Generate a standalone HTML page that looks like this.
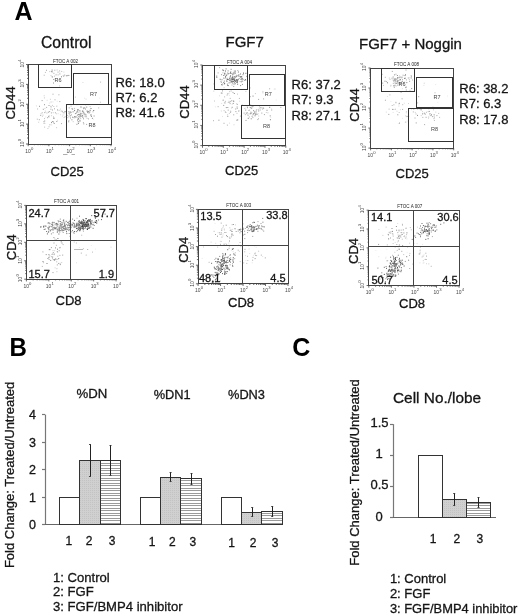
<!DOCTYPE html>
<html><head><meta charset="utf-8"><title>Figure</title>
<style>html,body{margin:0;padding:0;background:#fff;width:520px;height:616px;overflow:hidden;}svg{display:block;will-change:transform;}</style>
</head><body><svg width="520" height="616" viewBox="0 0 520 616" font-family='"Liberation Sans", sans-serif'><defs>
<pattern id="stripes" patternUnits="userSpaceOnUse" width="4" height="5" y="0"><rect width="4" height="5" fill="#fff"/><rect width="4" height="1" fill="#9a9a9a"/><rect y="3" width="4" height="1" fill="#9a9a9a"/></pattern>
<pattern id="grain" patternUnits="userSpaceOnUse" width="2" height="2"><rect width="2" height="2" fill="#d0d0d0"/><rect width="1" height="1" fill="#c3c3c3"/></pattern>
</defs><text x="14.50" y="19.60" font-size="25" text-anchor="start" font-weight="bold" fill="#000">A</text>
<text x="41.00" y="48.30" font-size="15.7" text-anchor="start" font-weight="normal" fill="#151515" stroke="#151515" stroke-width="0.3">Control</text>
<text x="225.50" y="47.00" font-size="15" text-anchor="start" font-weight="normal" fill="#151515" stroke="#151515" stroke-width="0.3">FGF7</text>
<text x="359.00" y="49.00" font-size="15" text-anchor="start" font-weight="normal" fill="#151515" stroke="#151515" stroke-width="0.3">FGF7 + Noggin</text>
<rect x="55.5" y="74.8" width="1" height="1" fill="rgb(213,213,213)"/><rect x="67.6" y="74.9" width="1" height="1" fill="rgb(142,142,142)"/><rect x="55.6" y="73.9" width="1" height="1" fill="rgb(194,194,194)"/><rect x="57.6" y="74.4" width="1" height="1" fill="rgb(183,183,183)"/><rect x="59.4" y="73.6" width="1" height="1" fill="rgb(184,184,184)"/><rect x="64.2" y="74.6" width="1" height="1" fill="rgb(158,158,158)"/><rect x="51.6" y="69.6" width="1" height="1" fill="rgb(137,137,137)"/><rect x="51.7" y="71.4" width="1" height="1" fill="rgb(158,158,158)"/><rect x="68.4" y="75.0" width="1" height="1" fill="rgb(167,167,167)"/><rect x="50.5" y="75.1" width="1" height="1" fill="rgb(203,203,203)"/><rect x="53.0" y="79.0" width="1" height="1" fill="rgb(153,153,153)"/><rect x="63.2" y="75.7" width="1" height="1" fill="rgb(154,154,154)"/><rect x="51.7" y="76.2" width="1" height="1" fill="rgb(138,138,138)"/><rect x="49.3" y="71.1" width="1" height="1" fill="rgb(193,193,193)"/><rect x="54.3" y="69.7" width="1" height="1" fill="rgb(170,170,170)"/><rect x="43.7" y="74.7" width="1" height="1" fill="rgb(176,176,176)"/><rect x="53.7" y="78.9" width="1" height="1" fill="rgb(219,219,219)"/><rect x="57.5" y="71.6" width="1" height="1" fill="rgb(168,168,168)"/><rect x="44.9" y="71.9" width="1" height="1" fill="rgb(187,187,187)"/><rect x="53.0" y="82.5" width="1" height="1" fill="rgb(145,145,145)"/><rect x="53.4" y="72.8" width="1" height="1" fill="rgb(173,173,173)"/><rect x="61.0" y="76.3" width="1" height="1" fill="rgb(135,135,135)"/><rect x="59.3" y="72.7" width="1" height="1" fill="rgb(201,201,201)"/><rect x="46.0" y="69.8" width="1" height="1" fill="rgb(170,170,170)"/><rect x="54.0" y="75.7" width="1" height="1" fill="rgb(193,193,193)"/><rect x="51.2" y="71.1" width="1" height="1" fill="rgb(141,141,141)"/><rect x="63.4" y="71.6" width="1" height="1" fill="rgb(215,215,215)"/><rect x="65.9" y="75.3" width="1" height="1" fill="rgb(169,169,169)"/><rect x="59.1" y="70.4" width="1" height="1" fill="rgb(179,179,179)"/><rect x="61.2" y="70.9" width="1" height="1" fill="rgb(189,189,189)"/><rect x="51.9" y="76.8" width="1" height="1" fill="rgb(193,193,193)"/><rect x="66.6" y="75.2" width="1" height="1" fill="rgb(146,146,146)"/><rect x="56.6" y="69.5" width="1" height="1" fill="rgb(193,193,193)"/><rect x="62.7" y="74.9" width="1" height="1" fill="rgb(200,200,200)"/><rect x="48.5" y="116.3" width="1" height="1" fill="rgb(195,195,195)"/><rect x="51.9" y="104.9" width="1" height="1" fill="rgb(193,193,193)"/><rect x="57.3" y="109.7" width="1" height="1" fill="rgb(188,188,188)"/><rect x="52.0" y="109.5" width="1" height="1" fill="rgb(162,162,162)"/><rect x="53.7" y="122.9" width="1" height="1" fill="rgb(141,141,141)"/><rect x="41.7" y="112.3" width="1" height="1" fill="rgb(173,173,173)"/><rect x="48.4" y="116.5" width="1" height="1" fill="rgb(208,208,208)"/><rect x="44.2" y="120.5" width="1" height="1" fill="rgb(156,156,156)"/><rect x="46.6" y="99.8" width="1" height="1" fill="rgb(219,219,219)"/><rect x="43.9" y="97.4" width="1" height="1" fill="rgb(198,198,198)"/><rect x="56.7" y="100.7" width="1" height="1" fill="rgb(227,227,227)"/><rect x="50.6" y="101.5" width="1" height="1" fill="rgb(191,191,191)"/><rect x="44.0" y="118.1" width="1" height="1" fill="rgb(191,191,191)"/><rect x="50.9" y="112.4" width="1" height="1" fill="rgb(166,166,166)"/><rect x="46.5" y="112.8" width="1" height="1" fill="rgb(216,216,216)"/><rect x="49.1" y="111.1" width="1" height="1" fill="rgb(159,159,159)"/><rect x="35.9" y="105.4" width="1" height="1" fill="rgb(218,218,218)"/><rect x="60.1" y="114.2" width="1" height="1" fill="rgb(218,218,218)"/><rect x="43.4" y="121.0" width="1" height="1" fill="rgb(184,184,184)"/><rect x="44.0" y="104.2" width="1" height="1" fill="rgb(154,154,154)"/><rect x="59.1" y="85.4" width="1" height="1" fill="rgb(199,199,199)"/><rect x="44.3" y="112.1" width="1" height="1" fill="rgb(158,158,158)"/><rect x="53.0" y="116.5" width="1" height="1" fill="rgb(173,173,173)"/><rect x="40.6" y="113.1" width="1" height="1" fill="rgb(206,206,206)"/><rect x="62.4" y="114.6" width="1" height="1" fill="rgb(207,207,207)"/><rect x="43.6" y="122.7" width="1" height="1" fill="rgb(143,143,143)"/><rect x="49.2" y="102.6" width="1" height="1" fill="rgb(222,222,222)"/><rect x="54.5" y="99.3" width="1" height="1" fill="rgb(173,173,173)"/><rect x="37.1" y="108.5" width="1" height="1" fill="rgb(185,185,185)"/><rect x="49.9" y="98.8" width="1" height="1" fill="rgb(204,204,204)"/><rect x="47.1" y="117.2" width="1" height="1" fill="rgb(164,164,164)"/><rect x="52.5" y="93.7" width="1" height="1" fill="rgb(169,169,169)"/><rect x="51.0" y="122.1" width="1" height="1" fill="rgb(143,143,143)"/><rect x="58.7" y="109.8" width="1" height="1" fill="rgb(200,200,200)"/><rect x="48.5" y="126.3" width="1" height="1" fill="rgb(184,184,184)"/><rect x="36.8" y="118.7" width="1" height="1" fill="rgb(184,184,184)"/><rect x="54.0" y="108.3" width="1" height="1" fill="rgb(168,168,168)"/><rect x="54.0" y="117.7" width="1" height="1" fill="rgb(183,183,183)"/><rect x="51.2" y="124.4" width="1" height="1" fill="rgb(218,218,218)"/><rect x="52.4" y="101.4" width="1" height="1" fill="rgb(223,223,223)"/><rect x="44.6" y="122.9" width="1" height="1" fill="rgb(224,224,224)"/><rect x="53.0" y="117.8" width="1" height="1" fill="rgb(165,165,165)"/><rect x="45.6" y="111.9" width="1" height="1" fill="rgb(221,221,221)"/><rect x="44.1" y="126.6" width="1" height="1" fill="rgb(190,190,190)"/><rect x="40.2" y="114.8" width="1" height="1" fill="rgb(150,150,150)"/><rect x="48.5" y="105.0" width="1" height="1" fill="rgb(156,156,156)"/><rect x="56.2" y="113.3" width="1" height="1" fill="rgb(199,199,199)"/><rect x="50.1" y="105.7" width="1" height="1" fill="rgb(216,216,216)"/><rect x="57.0" y="109.2" width="1" height="1" fill="rgb(184,184,184)"/><rect x="52.9" y="121.5" width="1" height="1" fill="rgb(142,142,142)"/><rect x="63.6" y="113.4" width="1" height="1" fill="rgb(223,223,223)"/><rect x="56.3" y="121.0" width="1" height="1" fill="rgb(157,157,157)"/><rect x="38.8" y="119.2" width="1" height="1" fill="rgb(167,167,167)"/><rect x="52.7" y="112.2" width="1" height="1" fill="rgb(204,204,204)"/><rect x="49.4" y="124.3" width="1" height="1" fill="rgb(173,173,173)"/><rect x="39.0" y="105.8" width="1" height="1" fill="rgb(147,147,147)"/><rect x="53.3" y="106.0" width="1" height="1" fill="rgb(198,198,198)"/><rect x="43.7" y="95.3" width="1" height="1" fill="rgb(206,206,206)"/><rect x="38.2" y="121.7" width="1" height="1" fill="rgb(204,204,204)"/><rect x="51.1" y="115.2" width="1" height="1" fill="rgb(205,205,205)"/><rect x="54.9" y="112.3" width="1" height="1" fill="rgb(163,163,163)"/><rect x="41.6" y="100.1" width="1" height="1" fill="rgb(159,159,159)"/><rect x="51.9" y="121.0" width="1" height="1" fill="rgb(155,155,155)"/><rect x="44.4" y="107.9" width="1" height="1" fill="rgb(206,206,206)"/><rect x="42.8" y="108.8" width="1" height="1" fill="rgb(153,153,153)"/><rect x="50.4" y="108.7" width="1" height="1" fill="rgb(164,164,164)"/><rect x="47.4" y="128.0" width="1" height="1" fill="rgb(204,204,204)"/><rect x="47.8" y="111.7" width="1" height="1" fill="rgb(148,148,148)"/><rect x="41.9" y="115.8" width="1" height="1" fill="rgb(204,204,204)"/><rect x="46.1" y="106.9" width="1" height="1" fill="rgb(175,175,175)"/><rect x="42.5" y="114.6" width="1" height="1" fill="rgb(201,201,201)"/><rect x="44.9" y="110.6" width="1" height="1" fill="rgb(206,206,206)"/><rect x="58.4" y="94.3" width="1" height="1" fill="rgb(173,173,173)"/><rect x="59.3" y="101.1" width="1" height="1" fill="rgb(165,165,165)"/><rect x="50.6" y="106.4" width="1" height="1" fill="rgb(155,155,155)"/><rect x="45.3" y="116.5" width="1" height="1" fill="rgb(225,225,225)"/><rect x="49.1" y="114.9" width="1" height="1" fill="rgb(225,225,225)"/><rect x="48.1" y="115.8" width="1" height="1" fill="rgb(159,159,159)"/><rect x="56.3" y="105.7" width="1" height="1" fill="rgb(186,186,186)"/><rect x="56.1" y="127.2" width="1" height="1" fill="rgb(199,199,199)"/><rect x="83.3" y="123.4" width="1" height="1" fill="rgb(160,160,160)"/><rect x="83.1" y="110.8" width="1" height="1" fill="rgb(195,195,195)"/><rect x="82.1" y="110.4" width="1" height="1" fill="rgb(165,165,165)"/><rect x="87.1" y="111.8" width="1" height="1" fill="rgb(163,163,163)"/><rect x="82.0" y="116.4" width="1" height="1" fill="rgb(156,156,156)"/><rect x="88.8" y="112.4" width="1" height="1" fill="rgb(166,166,166)"/><rect x="78.0" y="109.1" width="1" height="1" fill="rgb(176,176,176)"/><rect x="74.0" y="110.1" width="1" height="1" fill="rgb(118,118,118)"/><rect x="91.9" y="117.8" width="1" height="1" fill="rgb(139,139,139)"/><rect x="83.2" y="112.1" width="1" height="1" fill="rgb(143,143,143)"/><rect x="77.9" y="123.0" width="1" height="1" fill="rgb(133,133,133)"/><rect x="79.5" y="115.4" width="1" height="1" fill="rgb(164,164,164)"/><rect x="86.2" y="106.6" width="1" height="1" fill="rgb(143,143,143)"/><rect x="72.8" y="117.2" width="1" height="1" fill="rgb(175,175,175)"/><rect x="70.2" y="111.5" width="1" height="1" fill="rgb(121,121,121)"/><rect x="77.7" y="121.3" width="1" height="1" fill="rgb(133,133,133)"/><rect x="77.6" y="114.2" width="1" height="1" fill="rgb(112,112,112)"/><rect x="71.6" y="108.2" width="1" height="1" fill="rgb(120,120,120)"/><rect x="76.1" y="111.6" width="1" height="1" fill="rgb(143,143,143)"/><rect x="85.0" y="108.5" width="1" height="1" fill="rgb(153,153,153)"/><rect x="87.3" y="111.7" width="1" height="1" fill="rgb(144,144,144)"/><rect x="78.5" y="112.3" width="1" height="1" fill="rgb(200,200,200)"/><rect x="80.2" y="115.1" width="1" height="1" fill="rgb(130,130,130)"/><rect x="79.7" y="115.9" width="1" height="1" fill="rgb(149,149,149)"/><rect x="74.1" y="109.9" width="1" height="1" fill="rgb(136,136,136)"/><rect x="78.0" y="118.4" width="1" height="1" fill="rgb(132,132,132)"/><rect x="78.4" y="121.3" width="1" height="1" fill="rgb(142,142,142)"/><rect x="81.3" y="113.0" width="1" height="1" fill="rgb(174,174,174)"/><rect x="75.7" y="112.7" width="1" height="1" fill="rgb(170,170,170)"/><rect x="80.2" y="117.9" width="1" height="1" fill="rgb(194,194,194)"/><rect x="83.1" y="108.2" width="1" height="1" fill="rgb(173,173,173)"/><rect x="65.9" y="112.4" width="1" height="1" fill="rgb(174,174,174)"/><rect x="78.3" y="116.2" width="1" height="1" fill="rgb(139,139,139)"/><rect x="72.7" y="121.2" width="1" height="1" fill="rgb(200,200,200)"/><rect x="79.5" y="110.6" width="1" height="1" fill="rgb(154,154,154)"/><rect x="93.2" y="110.0" width="1" height="1" fill="rgb(111,111,111)"/><rect x="90.4" y="114.6" width="1" height="1" fill="rgb(142,142,142)"/><rect x="77.9" y="114.0" width="1" height="1" fill="rgb(195,195,195)"/><rect x="87.7" y="104.2" width="1" height="1" fill="rgb(195,195,195)"/><rect x="89.3" y="110.5" width="1" height="1" fill="rgb(198,198,198)"/><rect x="77.9" y="118.1" width="1" height="1" fill="rgb(130,130,130)"/><rect x="79.9" y="113.4" width="1" height="1" fill="rgb(156,156,156)"/><rect x="98.2" y="107.4" width="1" height="1" fill="rgb(180,180,180)"/><rect x="79.2" y="114.2" width="1" height="1" fill="rgb(149,149,149)"/><rect x="80.9" y="115.7" width="1" height="1" fill="rgb(152,152,152)"/><rect x="74.2" y="117.3" width="1" height="1" fill="rgb(174,174,174)"/><rect x="77.1" y="110.6" width="1" height="1" fill="rgb(110,110,110)"/><rect x="90.9" y="115.9" width="1" height="1" fill="rgb(128,128,128)"/><rect x="78.4" y="114.0" width="1" height="1" fill="rgb(112,112,112)"/><rect x="77.0" y="119.5" width="1" height="1" fill="rgb(120,120,120)"/><rect x="72.6" y="111.3" width="1" height="1" fill="rgb(129,129,129)"/><rect x="73.9" y="107.9" width="1" height="1" fill="rgb(186,186,186)"/><rect x="75.2" y="116.3" width="1" height="1" fill="rgb(173,173,173)"/><rect x="86.6" y="117.8" width="1" height="1" fill="rgb(192,192,192)"/><rect x="88.0" y="118.4" width="1" height="1" fill="rgb(175,175,175)"/><rect x="72.1" y="108.9" width="1" height="1" fill="rgb(174,174,174)"/><rect x="85.5" y="116.4" width="1" height="1" fill="rgb(174,174,174)"/><rect x="68.4" y="111.3" width="1" height="1" fill="rgb(112,112,112)"/><rect x="84.3" y="107.1" width="1" height="1" fill="rgb(197,197,197)"/><rect x="89.7" y="109.8" width="1" height="1" fill="rgb(120,120,120)"/><rect x="83.7" y="112.9" width="1" height="1" fill="rgb(156,156,156)"/><rect x="86.6" y="110.9" width="1" height="1" fill="rgb(167,167,167)"/><rect x="70.8" y="112.1" width="1" height="1" fill="rgb(190,190,190)"/><rect x="74.9" y="113.1" width="1" height="1" fill="rgb(143,143,143)"/><rect x="92.5" y="111.3" width="1" height="1" fill="rgb(174,174,174)"/><rect x="82.5" y="111.4" width="1" height="1" fill="rgb(177,177,177)"/><rect x="90.5" y="114.4" width="1" height="1" fill="rgb(142,142,142)"/><rect x="84.9" y="104.2" width="1" height="1" fill="rgb(140,140,140)"/><rect x="79.4" y="110.1" width="1" height="1" fill="rgb(193,193,193)"/><rect x="88.1" y="111.0" width="1" height="1" fill="rgb(158,158,158)"/><rect x="93.6" y="115.5" width="1" height="1" fill="rgb(146,146,146)"/><rect x="81.0" y="106.6" width="1" height="1" fill="rgb(192,192,192)"/><rect x="83.0" y="118.3" width="1" height="1" fill="rgb(152,152,152)"/><rect x="79.7" y="120.5" width="1" height="1" fill="rgb(148,148,148)"/><rect x="77.3" y="111.7" width="1" height="1" fill="rgb(171,171,171)"/><rect x="85.1" y="113.6" width="1" height="1" fill="rgb(196,196,196)"/><rect x="84.0" y="114.2" width="1" height="1" fill="rgb(172,172,172)"/><rect x="77.9" y="118.6" width="1" height="1" fill="rgb(169,169,169)"/><rect x="68.3" y="116.4" width="1" height="1" fill="rgb(180,180,180)"/><rect x="86.1" y="123.9" width="1" height="1" fill="rgb(170,170,170)"/><rect x="87.7" y="112.4" width="1" height="1" fill="rgb(174,174,174)"/><rect x="87.5" y="110.9" width="1" height="1" fill="rgb(144,144,144)"/><rect x="68.2" y="121.3" width="1" height="1" fill="rgb(136,136,136)"/><rect x="82.7" y="113.5" width="1" height="1" fill="rgb(177,177,177)"/><rect x="79.5" y="117.3" width="1" height="1" fill="rgb(187,187,187)"/><rect x="83.6" y="107.6" width="1" height="1" fill="rgb(124,124,124)"/><rect x="78.5" y="110.1" width="1" height="1" fill="rgb(172,172,172)"/><rect x="76.8" y="115.1" width="1" height="1" fill="rgb(172,172,172)"/><rect x="77.0" y="109.3" width="1" height="1" fill="rgb(128,128,128)"/><rect x="74.1" y="116.1" width="1" height="1" fill="rgb(125,125,125)"/><rect x="80.2" y="112.7" width="1" height="1" fill="rgb(153,153,153)"/><rect x="81.9" y="110.8" width="1" height="1" fill="rgb(135,135,135)"/><rect x="76.5" y="104.1" width="1" height="1" fill="rgb(147,147,147)"/><rect x="79.9" y="114.7" width="1" height="1" fill="rgb(159,159,159)"/><rect x="89.3" y="111.6" width="1" height="1" fill="rgb(156,156,156)"/><rect x="90.5" y="108.0" width="1" height="1" fill="rgb(116,116,116)"/><rect x="79.6" y="114.5" width="1" height="1" fill="rgb(194,194,194)"/><rect x="76.4" y="123.8" width="1" height="1" fill="rgb(141,141,141)"/><rect x="87.4" y="111.0" width="1" height="1" fill="rgb(150,150,150)"/><rect x="82.5" y="116.7" width="1" height="1" fill="rgb(164,164,164)"/><rect x="89.6" y="106.1" width="1" height="1" fill="rgb(190,190,190)"/><rect x="68.4" y="120.1" width="1" height="1" fill="rgb(180,180,180)"/><rect x="69.4" y="112.4" width="1" height="1" fill="rgb(116,116,116)"/><rect x="86.6" y="110.1" width="1" height="1" fill="rgb(188,188,188)"/><rect x="80.2" y="106.5" width="1" height="1" fill="rgb(146,146,146)"/><rect x="64.6" y="116.2" width="1" height="1" fill="rgb(180,180,180)"/><rect x="85.5" y="115.8" width="1" height="1" fill="rgb(153,153,153)"/><rect x="78.9" y="116.6" width="1" height="1" fill="rgb(193,193,193)"/><rect x="79.3" y="119.7" width="1" height="1" fill="rgb(148,148,148)"/><rect x="69.7" y="115.3" width="1" height="1" fill="rgb(125,125,125)"/><rect x="82.1" y="115.0" width="1" height="1" fill="rgb(136,136,136)"/><rect x="67.2" y="114.9" width="1" height="1" fill="rgb(180,180,180)"/><rect x="82.9" y="122.2" width="1" height="1" fill="rgb(167,167,167)"/><rect x="72.1" y="116.7" width="1" height="1" fill="rgb(141,141,141)"/><rect x="85.4" y="114.4" width="1" height="1" fill="rgb(121,121,121)"/><rect x="77.2" y="117.3" width="1" height="1" fill="rgb(182,182,182)"/><rect x="80.4" y="113.8" width="1" height="1" fill="rgb(162,162,162)"/><rect x="71.4" y="119.3" width="1" height="1" fill="rgb(136,136,136)"/><rect x="75.5" y="116.5" width="1" height="1" fill="rgb(117,117,117)"/><rect x="70.9" y="114.4" width="1" height="1" fill="rgb(156,156,156)"/><rect x="67.3" y="117.4" width="1" height="1" fill="rgb(230,230,230)"/><rect x="65.9" y="106.5" width="1" height="1" fill="rgb(161,161,161)"/><rect x="63.6" y="117.0" width="1" height="1" fill="rgb(201,201,201)"/><rect x="61.4" y="110.6" width="1" height="1" fill="rgb(189,189,189)"/><rect x="68.7" y="107.4" width="1" height="1" fill="rgb(152,152,152)"/><rect x="66.9" y="117.0" width="1" height="1" fill="rgb(210,210,210)"/><rect x="68.5" y="113.1" width="1" height="1" fill="rgb(159,159,159)"/><rect x="56.9" y="119.8" width="1" height="1" fill="rgb(217,217,217)"/><rect x="70.6" y="105.6" width="1" height="1" fill="rgb(181,181,181)"/><rect x="64.6" y="111.2" width="1" height="1" fill="rgb(169,169,169)"/><rect x="58.0" y="113.2" width="1" height="1" fill="rgb(235,235,235)"/><rect x="59.9" y="108.6" width="1" height="1" fill="rgb(208,208,208)"/><rect x="70.0" y="117.5" width="1" height="1" fill="rgb(150,150,150)"/><rect x="64.6" y="111.1" width="1" height="1" fill="rgb(154,154,154)"/><rect x="61.9" y="111.3" width="1" height="1" fill="rgb(166,166,166)"/><rect x="60.6" y="110.5" width="1" height="1" fill="rgb(205,205,205)"/><rect x="63.4" y="112.2" width="1" height="1" fill="rgb(159,159,159)"/><rect x="61.0" y="123.1" width="1" height="1" fill="rgb(174,174,174)"/><rect x="61.8" y="115.8" width="1" height="1" fill="rgb(226,226,226)"/><rect x="69.0" y="114.0" width="1" height="1" fill="rgb(208,208,208)"/><rect x="82.8" y="107.0" width="1" height="1" fill="rgb(201,201,201)"/><rect x="74.9" y="96.6" width="1" height="1" fill="rgb(201,201,201)"/><rect x="99.2" y="97.6" width="1" height="1" fill="rgb(235,235,235)"/><rect x="84.0" y="97.7" width="1" height="1" fill="rgb(233,233,233)"/><rect x="100.1" y="81.6" width="1" height="1" fill="rgb(180,180,180)"/><rect x="84.1" y="115.8" width="1" height="1" fill="rgb(217,217,217)"/><rect x="85.5" y="98.6" width="1" height="1" fill="rgb(213,213,213)"/><rect x="82.4" y="82.0" width="1" height="1" fill="rgb(220,220,220)"/><rect x="93.0" y="118.7" width="1" height="1" fill="rgb(234,234,234)"/><rect x="99.9" y="101.7" width="1" height="1" fill="rgb(195,195,195)"/>
<rect x="28.50" y="64.50" width="83.00" height="80.00" stroke="#444" stroke-width="1" fill="none"/>
<path d="M28.20,144.00v2.2M28.20,144.00h-2.2M34.43,144.00v1.2M28.20,138.02h-1.2M38.08,144.00v1.2M28.20,134.52h-1.2M40.66,144.00v1.2M28.20,132.03h-1.2M42.67,144.00v1.2M28.20,130.11h-1.2M44.31,144.00v1.2M28.20,128.53h-1.2M45.69,144.00v1.2M28.20,127.20h-1.2M46.89,144.00v1.2M28.20,126.05h-1.2M47.95,144.00v1.2M28.20,125.03h-1.2M48.90,144.00v2.2M28.20,124.12h-2.2M55.13,144.00v1.2M28.20,118.14h-1.2M58.78,144.00v1.2M28.20,114.64h-1.2M61.36,144.00v1.2M28.20,112.16h-1.2M63.37,144.00v1.2M28.20,110.23h-1.2M65.01,144.00v1.2M28.20,108.66h-1.2M66.39,144.00v1.2M28.20,107.33h-1.2M67.59,144.00v1.2M28.20,106.18h-1.2M68.65,144.00v1.2M28.20,105.16h-1.2M69.60,144.00v2.2M28.20,104.25h-2.2M75.83,144.00v1.2M28.20,98.27h-1.2M79.48,144.00v1.2M28.20,94.77h-1.2M82.06,144.00v1.2M28.20,92.28h-1.2M84.07,144.00v1.2M28.20,90.36h-1.2M85.71,144.00v1.2M28.20,88.78h-1.2M87.09,144.00v1.2M28.20,87.45h-1.2M88.29,144.00v1.2M28.20,86.30h-1.2M89.35,144.00v1.2M28.20,85.28h-1.2M90.30,144.00v2.2M28.20,84.38h-2.2M96.53,144.00v1.2M28.20,78.39h-1.2M100.18,144.00v1.2M28.20,74.89h-1.2M102.76,144.00v1.2M28.20,72.41h-1.2M104.77,144.00v1.2M28.20,70.48h-1.2M106.41,144.00v1.2M28.20,68.91h-1.2M107.79,144.00v1.2M28.20,67.58h-1.2M108.99,144.00v1.2M28.20,66.43h-1.2M110.05,144.00v1.2M28.20,65.41h-1.2M111.00,144.00v2.2M28.20,64.50h-2.2" stroke="#444" stroke-width="0.8" fill="none"/>
<text x="25.20" y="152.50" font-size="5.2" fill="#444" textLength="5.5" lengthAdjust="spacingAndGlyphs">10</text><text x="30.90" y="149.50" font-size="4.2" fill="#444">0</text>
<g transform="translate(23.70 147.00) rotate(-90)"><text x="0" y="0" font-size="5.2" fill="#444" textLength="5.5" lengthAdjust="spacingAndGlyphs">10</text><text x="5.7" y="-3" font-size="4.2" fill="#444">0</text></g>
<text x="45.90" y="152.50" font-size="5.2" fill="#444" textLength="5.5" lengthAdjust="spacingAndGlyphs">10</text><text x="51.60" y="149.50" font-size="4.2" fill="#444">1</text>
<g transform="translate(23.70 127.12) rotate(-90)"><text x="0" y="0" font-size="5.2" fill="#444" textLength="5.5" lengthAdjust="spacingAndGlyphs">10</text><text x="5.7" y="-3" font-size="4.2" fill="#444">1</text></g>
<text x="66.60" y="152.50" font-size="5.2" fill="#444" textLength="5.5" lengthAdjust="spacingAndGlyphs">10</text><text x="72.30" y="149.50" font-size="4.2" fill="#444">2</text>
<g transform="translate(23.70 107.25) rotate(-90)"><text x="0" y="0" font-size="5.2" fill="#444" textLength="5.5" lengthAdjust="spacingAndGlyphs">10</text><text x="5.7" y="-3" font-size="4.2" fill="#444">2</text></g>
<text x="87.30" y="152.50" font-size="5.2" fill="#444" textLength="5.5" lengthAdjust="spacingAndGlyphs">10</text><text x="93.00" y="149.50" font-size="4.2" fill="#444">3</text>
<g transform="translate(23.70 87.38) rotate(-90)"><text x="0" y="0" font-size="5.2" fill="#444" textLength="5.5" lengthAdjust="spacingAndGlyphs">10</text><text x="5.7" y="-3" font-size="4.2" fill="#444">3</text></g>
<text x="108.00" y="152.50" font-size="5.2" fill="#444" textLength="5.5" lengthAdjust="spacingAndGlyphs">10</text><text x="113.70" y="149.50" font-size="4.2" fill="#444">4</text>
<g transform="translate(23.70 67.50) rotate(-90)"><text x="0" y="0" font-size="5.2" fill="#444" textLength="5.5" lengthAdjust="spacingAndGlyphs">10</text><text x="5.7" y="-3" font-size="4.2" fill="#444">4</text></g>
<rect x="38.50" y="64.50" width="33.00" height="23.00" stroke="#333" stroke-width="1" fill="none"/>
<rect x="73.50" y="73.50" width="35.00" height="31.00" stroke="#333" stroke-width="1" fill="none"/>
<rect x="66.50" y="104.50" width="45.00" height="33.00" stroke="#333" stroke-width="1" fill="none"/>
<text x="58.00" y="82.00" font-size="5.5" text-anchor="middle" font-weight="normal" fill="#444">R6</text>
<text x="93.50" y="95.50" font-size="5.5" text-anchor="middle" font-weight="normal" fill="#444">R7</text>
<text x="92.00" y="127.00" font-size="5.5" text-anchor="middle" font-weight="normal" fill="#444">R8</text>
<text x="53.00" y="62.70" font-size="6" text-anchor="start" font-weight="normal" fill="#222" textLength="25" lengthAdjust="spacingAndGlyphs">FTOC A 002</text>
<text x="115.50" y="86.50" font-size="13" text-anchor="start" font-weight="normal" fill="#151515" stroke="#151515" stroke-width="0.3">R6: 18.0</text>
<text x="115.50" y="101.50" font-size="13" text-anchor="start" font-weight="normal" fill="#151515" stroke="#151515" stroke-width="0.3">R7: 6.2</text>
<text x="115.50" y="116.50" font-size="13" text-anchor="start" font-weight="normal" fill="#151515" stroke="#151515" stroke-width="0.3">R8: 41.6</text>
<text x="15.40" y="103.00" font-size="13" text-anchor="middle" font-weight="normal" fill="#151515" stroke="#151515" stroke-width="0.3" transform="rotate(-90 15.4 103)">CD44</text>
<text x="50.50" y="176.00" font-size="13" text-anchor="start" font-weight="normal" fill="#151515" stroke="#151515" stroke-width="0.3">CD25</text>
<rect x="227.1" y="84.7" width="1" height="1" fill="rgb(129,129,129)"/><rect x="226.6" y="77.8" width="1" height="1" fill="rgb(137,137,137)"/><rect x="239.6" y="81.0" width="1" height="1" fill="rgb(178,178,178)"/><rect x="233.9" y="80.0" width="1" height="1" fill="rgb(153,153,153)"/><rect x="234.0" y="76.2" width="1" height="1" fill="rgb(176,176,176)"/><rect x="236.2" y="80.6" width="1" height="1" fill="rgb(127,127,127)"/><rect x="241.3" y="77.9" width="1" height="1" fill="rgb(153,153,153)"/><rect x="234.3" y="77.5" width="1" height="1" fill="rgb(150,150,150)"/><rect x="221.5" y="79.2" width="1" height="1" fill="rgb(140,140,140)"/><rect x="237.7" y="75.3" width="1" height="1" fill="rgb(123,123,123)"/><rect x="227.1" y="72.5" width="1" height="1" fill="rgb(159,159,159)"/><rect x="242.1" y="78.3" width="1" height="1" fill="rgb(148,148,148)"/><rect x="228.9" y="77.8" width="1" height="1" fill="rgb(110,110,110)"/><rect x="230.8" y="81.1" width="1" height="1" fill="rgb(115,115,115)"/><rect x="221.1" y="74.2" width="1" height="1" fill="rgb(148,148,148)"/><rect x="223.9" y="83.5" width="1" height="1" fill="rgb(155,155,155)"/><rect x="241.3" y="80.7" width="1" height="1" fill="rgb(125,125,125)"/><rect x="221.0" y="84.2" width="1" height="1" fill="rgb(124,124,124)"/><rect x="226.9" y="83.6" width="1" height="1" fill="rgb(160,160,160)"/><rect x="239.1" y="77.9" width="1" height="1" fill="rgb(180,180,180)"/><rect x="232.2" y="75.7" width="1" height="1" fill="rgb(104,104,104)"/><rect x="219.7" y="78.8" width="1" height="1" fill="rgb(107,107,107)"/><rect x="231.5" y="84.5" width="1" height="1" fill="rgb(177,177,177)"/><rect x="229.0" y="80.0" width="1" height="1" fill="rgb(178,178,178)"/><rect x="243.2" y="79.0" width="1" height="1" fill="rgb(188,188,188)"/><rect x="229.7" y="80.3" width="1" height="1" fill="rgb(100,100,100)"/><rect x="230.3" y="71.0" width="1" height="1" fill="rgb(181,181,181)"/><rect x="234.4" y="76.5" width="1" height="1" fill="rgb(129,129,129)"/><rect x="240.7" y="81.5" width="1" height="1" fill="rgb(159,159,159)"/><rect x="238.6" y="75.7" width="1" height="1" fill="rgb(132,132,132)"/><rect x="243.0" y="72.7" width="1" height="1" fill="rgb(116,116,116)"/><rect x="236.0" y="75.8" width="1" height="1" fill="rgb(138,138,138)"/><rect x="237.3" y="70.0" width="1" height="1" fill="rgb(177,177,177)"/><rect x="233.2" y="85.9" width="1" height="1" fill="rgb(158,158,158)"/><rect x="224.1" y="83.0" width="1" height="1" fill="rgb(110,110,110)"/><rect x="225.0" y="76.7" width="1" height="1" fill="rgb(120,120,120)"/><rect x="232.0" y="78.6" width="1" height="1" fill="rgb(104,104,104)"/><rect x="223.3" y="77.6" width="1" height="1" fill="rgb(120,120,120)"/><rect x="246.4" y="75.8" width="1" height="1" fill="rgb(109,109,109)"/><rect x="231.7" y="78.9" width="1" height="1" fill="rgb(112,112,112)"/><rect x="213.6" y="83.4" width="1" height="1" fill="rgb(157,157,157)"/><rect x="233.7" y="79.1" width="1" height="1" fill="rgb(158,158,158)"/><rect x="224.4" y="72.4" width="1" height="1" fill="rgb(168,168,168)"/><rect x="237.9" y="71.5" width="1" height="1" fill="rgb(115,115,115)"/><rect x="233.1" y="73.3" width="1" height="1" fill="rgb(135,135,135)"/><rect x="225.8" y="75.2" width="1" height="1" fill="rgb(133,133,133)"/><rect x="233.7" y="80.2" width="1" height="1" fill="rgb(131,131,131)"/><rect x="232.5" y="80.6" width="1" height="1" fill="rgb(174,174,174)"/><rect x="233.0" y="78.5" width="1" height="1" fill="rgb(132,132,132)"/><rect x="240.3" y="76.7" width="1" height="1" fill="rgb(129,129,129)"/><rect x="230.1" y="75.3" width="1" height="1" fill="rgb(159,159,159)"/><rect x="235.2" y="76.9" width="1" height="1" fill="rgb(160,160,160)"/><rect x="235.8" y="74.8" width="1" height="1" fill="rgb(157,157,157)"/><rect x="233.7" y="76.3" width="1" height="1" fill="rgb(137,137,137)"/><rect x="232.2" y="78.4" width="1" height="1" fill="rgb(176,176,176)"/><rect x="241.1" y="76.0" width="1" height="1" fill="rgb(109,109,109)"/><rect x="222.2" y="83.5" width="1" height="1" fill="rgb(157,157,157)"/><rect x="222.4" y="72.3" width="1" height="1" fill="rgb(185,185,185)"/><rect x="235.1" y="76.3" width="1" height="1" fill="rgb(176,176,176)"/><rect x="230.4" y="73.0" width="1" height="1" fill="rgb(104,104,104)"/><rect x="229.4" y="78.8" width="1" height="1" fill="rgb(126,126,126)"/><rect x="234.0" y="77.0" width="1" height="1" fill="rgb(183,183,183)"/><rect x="243.0" y="72.7" width="1" height="1" fill="rgb(141,141,141)"/><rect x="226.3" y="79.3" width="1" height="1" fill="rgb(179,179,179)"/><rect x="230.2" y="79.8" width="1" height="1" fill="rgb(163,163,163)"/><rect x="229.6" y="76.5" width="1" height="1" fill="rgb(112,112,112)"/><rect x="234.9" y="70.6" width="1" height="1" fill="rgb(119,119,119)"/><rect x="230.0" y="75.5" width="1" height="1" fill="rgb(120,120,120)"/><rect x="227.5" y="79.1" width="1" height="1" fill="rgb(136,136,136)"/><rect x="228.4" y="72.9" width="1" height="1" fill="rgb(106,106,106)"/><rect x="228.5" y="82.4" width="1" height="1" fill="rgb(145,145,145)"/><rect x="230.8" y="77.4" width="1" height="1" fill="rgb(146,146,146)"/><rect x="227.7" y="73.5" width="1" height="1" fill="rgb(151,151,151)"/><rect x="232.2" y="77.5" width="1" height="1" fill="rgb(120,120,120)"/><rect x="220.5" y="80.8" width="1" height="1" fill="rgb(151,151,151)"/><rect x="226.1" y="75.0" width="1" height="1" fill="rgb(120,120,120)"/><rect x="233.6" y="78.1" width="1" height="1" fill="rgb(118,118,118)"/><rect x="222.3" y="69.4" width="1" height="1" fill="rgb(111,111,111)"/><rect x="217.6" y="72.4" width="1" height="1" fill="rgb(164,164,164)"/><rect x="235.1" y="80.7" width="1" height="1" fill="rgb(120,120,120)"/><rect x="216.2" y="75.6" width="1" height="1" fill="rgb(113,113,113)"/><rect x="223.3" y="82.0" width="1" height="1" fill="rgb(125,125,125)"/><rect x="227.7" y="85.1" width="1" height="1" fill="rgb(105,105,105)"/><rect x="239.9" y="76.2" width="1" height="1" fill="rgb(106,106,106)"/><rect x="224.2" y="73.0" width="1" height="1" fill="rgb(111,111,111)"/><rect x="240.0" y="73.5" width="1" height="1" fill="rgb(120,120,120)"/><rect x="223.2" y="70.2" width="1" height="1" fill="rgb(179,179,179)"/><rect x="220.8" y="81.9" width="1" height="1" fill="rgb(160,160,160)"/><rect x="234.0" y="79.9" width="1" height="1" fill="rgb(151,151,151)"/><rect x="235.8" y="76.0" width="1" height="1" fill="rgb(145,145,145)"/><rect x="235.8" y="79.4" width="1" height="1" fill="rgb(124,124,124)"/><rect x="240.7" y="78.5" width="1" height="1" fill="rgb(186,186,186)"/><rect x="245.0" y="79.0" width="1" height="1" fill="rgb(115,115,115)"/><rect x="226.1" y="80.2" width="1" height="1" fill="rgb(180,180,180)"/><rect x="233.8" y="70.6" width="1" height="1" fill="rgb(139,139,139)"/><rect x="225.6" y="74.6" width="1" height="1" fill="rgb(184,184,184)"/><rect x="226.4" y="80.9" width="1" height="1" fill="rgb(122,122,122)"/><rect x="241.6" y="77.9" width="1" height="1" fill="rgb(162,162,162)"/><rect x="224.6" y="78.1" width="1" height="1" fill="rgb(179,179,179)"/><rect x="233.5" y="72.1" width="1" height="1" fill="rgb(122,122,122)"/><rect x="234.6" y="72.8" width="1" height="1" fill="rgb(108,108,108)"/><rect x="237.1" y="80.4" width="1" height="1" fill="rgb(111,111,111)"/><rect x="234.7" y="72.0" width="1" height="1" fill="rgb(184,184,184)"/><rect x="241.6" y="78.6" width="1" height="1" fill="rgb(110,110,110)"/><rect x="237.4" y="75.2" width="1" height="1" fill="rgb(165,165,165)"/><rect x="242.2" y="80.6" width="1" height="1" fill="rgb(148,148,148)"/><rect x="225.0" y="70.5" width="1" height="1" fill="rgb(103,103,103)"/><rect x="230.6" y="68.8" width="1" height="1" fill="rgb(124,124,124)"/><rect x="241.9" y="83.9" width="1" height="1" fill="rgb(136,136,136)"/><rect x="247.0" y="74.3" width="1" height="1" fill="rgb(121,121,121)"/><rect x="227.6" y="70.4" width="1" height="1" fill="rgb(128,128,128)"/><rect x="238.0" y="78.7" width="1" height="1" fill="rgb(132,132,132)"/><rect x="240.1" y="85.1" width="1" height="1" fill="rgb(135,135,135)"/><rect x="238.4" y="74.2" width="1" height="1" fill="rgb(132,132,132)"/><rect x="216.3" y="76.9" width="1" height="1" fill="rgb(126,126,126)"/><rect x="223.9" y="73.6" width="1" height="1" fill="rgb(130,130,130)"/><rect x="231.2" y="78.1" width="1" height="1" fill="rgb(123,123,123)"/><rect x="223.8" y="80.6" width="1" height="1" fill="rgb(135,135,135)"/><rect x="225.6" y="68.4" width="1" height="1" fill="rgb(121,121,121)"/><rect x="233.4" y="73.6" width="1" height="1" fill="rgb(167,167,167)"/><rect x="245.2" y="79.7" width="1" height="1" fill="rgb(157,157,157)"/><rect x="223.3" y="75.0" width="1" height="1" fill="rgb(113,113,113)"/><rect x="231.9" y="82.6" width="1" height="1" fill="rgb(150,150,150)"/><rect x="231.5" y="72.7" width="1" height="1" fill="rgb(148,148,148)"/><rect x="241.2" y="76.6" width="1" height="1" fill="rgb(146,146,146)"/><rect x="230.6" y="78.6" width="1" height="1" fill="rgb(129,129,129)"/><rect x="237.1" y="83.7" width="1" height="1" fill="rgb(106,106,106)"/><rect x="229.6" y="82.2" width="1" height="1" fill="rgb(139,139,139)"/><rect x="219.1" y="67.1" width="1" height="1" fill="rgb(174,174,174)"/><rect x="245.4" y="72.8" width="1" height="1" fill="rgb(100,100,100)"/><rect x="231.9" y="73.8" width="1" height="1" fill="rgb(137,137,137)"/><rect x="226.4" y="73.8" width="1" height="1" fill="rgb(165,165,165)"/><rect x="230.6" y="78.1" width="1" height="1" fill="rgb(162,162,162)"/><rect x="233.5" y="83.5" width="1" height="1" fill="rgb(102,102,102)"/><rect x="240.5" y="79.0" width="1" height="1" fill="rgb(138,138,138)"/><rect x="237.2" y="79.6" width="1" height="1" fill="rgb(128,128,128)"/><rect x="226.9" y="79.0" width="1" height="1" fill="rgb(117,117,117)"/><rect x="234.8" y="83.0" width="1" height="1" fill="rgb(160,160,160)"/><rect x="232.6" y="77.6" width="1" height="1" fill="rgb(131,131,131)"/><rect x="230.0" y="72.2" width="1" height="1" fill="rgb(108,108,108)"/><rect x="222.8" y="70.0" width="1" height="1" fill="rgb(134,134,134)"/><rect x="227.5" y="79.0" width="1" height="1" fill="rgb(101,101,101)"/><rect x="244.2" y="79.9" width="1" height="1" fill="rgb(144,144,144)"/><rect x="224.4" y="73.7" width="1" height="1" fill="rgb(177,177,177)"/><rect x="242.5" y="74.2" width="1" height="1" fill="rgb(131,131,131)"/><rect x="232.1" y="77.1" width="1" height="1" fill="rgb(107,107,107)"/><rect x="225.0" y="76.1" width="1" height="1" fill="rgb(130,130,130)"/><rect x="236.3" y="119.7" width="1" height="1" fill="rgb(153,153,153)"/><rect x="236.8" y="103.9" width="1" height="1" fill="rgb(165,165,165)"/><rect x="230.9" y="107.7" width="1" height="1" fill="rgb(217,217,217)"/><rect x="221.7" y="92.8" width="1" height="1" fill="rgb(193,193,193)"/><rect x="229.7" y="97.9" width="1" height="1" fill="rgb(179,179,179)"/><rect x="237.0" y="107.9" width="1" height="1" fill="rgb(201,201,201)"/><rect x="227.8" y="102.0" width="1" height="1" fill="rgb(195,195,195)"/><rect x="227.8" y="92.9" width="1" height="1" fill="rgb(223,223,223)"/><rect x="223.2" y="104.9" width="1" height="1" fill="rgb(153,153,153)"/><rect x="227.3" y="115.9" width="1" height="1" fill="rgb(155,155,155)"/><rect x="222.0" y="115.9" width="1" height="1" fill="rgb(228,228,228)"/><rect x="233.1" y="100.5" width="1" height="1" fill="rgb(146,146,146)"/><rect x="227.1" y="114.4" width="1" height="1" fill="rgb(195,195,195)"/><rect x="221.9" y="84.5" width="1" height="1" fill="rgb(173,173,173)"/><rect x="223.5" y="122.8" width="1" height="1" fill="rgb(167,167,167)"/><rect x="235.2" y="108.5" width="1" height="1" fill="rgb(161,161,161)"/><rect x="227.7" y="109.6" width="1" height="1" fill="rgb(165,165,165)"/><rect x="238.9" y="97.9" width="1" height="1" fill="rgb(181,181,181)"/><rect x="230.5" y="111.3" width="1" height="1" fill="rgb(216,216,216)"/><rect x="229.0" y="122.6" width="1" height="1" fill="rgb(220,220,220)"/><rect x="245.4" y="91.0" width="1" height="1" fill="rgb(208,208,208)"/><rect x="214.9" y="106.3" width="1" height="1" fill="rgb(229,229,229)"/><rect x="229.6" y="103.1" width="1" height="1" fill="rgb(169,169,169)"/><rect x="222.6" y="99.7" width="1" height="1" fill="rgb(167,167,167)"/><rect x="220.8" y="110.5" width="1" height="1" fill="rgb(212,212,212)"/><rect x="231.3" y="100.3" width="1" height="1" fill="rgb(143,143,143)"/><rect x="235.4" y="111.1" width="1" height="1" fill="rgb(160,160,160)"/><rect x="225.8" y="107.1" width="1" height="1" fill="rgb(143,143,143)"/><rect x="231.7" y="103.9" width="1" height="1" fill="rgb(222,222,222)"/><rect x="220.8" y="92.6" width="1" height="1" fill="rgb(145,145,145)"/><rect x="236.6" y="107.8" width="1" height="1" fill="rgb(186,186,186)"/><rect x="233.5" y="124.3" width="1" height="1" fill="rgb(208,208,208)"/><rect x="230.0" y="100.9" width="1" height="1" fill="rgb(189,189,189)"/><rect x="231.7" y="106.8" width="1" height="1" fill="rgb(154,154,154)"/><rect x="244.7" y="107.6" width="1" height="1" fill="rgb(221,221,221)"/><rect x="238.0" y="110.8" width="1" height="1" fill="rgb(220,220,220)"/><rect x="227.3" y="107.0" width="1" height="1" fill="rgb(152,152,152)"/><rect x="230.6" y="90.5" width="1" height="1" fill="rgb(177,177,177)"/><rect x="224.9" y="111.6" width="1" height="1" fill="rgb(142,142,142)"/><rect x="218.4" y="119.7" width="1" height="1" fill="rgb(146,146,146)"/><rect x="226.6" y="94.6" width="1" height="1" fill="rgb(181,181,181)"/><rect x="229.1" y="90.9" width="1" height="1" fill="rgb(200,200,200)"/><rect x="233.8" y="93.0" width="1" height="1" fill="rgb(143,143,143)"/><rect x="228.4" y="100.8" width="1" height="1" fill="rgb(206,206,206)"/><rect x="228.9" y="94.8" width="1" height="1" fill="rgb(230,230,230)"/><rect x="236.6" y="106.5" width="1" height="1" fill="rgb(151,151,151)"/><rect x="222.9" y="99.7" width="1" height="1" fill="rgb(195,195,195)"/><rect x="232.7" y="103.0" width="1" height="1" fill="rgb(146,146,146)"/><rect x="236.1" y="103.3" width="1" height="1" fill="rgb(202,202,202)"/><rect x="223.6" y="87.2" width="1" height="1" fill="rgb(203,203,203)"/><rect x="213.3" y="90.6" width="1" height="1" fill="rgb(205,205,205)"/><rect x="226.9" y="124.6" width="1" height="1" fill="rgb(176,176,176)"/><rect x="234.6" y="83.5" width="1" height="1" fill="rgb(169,169,169)"/><rect x="224.6" y="103.0" width="1" height="1" fill="rgb(221,221,221)"/><rect x="228.9" y="92.6" width="1" height="1" fill="rgb(229,229,229)"/><rect x="225.0" y="101.4" width="1" height="1" fill="rgb(181,181,181)"/><rect x="223.6" y="110.2" width="1" height="1" fill="rgb(190,190,190)"/><rect x="237.0" y="93.6" width="1" height="1" fill="rgb(194,194,194)"/><rect x="229.2" y="101.7" width="1" height="1" fill="rgb(166,166,166)"/><rect x="225.6" y="112.0" width="1" height="1" fill="rgb(209,209,209)"/><rect x="221.2" y="102.9" width="1" height="1" fill="rgb(220,220,220)"/><rect x="228.8" y="113.0" width="1" height="1" fill="rgb(208,208,208)"/><rect x="219.1" y="95.3" width="1" height="1" fill="rgb(217,217,217)"/><rect x="224.1" y="96.4" width="1" height="1" fill="rgb(181,181,181)"/><rect x="214.0" y="100.5" width="1" height="1" fill="rgb(197,197,197)"/><rect x="222.0" y="90.4" width="1" height="1" fill="rgb(161,161,161)"/><rect x="217.6" y="106.2" width="1" height="1" fill="rgb(172,172,172)"/><rect x="224.8" y="100.8" width="1" height="1" fill="rgb(199,199,199)"/><rect x="221.3" y="92.1" width="1" height="1" fill="rgb(204,204,204)"/><rect x="230.1" y="110.1" width="1" height="1" fill="rgb(230,230,230)"/><rect x="232.5" y="91.9" width="1" height="1" fill="rgb(159,159,159)"/><rect x="239.1" y="100.7" width="1" height="1" fill="rgb(217,217,217)"/><rect x="223.9" y="102.3" width="1" height="1" fill="rgb(181,181,181)"/><rect x="233.2" y="101.1" width="1" height="1" fill="rgb(153,153,153)"/><rect x="233.2" y="114.3" width="1" height="1" fill="rgb(165,165,165)"/><rect x="213.0" y="120.2" width="1" height="1" fill="rgb(178,178,178)"/><rect x="227.2" y="93.4" width="1" height="1" fill="rgb(165,165,165)"/><rect x="239.9" y="115.6" width="1" height="1" fill="rgb(175,175,175)"/><rect x="229.9" y="111.6" width="1" height="1" fill="rgb(144,144,144)"/><rect x="241.7" y="104.4" width="1" height="1" fill="rgb(195,195,195)"/><rect x="251.7" y="107.4" width="1" height="1" fill="rgb(200,200,200)"/><rect x="254.5" y="113.0" width="1" height="1" fill="rgb(152,152,152)"/><rect x="248.5" y="109.9" width="1" height="1" fill="rgb(151,151,151)"/><rect x="262.1" y="108.7" width="1" height="1" fill="rgb(193,193,193)"/><rect x="245.2" y="109.6" width="1" height="1" fill="rgb(149,149,149)"/><rect x="249.3" y="106.9" width="1" height="1" fill="rgb(202,202,202)"/><rect x="250.2" y="104.1" width="1" height="1" fill="rgb(206,206,206)"/><rect x="256.7" y="113.9" width="1" height="1" fill="rgb(175,175,175)"/><rect x="250.7" y="118.3" width="1" height="1" fill="rgb(132,132,132)"/><rect x="259.7" y="109.5" width="1" height="1" fill="rgb(171,171,171)"/><rect x="252.4" y="106.1" width="1" height="1" fill="rgb(152,152,152)"/><rect x="260.4" y="107.3" width="1" height="1" fill="rgb(122,122,122)"/><rect x="249.1" y="109.4" width="1" height="1" fill="rgb(206,206,206)"/><rect x="246.4" y="105.1" width="1" height="1" fill="rgb(203,203,203)"/><rect x="254.4" y="112.6" width="1" height="1" fill="rgb(182,182,182)"/><rect x="258.2" y="110.5" width="1" height="1" fill="rgb(152,152,152)"/><rect x="250.4" y="111.7" width="1" height="1" fill="rgb(145,145,145)"/><rect x="251.3" y="112.1" width="1" height="1" fill="rgb(193,193,193)"/><rect x="249.8" y="113.3" width="1" height="1" fill="rgb(180,180,180)"/><rect x="243.6" y="112.6" width="1" height="1" fill="rgb(167,167,167)"/><rect x="246.9" y="112.2" width="1" height="1" fill="rgb(178,178,178)"/><rect x="258.0" y="118.3" width="1" height="1" fill="rgb(170,170,170)"/><rect x="236.5" y="112.9" width="1" height="1" fill="rgb(198,198,198)"/><rect x="253.3" y="113.4" width="1" height="1" fill="rgb(155,155,155)"/><rect x="252.9" y="113.3" width="1" height="1" fill="rgb(129,129,129)"/><rect x="247.7" y="115.0" width="1" height="1" fill="rgb(209,209,209)"/><rect x="250.2" y="107.2" width="1" height="1" fill="rgb(133,133,133)"/><rect x="257.1" y="119.1" width="1" height="1" fill="rgb(187,187,187)"/><rect x="280.3" y="106.9" width="1" height="1" fill="rgb(170,170,170)"/><rect x="250.3" y="113.1" width="1" height="1" fill="rgb(128,128,128)"/><rect x="259.1" y="105.6" width="1" height="1" fill="rgb(180,180,180)"/><rect x="247.0" y="107.2" width="1" height="1" fill="rgb(138,138,138)"/><rect x="248.1" y="117.8" width="1" height="1" fill="rgb(172,172,172)"/><rect x="248.5" y="113.4" width="1" height="1" fill="rgb(190,190,190)"/><rect x="246.8" y="106.5" width="1" height="1" fill="rgb(180,180,180)"/><rect x="245.5" y="119.9" width="1" height="1" fill="rgb(154,154,154)"/><rect x="251.5" y="105.8" width="1" height="1" fill="rgb(174,174,174)"/><rect x="251.0" y="107.7" width="1" height="1" fill="rgb(155,155,155)"/><rect x="247.7" y="117.8" width="1" height="1" fill="rgb(161,161,161)"/><rect x="246.6" y="113.4" width="1" height="1" fill="rgb(201,201,201)"/><rect x="269.7" y="115.4" width="1" height="1" fill="rgb(139,139,139)"/><rect x="269.2" y="106.8" width="1" height="1" fill="rgb(127,127,127)"/><rect x="263.9" y="114.1" width="1" height="1" fill="rgb(161,161,161)"/><rect x="255.9" y="109.5" width="1" height="1" fill="rgb(164,164,164)"/><rect x="254.1" y="111.5" width="1" height="1" fill="rgb(121,121,121)"/><rect x="255.8" y="113.6" width="1" height="1" fill="rgb(157,157,157)"/><rect x="255.0" y="114.1" width="1" height="1" fill="rgb(138,138,138)"/><rect x="258.1" y="109.4" width="1" height="1" fill="rgb(177,177,177)"/><rect x="252.4" y="114.4" width="1" height="1" fill="rgb(171,171,171)"/><rect x="256.3" y="109.2" width="1" height="1" fill="rgb(208,208,208)"/><rect x="244.2" y="108.1" width="1" height="1" fill="rgb(205,205,205)"/><rect x="263.2" y="107.9" width="1" height="1" fill="rgb(201,201,201)"/><rect x="257.8" y="109.2" width="1" height="1" fill="rgb(208,208,208)"/><rect x="255.7" y="113.7" width="1" height="1" fill="rgb(176,176,176)"/><rect x="253.1" y="110.2" width="1" height="1" fill="rgb(135,135,135)"/><rect x="254.5" y="115.3" width="1" height="1" fill="rgb(137,137,137)"/><rect x="244.9" y="114.0" width="1" height="1" fill="rgb(181,181,181)"/><rect x="250.6" y="113.0" width="1" height="1" fill="rgb(182,182,182)"/><rect x="255.1" y="114.7" width="1" height="1" fill="rgb(196,196,196)"/><rect x="255.6" y="111.5" width="1" height="1" fill="rgb(161,161,161)"/><rect x="244.9" y="114.2" width="1" height="1" fill="rgb(205,205,205)"/><rect x="252.4" y="117.1" width="1" height="1" fill="rgb(174,174,174)"/><rect x="237.2" y="119.4" width="1" height="1" fill="rgb(129,129,129)"/><rect x="258.2" y="115.5" width="1" height="1" fill="rgb(202,202,202)"/><rect x="265.8" y="112.0" width="1" height="1" fill="rgb(207,207,207)"/><rect x="252.5" y="95.6" width="1" height="1" fill="rgb(132,132,132)"/><rect x="245.8" y="112.6" width="1" height="1" fill="rgb(138,138,138)"/><rect x="267.4" y="112.3" width="1" height="1" fill="rgb(200,200,200)"/><rect x="257.5" y="113.2" width="1" height="1" fill="rgb(204,204,204)"/><rect x="248.9" y="116.4" width="1" height="1" fill="rgb(187,187,187)"/><rect x="238.4" y="110.4" width="1" height="1" fill="rgb(156,156,156)"/><rect x="247.3" y="114.6" width="1" height="1" fill="rgb(190,190,190)"/><rect x="261.3" y="112.6" width="1" height="1" fill="rgb(165,165,165)"/><rect x="258.8" y="107.6" width="1" height="1" fill="rgb(184,184,184)"/><rect x="271.2" y="109.5" width="1" height="1" fill="rgb(164,164,164)"/><rect x="266.5" y="109.8" width="1" height="1" fill="rgb(135,135,135)"/><rect x="251.6" y="115.8" width="1" height="1" fill="rgb(158,158,158)"/><rect x="269.9" y="119.2" width="1" height="1" fill="rgb(131,131,131)"/><rect x="255.5" y="110.7" width="1" height="1" fill="rgb(190,190,190)"/><rect x="262.6" y="107.5" width="1" height="1" fill="rgb(126,126,126)"/><rect x="258.1" y="98.9" width="1" height="1" fill="rgb(165,165,165)"/><rect x="270.3" y="117.0" width="1" height="1" fill="rgb(235,235,235)"/><rect x="262.4" y="92.5" width="1" height="1" fill="rgb(224,224,224)"/><rect x="273.6" y="88.6" width="1" height="1" fill="rgb(235,235,235)"/><rect x="271.0" y="107.9" width="1" height="1" fill="rgb(235,235,235)"/><rect x="249.6" y="87.4" width="1" height="1" fill="rgb(187,187,187)"/><rect x="275.7" y="99.5" width="1" height="1" fill="rgb(235,235,235)"/><rect x="262.4" y="91.4" width="1" height="1" fill="rgb(183,183,183)"/><rect x="269.1" y="88.3" width="1" height="1" fill="rgb(172,172,172)"/><rect x="274.5" y="88.5" width="1" height="1" fill="rgb(207,207,207)"/><rect x="265.8" y="92.1" width="1" height="1" fill="rgb(199,199,199)"/><rect x="254.9" y="93.1" width="1" height="1" fill="rgb(198,198,198)"/><rect x="263.1" y="98.4" width="1" height="1" fill="rgb(162,162,162)"/><rect x="249.0" y="102.0" width="1" height="1" fill="rgb(166,166,166)"/><rect x="249.8" y="96.2" width="1" height="1" fill="rgb(175,175,175)"/>
<rect x="202.50" y="65.50" width="83.00" height="80.00" stroke="#444" stroke-width="1" fill="none"/>
<path d="M202.50,145.60v2.2M202.50,145.60h-2.2M208.77,145.60v1.2M202.50,139.53h-1.2M212.44,145.60v1.2M202.50,135.99h-1.2M215.04,145.60v1.2M202.50,133.47h-1.2M217.06,145.60v1.2M202.50,131.52h-1.2M218.70,145.60v1.2M202.50,129.92h-1.2M220.10,145.60v1.2M202.50,128.57h-1.2M221.31,145.60v1.2M202.50,127.40h-1.2M222.37,145.60v1.2M202.50,126.37h-1.2M223.32,145.60v2.2M202.50,125.45h-2.2M229.59,145.60v1.2M202.50,119.38h-1.2M233.26,145.60v1.2M202.50,115.84h-1.2M235.86,145.60v1.2M202.50,113.32h-1.2M237.88,145.60v1.2M202.50,111.37h-1.2M239.53,145.60v1.2M202.50,109.77h-1.2M240.92,145.60v1.2M202.50,108.42h-1.2M242.13,145.60v1.2M202.50,107.25h-1.2M243.20,145.60v1.2M202.50,106.22h-1.2M244.15,145.60v2.2M202.50,105.30h-2.2M250.42,145.60v1.2M202.50,99.23h-1.2M254.09,145.60v1.2M202.50,95.69h-1.2M256.69,145.60v1.2M202.50,93.17h-1.2M258.71,145.60v1.2M202.50,91.22h-1.2M260.35,145.60v1.2M202.50,89.62h-1.2M261.75,145.60v1.2M202.50,88.27h-1.2M262.96,145.60v1.2M202.50,87.10h-1.2M264.02,145.60v1.2M202.50,86.07h-1.2M264.98,145.60v2.2M202.50,85.15h-2.2M271.24,145.60v1.2M202.50,79.08h-1.2M274.91,145.60v1.2M202.50,75.54h-1.2M277.51,145.60v1.2M202.50,73.02h-1.2M279.53,145.60v1.2M202.50,71.07h-1.2M281.18,145.60v1.2M202.50,69.47h-1.2M282.57,145.60v1.2M202.50,68.12h-1.2M283.78,145.60v1.2M202.50,66.95h-1.2M284.85,145.60v1.2M202.50,65.92h-1.2M285.80,145.60v2.2M202.50,65.00h-2.2" stroke="#444" stroke-width="0.8" fill="none"/>
<text x="199.50" y="154.10" font-size="5.2" fill="#444" textLength="5.5" lengthAdjust="spacingAndGlyphs">10</text><text x="205.20" y="151.10" font-size="4.2" fill="#444">0</text>
<g transform="translate(198.00 148.60) rotate(-90)"><text x="0" y="0" font-size="5.2" fill="#444" textLength="5.5" lengthAdjust="spacingAndGlyphs">10</text><text x="5.7" y="-3" font-size="4.2" fill="#444">0</text></g>
<text x="220.32" y="154.10" font-size="5.2" fill="#444" textLength="5.5" lengthAdjust="spacingAndGlyphs">10</text><text x="226.02" y="151.10" font-size="4.2" fill="#444">1</text>
<g transform="translate(198.00 128.45) rotate(-90)"><text x="0" y="0" font-size="5.2" fill="#444" textLength="5.5" lengthAdjust="spacingAndGlyphs">10</text><text x="5.7" y="-3" font-size="4.2" fill="#444">1</text></g>
<text x="241.15" y="154.10" font-size="5.2" fill="#444" textLength="5.5" lengthAdjust="spacingAndGlyphs">10</text><text x="246.85" y="151.10" font-size="4.2" fill="#444">2</text>
<g transform="translate(198.00 108.30) rotate(-90)"><text x="0" y="0" font-size="5.2" fill="#444" textLength="5.5" lengthAdjust="spacingAndGlyphs">10</text><text x="5.7" y="-3" font-size="4.2" fill="#444">2</text></g>
<text x="261.98" y="154.10" font-size="5.2" fill="#444" textLength="5.5" lengthAdjust="spacingAndGlyphs">10</text><text x="267.68" y="151.10" font-size="4.2" fill="#444">3</text>
<g transform="translate(198.00 88.15) rotate(-90)"><text x="0" y="0" font-size="5.2" fill="#444" textLength="5.5" lengthAdjust="spacingAndGlyphs">10</text><text x="5.7" y="-3" font-size="4.2" fill="#444">3</text></g>
<text x="282.80" y="154.10" font-size="5.2" fill="#444" textLength="5.5" lengthAdjust="spacingAndGlyphs">10</text><text x="288.50" y="151.10" font-size="4.2" fill="#444">4</text>
<g transform="translate(198.00 68.00) rotate(-90)"><text x="0" y="0" font-size="5.2" fill="#444" textLength="5.5" lengthAdjust="spacingAndGlyphs">10</text><text x="5.7" y="-3" font-size="4.2" fill="#444">4</text></g>
<rect x="214.50" y="65.50" width="33.00" height="24.00" stroke="#333" stroke-width="1" fill="none"/>
<rect x="249.50" y="74.50" width="35.00" height="31.00" stroke="#333" stroke-width="1" fill="none"/>
<rect x="241.50" y="105.50" width="44.00" height="33.00" stroke="#333" stroke-width="1" fill="none"/>
<text x="234.70" y="83.00" font-size="5.5" text-anchor="middle" font-weight="normal" fill="#444">R6</text>
<text x="268.20" y="96.00" font-size="5.5" text-anchor="middle" font-weight="normal" fill="#444">R7</text>
<text x="266.50" y="128.00" font-size="5.5" text-anchor="middle" font-weight="normal" fill="#444">R8</text>
<text x="227.00" y="63.50" font-size="6" text-anchor="start" font-weight="normal" fill="#222" textLength="25" lengthAdjust="spacingAndGlyphs">FTOC A 004</text>
<text x="291.60" y="88.80" font-size="13" text-anchor="start" font-weight="normal" fill="#151515" stroke="#151515" stroke-width="0.3">R6: 37.2</text>
<text x="291.60" y="104.40" font-size="13" text-anchor="start" font-weight="normal" fill="#151515" stroke="#151515" stroke-width="0.3">R7: 9.3</text>
<text x="291.60" y="119.80" font-size="13" text-anchor="start" font-weight="normal" fill="#151515" stroke="#151515" stroke-width="0.3">R8: 27.1</text>
<text x="188.50" y="102.00" font-size="13" text-anchor="middle" font-weight="normal" fill="#151515" stroke="#151515" stroke-width="0.3" transform="rotate(-90 188.5 102)">CD44</text>
<text x="225.00" y="174.60" font-size="13" text-anchor="start" font-weight="normal" fill="#151515" stroke="#151515" stroke-width="0.3">CD25</text>
<rect x="399.1" y="75.3" width="1" height="1" fill="rgb(209,209,209)"/><rect x="404.6" y="77.6" width="1" height="1" fill="rgb(121,121,121)"/><rect x="394.0" y="74.5" width="1" height="1" fill="rgb(204,204,204)"/><rect x="405.9" y="79.4" width="1" height="1" fill="rgb(172,172,172)"/><rect x="395.2" y="79.4" width="1" height="1" fill="rgb(180,180,180)"/><rect x="398.9" y="82.5" width="1" height="1" fill="rgb(121,121,121)"/><rect x="397.1" y="80.3" width="1" height="1" fill="rgb(205,205,205)"/><rect x="411.2" y="88.1" width="1" height="1" fill="rgb(131,131,131)"/><rect x="398.7" y="82.2" width="1" height="1" fill="rgb(180,180,180)"/><rect x="409.1" y="80.8" width="1" height="1" fill="rgb(151,151,151)"/><rect x="387.0" y="82.3" width="1" height="1" fill="rgb(126,126,126)"/><rect x="390.3" y="85.6" width="1" height="1" fill="rgb(208,208,208)"/><rect x="405.0" y="74.3" width="1" height="1" fill="rgb(130,130,130)"/><rect x="395.6" y="85.5" width="1" height="1" fill="rgb(183,183,183)"/><rect x="382.2" y="82.6" width="1" height="1" fill="rgb(152,152,152)"/><rect x="400.0" y="79.2" width="1" height="1" fill="rgb(124,124,124)"/><rect x="399.2" y="80.1" width="1" height="1" fill="rgb(203,203,203)"/><rect x="394.2" y="74.2" width="1" height="1" fill="rgb(169,169,169)"/><rect x="393.8" y="86.7" width="1" height="1" fill="rgb(141,141,141)"/><rect x="410.8" y="77.8" width="1" height="1" fill="rgb(197,197,197)"/><rect x="404.2" y="81.6" width="1" height="1" fill="rgb(193,193,193)"/><rect x="396.9" y="75.0" width="1" height="1" fill="rgb(141,141,141)"/><rect x="405.7" y="86.4" width="1" height="1" fill="rgb(166,166,166)"/><rect x="402.0" y="79.2" width="1" height="1" fill="rgb(173,173,173)"/><rect x="386.0" y="81.1" width="1" height="1" fill="rgb(177,177,177)"/><rect x="409.5" y="77.3" width="1" height="1" fill="rgb(192,192,192)"/><rect x="395.1" y="83.2" width="1" height="1" fill="rgb(199,199,199)"/><rect x="408.8" y="78.9" width="1" height="1" fill="rgb(196,196,196)"/><rect x="393.3" y="85.3" width="1" height="1" fill="rgb(121,121,121)"/><rect x="402.6" y="74.7" width="1" height="1" fill="rgb(159,159,159)"/><rect x="381.5" y="73.8" width="1" height="1" fill="rgb(151,151,151)"/><rect x="390.4" y="84.8" width="1" height="1" fill="rgb(197,197,197)"/><rect x="398.7" y="76.7" width="1" height="1" fill="rgb(177,177,177)"/><rect x="397.9" y="80.3" width="1" height="1" fill="rgb(153,153,153)"/><rect x="397.5" y="82.6" width="1" height="1" fill="rgb(125,125,125)"/><rect x="397.1" y="82.4" width="1" height="1" fill="rgb(193,193,193)"/><rect x="409.5" y="89.8" width="1" height="1" fill="rgb(190,190,190)"/><rect x="391.8" y="70.9" width="1" height="1" fill="rgb(164,164,164)"/><rect x="389.5" y="78.8" width="1" height="1" fill="rgb(182,182,182)"/><rect x="399.4" y="77.1" width="1" height="1" fill="rgb(149,149,149)"/><rect x="397.1" y="81.4" width="1" height="1" fill="rgb(170,170,170)"/><rect x="393.4" y="80.7" width="1" height="1" fill="rgb(152,152,152)"/><rect x="397.2" y="79.7" width="1" height="1" fill="rgb(169,169,169)"/><rect x="395.1" y="80.5" width="1" height="1" fill="rgb(165,165,165)"/><rect x="398.7" y="76.8" width="1" height="1" fill="rgb(194,194,194)"/><rect x="392.6" y="79.5" width="1" height="1" fill="rgb(186,186,186)"/><rect x="394.4" y="84.8" width="1" height="1" fill="rgb(145,145,145)"/><rect x="399.7" y="82.7" width="1" height="1" fill="rgb(143,143,143)"/><rect x="400.0" y="76.5" width="1" height="1" fill="rgb(193,193,193)"/><rect x="391.5" y="78.2" width="1" height="1" fill="rgb(186,186,186)"/><rect x="401.3" y="77.4" width="1" height="1" fill="rgb(183,183,183)"/><rect x="395.7" y="81.5" width="1" height="1" fill="rgb(200,200,200)"/><rect x="395.2" y="80.4" width="1" height="1" fill="rgb(160,160,160)"/><rect x="392.7" y="77.6" width="1" height="1" fill="rgb(186,186,186)"/><rect x="395.6" y="78.8" width="1" height="1" fill="rgb(146,146,146)"/><rect x="412.0" y="79.5" width="1" height="1" fill="rgb(182,182,182)"/><rect x="393.9" y="78.4" width="1" height="1" fill="rgb(155,155,155)"/><rect x="382.9" y="84.9" width="1" height="1" fill="rgb(195,195,195)"/><rect x="405.5" y="69.5" width="1" height="1" fill="rgb(152,152,152)"/><rect x="401.5" y="76.6" width="1" height="1" fill="rgb(143,143,143)"/><rect x="396.8" y="80.7" width="1" height="1" fill="rgb(124,124,124)"/><rect x="384.8" y="76.8" width="1" height="1" fill="rgb(178,178,178)"/><rect x="384.5" y="80.7" width="1" height="1" fill="rgb(128,128,128)"/><rect x="404.5" y="75.1" width="1" height="1" fill="rgb(135,135,135)"/><rect x="397.2" y="78.1" width="1" height="1" fill="rgb(160,160,160)"/><rect x="388.8" y="77.5" width="1" height="1" fill="rgb(205,205,205)"/><rect x="393.6" y="79.9" width="1" height="1" fill="rgb(140,140,140)"/><rect x="394.5" y="82.4" width="1" height="1" fill="rgb(148,148,148)"/><rect x="405.8" y="89.5" width="1" height="1" fill="rgb(165,165,165)"/><rect x="406.3" y="82.1" width="1" height="1" fill="rgb(123,123,123)"/><rect x="399.1" y="78.8" width="1" height="1" fill="rgb(185,185,185)"/><rect x="395.5" y="73.7" width="1" height="1" fill="rgb(181,181,181)"/><rect x="401.7" y="80.9" width="1" height="1" fill="rgb(120,120,120)"/><rect x="407.8" y="77.5" width="1" height="1" fill="rgb(158,158,158)"/><rect x="391.6" y="77.4" width="1" height="1" fill="rgb(203,203,203)"/><rect x="402.9" y="82.4" width="1" height="1" fill="rgb(152,152,152)"/><rect x="392.8" y="82.8" width="1" height="1" fill="rgb(168,168,168)"/><rect x="400.5" y="82.9" width="1" height="1" fill="rgb(138,138,138)"/><rect x="410.7" y="75.1" width="1" height="1" fill="rgb(179,179,179)"/><rect x="397.1" y="77.1" width="1" height="1" fill="rgb(124,124,124)"/><rect x="405.3" y="87.1" width="1" height="1" fill="rgb(129,129,129)"/><rect x="410.9" y="76.4" width="1" height="1" fill="rgb(137,137,137)"/><rect x="404.2" y="78.0" width="1" height="1" fill="rgb(122,122,122)"/><rect x="392.7" y="76.4" width="1" height="1" fill="rgb(163,163,163)"/><rect x="395.8" y="82.9" width="1" height="1" fill="rgb(134,134,134)"/><rect x="395.3" y="78.2" width="1" height="1" fill="rgb(148,148,148)"/><rect x="397.6" y="77.2" width="1" height="1" fill="rgb(177,177,177)"/><rect x="394.3" y="79.2" width="1" height="1" fill="rgb(139,139,139)"/><rect x="397.3" y="84.6" width="1" height="1" fill="rgb(139,139,139)"/><rect x="409.3" y="107.9" width="1" height="1" fill="rgb(187,187,187)"/><rect x="396.5" y="110.7" width="1" height="1" fill="rgb(212,212,212)"/><rect x="405.8" y="112.3" width="1" height="1" fill="rgb(211,211,211)"/><rect x="415.7" y="122.4" width="1" height="1" fill="rgb(157,157,157)"/><rect x="389.4" y="94.4" width="1" height="1" fill="rgb(177,177,177)"/><rect x="384.9" y="99.7" width="1" height="1" fill="rgb(165,165,165)"/><rect x="398.7" y="112.0" width="1" height="1" fill="rgb(196,196,196)"/><rect x="393.3" y="108.9" width="1" height="1" fill="rgb(180,180,180)"/><rect x="402.2" y="104.2" width="1" height="1" fill="rgb(187,187,187)"/><rect x="394.9" y="108.7" width="1" height="1" fill="rgb(187,187,187)"/><rect x="406.0" y="116.1" width="1" height="1" fill="rgb(206,206,206)"/><rect x="401.6" y="98.3" width="1" height="1" fill="rgb(167,167,167)"/><rect x="385.8" y="111.6" width="1" height="1" fill="rgb(217,217,217)"/><rect x="397.3" y="114.3" width="1" height="1" fill="rgb(155,155,155)"/><rect x="403.8" y="102.7" width="1" height="1" fill="rgb(223,223,223)"/><rect x="405.5" y="121.7" width="1" height="1" fill="rgb(216,216,216)"/><rect x="400.6" y="91.9" width="1" height="1" fill="rgb(175,175,175)"/><rect x="386.9" y="96.0" width="1" height="1" fill="rgb(227,227,227)"/><rect x="397.4" y="90.9" width="1" height="1" fill="rgb(172,172,172)"/><rect x="402.0" y="117.9" width="1" height="1" fill="rgb(235,235,235)"/><rect x="395.4" y="101.8" width="1" height="1" fill="rgb(189,189,189)"/><rect x="399.9" y="109.2" width="1" height="1" fill="rgb(216,216,216)"/><rect x="388.3" y="113.9" width="1" height="1" fill="rgb(157,157,157)"/><rect x="391.7" y="105.0" width="1" height="1" fill="rgb(186,186,186)"/><rect x="407.7" y="90.9" width="1" height="1" fill="rgb(213,213,213)"/><rect x="405.9" y="111.0" width="1" height="1" fill="rgb(211,211,211)"/><rect x="406.9" y="115.9" width="1" height="1" fill="rgb(181,181,181)"/><rect x="404.9" y="121.6" width="1" height="1" fill="rgb(196,196,196)"/><rect x="411.1" y="109.2" width="1" height="1" fill="rgb(223,223,223)"/><rect x="398.4" y="105.5" width="1" height="1" fill="rgb(216,216,216)"/><rect x="418.2" y="96.2" width="1" height="1" fill="rgb(159,159,159)"/><rect x="408.2" y="115.8" width="1" height="1" fill="rgb(191,191,191)"/><rect x="401.9" y="88.2" width="1" height="1" fill="rgb(223,223,223)"/><rect x="399.0" y="102.8" width="1" height="1" fill="rgb(163,163,163)"/><rect x="408.0" y="103.0" width="1" height="1" fill="rgb(215,215,215)"/><rect x="413.3" y="108.6" width="1" height="1" fill="rgb(167,167,167)"/><rect x="419.8" y="109.1" width="1" height="1" fill="rgb(178,178,178)"/><rect x="395.4" y="102.3" width="1" height="1" fill="rgb(189,189,189)"/><rect x="399.0" y="122.6" width="1" height="1" fill="rgb(153,153,153)"/><rect x="417.1" y="108.5" width="1" height="1" fill="rgb(174,174,174)"/><rect x="397.9" y="123.1" width="1" height="1" fill="rgb(231,231,231)"/><rect x="390.4" y="100.9" width="1" height="1" fill="rgb(235,235,235)"/><rect x="392.0" y="108.9" width="1" height="1" fill="rgb(162,162,162)"/><rect x="398.5" y="103.3" width="1" height="1" fill="rgb(165,165,165)"/><rect x="388.6" y="108.6" width="1" height="1" fill="rgb(185,185,185)"/><rect x="402.1" y="108.9" width="1" height="1" fill="rgb(167,167,167)"/><rect x="393.4" y="104.3" width="1" height="1" fill="rgb(179,179,179)"/><rect x="405.3" y="115.4" width="1" height="1" fill="rgb(200,200,200)"/><rect x="406.7" y="120.5" width="1" height="1" fill="rgb(231,231,231)"/><rect x="392.6" y="112.0" width="1" height="1" fill="rgb(227,227,227)"/><rect x="422.1" y="113.4" width="1" height="1" fill="rgb(136,136,136)"/><rect x="428.9" y="110.9" width="1" height="1" fill="rgb(160,160,160)"/><rect x="433.0" y="109.3" width="1" height="1" fill="rgb(202,202,202)"/><rect x="432.4" y="106.7" width="1" height="1" fill="rgb(181,181,181)"/><rect x="429.1" y="113.1" width="1" height="1" fill="rgb(196,196,196)"/><rect x="433.5" y="118.2" width="1" height="1" fill="rgb(175,175,175)"/><rect x="428.0" y="117.7" width="1" height="1" fill="rgb(210,210,210)"/><rect x="430.9" y="114.1" width="1" height="1" fill="rgb(153,153,153)"/><rect x="433.8" y="115.6" width="1" height="1" fill="rgb(194,194,194)"/><rect x="425.9" y="111.8" width="1" height="1" fill="rgb(183,183,183)"/><rect x="438.2" y="112.9" width="1" height="1" fill="rgb(188,188,188)"/><rect x="420.7" y="109.3" width="1" height="1" fill="rgb(135,135,135)"/><rect x="436.4" y="115.1" width="1" height="1" fill="rgb(164,164,164)"/><rect x="435.3" y="111.6" width="1" height="1" fill="rgb(210,210,210)"/><rect x="414.8" y="111.9" width="1" height="1" fill="rgb(209,209,209)"/><rect x="430.5" y="115.1" width="1" height="1" fill="rgb(131,131,131)"/><rect x="414.5" y="117.5" width="1" height="1" fill="rgb(166,166,166)"/><rect x="432.2" y="116.1" width="1" height="1" fill="rgb(151,151,151)"/><rect x="433.9" y="117.2" width="1" height="1" fill="rgb(195,195,195)"/><rect x="430.1" y="113.1" width="1" height="1" fill="rgb(205,205,205)"/><rect x="424.7" y="113.6" width="1" height="1" fill="rgb(145,145,145)"/><rect x="415.5" y="113.5" width="1" height="1" fill="rgb(182,182,182)"/><rect x="423.8" y="112.7" width="1" height="1" fill="rgb(141,141,141)"/><rect x="427.7" y="111.1" width="1" height="1" fill="rgb(188,188,188)"/><rect x="422.0" y="111.1" width="1" height="1" fill="rgb(213,213,213)"/><rect x="422.3" y="116.9" width="1" height="1" fill="rgb(176,176,176)"/><rect x="420.7" y="115.1" width="1" height="1" fill="rgb(208,208,208)"/><rect x="417.0" y="114.9" width="1" height="1" fill="rgb(133,133,133)"/><rect x="428.2" y="116.5" width="1" height="1" fill="rgb(195,195,195)"/><rect x="412.8" y="111.4" width="1" height="1" fill="rgb(180,180,180)"/><rect x="433.6" y="114.2" width="1" height="1" fill="rgb(160,160,160)"/><rect x="425.6" y="116.8" width="1" height="1" fill="rgb(164,164,164)"/><rect x="424.1" y="124.1" width="1" height="1" fill="rgb(167,167,167)"/><rect x="429.2" y="114.3" width="1" height="1" fill="rgb(200,200,200)"/><rect x="439.1" y="116.9" width="1" height="1" fill="rgb(186,186,186)"/><rect x="423.4" y="84.9" width="1" height="1" fill="rgb(226,226,226)"/><rect x="419.7" y="108.5" width="1" height="1" fill="rgb(235,235,235)"/><rect x="433.9" y="120.0" width="1" height="1" fill="rgb(189,189,189)"/><rect x="417.1" y="102.4" width="1" height="1" fill="rgb(187,187,187)"/><rect x="423.7" y="82.7" width="1" height="1" fill="rgb(205,205,205)"/><rect x="435.2" y="84.1" width="1" height="1" fill="rgb(230,230,230)"/><rect x="428.3" y="109.0" width="1" height="1" fill="rgb(235,235,235)"/><rect x="434.5" y="92.3" width="1" height="1" fill="rgb(183,183,183)"/><rect x="447.0" y="95.5" width="1" height="1" fill="rgb(235,235,235)"/><rect x="437.4" y="101.8" width="1" height="1" fill="rgb(235,235,235)"/>
<rect x="370.50" y="68.50" width="83.00" height="80.00" stroke="#444" stroke-width="1" fill="none"/>
<path d="M370.60,148.10v2.2M370.60,148.10h-2.2M376.85,148.10v1.2M370.60,142.07h-1.2M380.51,148.10v1.2M370.60,138.55h-1.2M383.11,148.10v1.2M370.60,136.04h-1.2M385.12,148.10v1.2M370.60,134.10h-1.2M386.77,148.10v1.2M370.60,132.52h-1.2M388.16,148.10v1.2M370.60,131.18h-1.2M389.36,148.10v1.2M370.60,130.02h-1.2M390.42,148.10v1.2M370.60,128.99h-1.2M391.38,148.10v2.2M370.60,128.07h-2.2M397.63,148.10v1.2M370.60,122.05h-1.2M401.29,148.10v1.2M370.60,118.52h-1.2M403.88,148.10v1.2M370.60,116.02h-1.2M405.90,148.10v1.2M370.60,114.08h-1.2M407.54,148.10v1.2M370.60,112.49h-1.2M408.93,148.10v1.2M370.60,111.15h-1.2M410.14,148.10v1.2M370.60,109.99h-1.2M411.20,148.10v1.2M370.60,108.97h-1.2M412.15,148.10v2.2M370.60,108.05h-2.2M418.40,148.10v1.2M370.60,102.02h-1.2M422.06,148.10v1.2M370.60,98.50h-1.2M424.66,148.10v1.2M370.60,95.99h-1.2M426.67,148.10v1.2M370.60,94.05h-1.2M428.32,148.10v1.2M370.60,92.47h-1.2M429.71,148.10v1.2M370.60,91.13h-1.2M430.91,148.10v1.2M370.60,89.97h-1.2M431.97,148.10v1.2M370.60,88.94h-1.2M432.93,148.10v2.2M370.60,88.03h-2.2M439.18,148.10v1.2M370.60,82.00h-1.2M442.84,148.10v1.2M370.60,78.47h-1.2M445.43,148.10v1.2M370.60,75.97h-1.2M447.45,148.10v1.2M370.60,74.03h-1.2M449.09,148.10v1.2M370.60,72.44h-1.2M450.48,148.10v1.2M370.60,71.10h-1.2M451.69,148.10v1.2M370.60,69.94h-1.2M452.75,148.10v1.2M370.60,68.92h-1.2M453.70,148.10v2.2M370.60,68.00h-2.2" stroke="#444" stroke-width="0.8" fill="none"/>
<text x="367.60" y="156.60" font-size="5.2" fill="#444" textLength="5.5" lengthAdjust="spacingAndGlyphs">10</text><text x="373.30" y="153.60" font-size="4.2" fill="#444">0</text>
<g transform="translate(366.10 151.10) rotate(-90)"><text x="0" y="0" font-size="5.2" fill="#444" textLength="5.5" lengthAdjust="spacingAndGlyphs">10</text><text x="5.7" y="-3" font-size="4.2" fill="#444">0</text></g>
<text x="388.38" y="156.60" font-size="5.2" fill="#444" textLength="5.5" lengthAdjust="spacingAndGlyphs">10</text><text x="394.07" y="153.60" font-size="4.2" fill="#444">1</text>
<g transform="translate(366.10 131.07) rotate(-90)"><text x="0" y="0" font-size="5.2" fill="#444" textLength="5.5" lengthAdjust="spacingAndGlyphs">10</text><text x="5.7" y="-3" font-size="4.2" fill="#444">1</text></g>
<text x="409.15" y="156.60" font-size="5.2" fill="#444" textLength="5.5" lengthAdjust="spacingAndGlyphs">10</text><text x="414.85" y="153.60" font-size="4.2" fill="#444">2</text>
<g transform="translate(366.10 111.05) rotate(-90)"><text x="0" y="0" font-size="5.2" fill="#444" textLength="5.5" lengthAdjust="spacingAndGlyphs">10</text><text x="5.7" y="-3" font-size="4.2" fill="#444">2</text></g>
<text x="429.93" y="156.60" font-size="5.2" fill="#444" textLength="5.5" lengthAdjust="spacingAndGlyphs">10</text><text x="435.62" y="153.60" font-size="4.2" fill="#444">3</text>
<g transform="translate(366.10 91.03) rotate(-90)"><text x="0" y="0" font-size="5.2" fill="#444" textLength="5.5" lengthAdjust="spacingAndGlyphs">10</text><text x="5.7" y="-3" font-size="4.2" fill="#444">3</text></g>
<text x="450.70" y="156.60" font-size="5.2" fill="#444" textLength="5.5" lengthAdjust="spacingAndGlyphs">10</text><text x="456.40" y="153.60" font-size="4.2" fill="#444">4</text>
<g transform="translate(366.10 71.00) rotate(-90)"><text x="0" y="0" font-size="5.2" fill="#444" textLength="5.5" lengthAdjust="spacingAndGlyphs">10</text><text x="5.7" y="-3" font-size="4.2" fill="#444">4</text></g>
<rect x="381.50" y="68.50" width="33.00" height="23.00" stroke="#333" stroke-width="1" fill="none"/>
<rect x="416.50" y="77.50" width="36.00" height="30.00" stroke="#333" stroke-width="1" fill="none"/>
<rect x="408.50" y="108.50" width="45.00" height="33.00" stroke="#333" stroke-width="1" fill="none"/>
<text x="402.00" y="86.00" font-size="5.5" text-anchor="middle" font-weight="normal" fill="#444">R6</text>
<text x="437.00" y="98.50" font-size="5.5" text-anchor="middle" font-weight="normal" fill="#444">R7</text>
<text x="434.50" y="130.50" font-size="5.5" text-anchor="middle" font-weight="normal" fill="#444">R8</text>
<text x="394.00" y="65.50" font-size="6" text-anchor="start" font-weight="normal" fill="#222" textLength="25" lengthAdjust="spacingAndGlyphs">FTOC A 008</text>
<text x="459.30" y="92.70" font-size="13" text-anchor="start" font-weight="normal" fill="#151515" stroke="#151515" stroke-width="0.3">R6: 38.2</text>
<text x="459.30" y="108.20" font-size="13" text-anchor="start" font-weight="normal" fill="#151515" stroke="#151515" stroke-width="0.3">R7: 6.3</text>
<text x="459.30" y="123.80" font-size="13" text-anchor="start" font-weight="normal" fill="#151515" stroke="#151515" stroke-width="0.3">R8: 17.8</text>
<text x="358.50" y="105.00" font-size="13" text-anchor="middle" font-weight="normal" fill="#151515" stroke="#151515" stroke-width="0.3" transform="rotate(-90 358.5 105)">CD44</text>
<text x="395.50" y="177.50" font-size="13" text-anchor="start" font-weight="normal" fill="#151515" stroke="#151515" stroke-width="0.3">CD25</text>
<line x1="63.00" y1="154.50" x2="67.50" y2="154.50" stroke="#999" stroke-width="0.8"/>
<line x1="71.50" y1="154.50" x2="75.00" y2="154.50" stroke="#999" stroke-width="0.8"/>
<line x1="74.00" y1="249.50" x2="83.00" y2="249.50" stroke="#bbb" stroke-width="1"/>
<rect x="90.3" y="226.5" width="1" height="1" fill="rgb(75,75,75)"/><rect x="89.2" y="220.1" width="1" height="1" fill="rgb(88,88,88)"/><rect x="89.0" y="219.5" width="1" height="1" fill="rgb(76,76,76)"/><rect x="83.2" y="222.1" width="1" height="1" fill="rgb(90,90,90)"/><rect x="76.7" y="225.3" width="1" height="1" fill="rgb(122,122,122)"/><rect x="79.8" y="229.2" width="1" height="1" fill="rgb(103,103,103)"/><rect x="80.6" y="226.3" width="1" height="1" fill="rgb(108,108,108)"/><rect x="83.0" y="225.6" width="1" height="1" fill="rgb(113,113,113)"/><rect x="81.1" y="226.0" width="1" height="1" fill="rgb(82,82,82)"/><rect x="79.3" y="229.7" width="1" height="1" fill="rgb(71,71,71)"/><rect x="87.6" y="222.7" width="1" height="1" fill="rgb(94,94,94)"/><rect x="94.7" y="217.2" width="1" height="1" fill="rgb(43,43,43)"/><rect x="90.8" y="223.3" width="1" height="1" fill="rgb(103,103,103)"/><rect x="81.9" y="227.6" width="1" height="1" fill="rgb(79,79,79)"/><rect x="64.9" y="226.5" width="1" height="1" fill="rgb(106,106,106)"/><rect x="88.1" y="219.3" width="1" height="1" fill="rgb(95,95,95)"/><rect x="80.0" y="226.6" width="1" height="1" fill="rgb(116,116,116)"/><rect x="81.3" y="222.1" width="1" height="1" fill="rgb(41,41,41)"/><rect x="81.0" y="221.9" width="1" height="1" fill="rgb(52,52,52)"/><rect x="78.5" y="227.0" width="1" height="1" fill="rgb(123,123,123)"/><rect x="77.3" y="224.4" width="1" height="1" fill="rgb(64,64,64)"/><rect x="90.2" y="221.8" width="1" height="1" fill="rgb(96,96,96)"/><rect x="85.3" y="218.1" width="1" height="1" fill="rgb(115,115,115)"/><rect x="80.3" y="227.6" width="1" height="1" fill="rgb(51,51,51)"/><rect x="86.3" y="225.4" width="1" height="1" fill="rgb(49,49,49)"/><rect x="87.0" y="220.5" width="1" height="1" fill="rgb(54,54,54)"/><rect x="81.4" y="222.8" width="1" height="1" fill="rgb(83,83,83)"/><rect x="91.2" y="215.1" width="1" height="1" fill="rgb(93,93,93)"/><rect x="79.4" y="222.8" width="1" height="1" fill="rgb(105,105,105)"/><rect x="87.0" y="228.5" width="1" height="1" fill="rgb(92,92,92)"/><rect x="87.2" y="226.5" width="1" height="1" fill="rgb(117,117,117)"/><rect x="89.6" y="224.7" width="1" height="1" fill="rgb(120,120,120)"/><rect x="82.9" y="223.7" width="1" height="1" fill="rgb(92,92,92)"/><rect x="84.4" y="223.9" width="1" height="1" fill="rgb(130,130,130)"/><rect x="83.8" y="223.8" width="1" height="1" fill="rgb(78,78,78)"/><rect x="82.0" y="225.2" width="1" height="1" fill="rgb(41,41,41)"/><rect x="82.2" y="223.0" width="1" height="1" fill="rgb(103,103,103)"/><rect x="84.8" y="220.4" width="1" height="1" fill="rgb(122,122,122)"/><rect x="89.2" y="220.8" width="1" height="1" fill="rgb(58,58,58)"/><rect x="78.9" y="224.1" width="1" height="1" fill="rgb(55,55,55)"/><rect x="88.1" y="225.5" width="1" height="1" fill="rgb(105,105,105)"/><rect x="86.0" y="224.2" width="1" height="1" fill="rgb(61,61,61)"/><rect x="90.0" y="221.5" width="1" height="1" fill="rgb(99,99,99)"/><rect x="76.4" y="222.8" width="1" height="1" fill="rgb(47,47,47)"/><rect x="79.1" y="222.0" width="1" height="1" fill="rgb(114,114,114)"/><rect x="80.1" y="228.7" width="1" height="1" fill="rgb(85,85,85)"/><rect x="83.8" y="224.7" width="1" height="1" fill="rgb(120,120,120)"/><rect x="93.7" y="224.9" width="1" height="1" fill="rgb(114,114,114)"/><rect x="87.3" y="223.8" width="1" height="1" fill="rgb(119,119,119)"/><rect x="82.6" y="224.9" width="1" height="1" fill="rgb(90,90,90)"/><rect x="71.9" y="223.8" width="1" height="1" fill="rgb(96,96,96)"/><rect x="87.8" y="223.7" width="1" height="1" fill="rgb(68,68,68)"/><rect x="96.2" y="222.6" width="1" height="1" fill="rgb(62,62,62)"/><rect x="79.3" y="230.3" width="1" height="1" fill="rgb(98,98,98)"/><rect x="81.5" y="228.0" width="1" height="1" fill="rgb(103,103,103)"/><rect x="86.0" y="223.4" width="1" height="1" fill="rgb(126,126,126)"/><rect x="77.3" y="228.3" width="1" height="1" fill="rgb(68,68,68)"/><rect x="79.3" y="226.5" width="1" height="1" fill="rgb(102,102,102)"/><rect x="95.0" y="222.0" width="1" height="1" fill="rgb(51,51,51)"/><rect x="86.4" y="225.6" width="1" height="1" fill="rgb(63,63,63)"/><rect x="95.4" y="221.4" width="1" height="1" fill="rgb(90,90,90)"/><rect x="81.5" y="224.1" width="1" height="1" fill="rgb(108,108,108)"/><rect x="87.4" y="221.4" width="1" height="1" fill="rgb(123,123,123)"/><rect x="86.6" y="223.9" width="1" height="1" fill="rgb(84,84,84)"/><rect x="78.9" y="224.4" width="1" height="1" fill="rgb(99,99,99)"/><rect x="83.2" y="226.1" width="1" height="1" fill="rgb(44,44,44)"/><rect x="83.8" y="224.6" width="1" height="1" fill="rgb(59,59,59)"/><rect x="84.1" y="225.3" width="1" height="1" fill="rgb(65,65,65)"/><rect x="82.7" y="229.2" width="1" height="1" fill="rgb(56,56,56)"/><rect x="78.2" y="224.5" width="1" height="1" fill="rgb(70,70,70)"/><rect x="86.8" y="225.3" width="1" height="1" fill="rgb(91,91,91)"/><rect x="74.1" y="231.1" width="1" height="1" fill="rgb(66,66,66)"/><rect x="82.2" y="227.3" width="1" height="1" fill="rgb(66,66,66)"/><rect x="84.9" y="226.6" width="1" height="1" fill="rgb(56,56,56)"/><rect x="102.1" y="216.2" width="1" height="1" fill="rgb(116,116,116)"/><rect x="89.9" y="220.5" width="1" height="1" fill="rgb(87,87,87)"/><rect x="78.5" y="224.8" width="1" height="1" fill="rgb(105,105,105)"/><rect x="86.6" y="228.5" width="1" height="1" fill="rgb(55,55,55)"/><rect x="82.9" y="223.2" width="1" height="1" fill="rgb(74,74,74)"/><rect x="83.2" y="219.8" width="1" height="1" fill="rgb(43,43,43)"/><rect x="80.1" y="222.2" width="1" height="1" fill="rgb(79,79,79)"/><rect x="92.6" y="222.2" width="1" height="1" fill="rgb(128,128,128)"/><rect x="88.7" y="227.4" width="1" height="1" fill="rgb(81,81,81)"/><rect x="88.4" y="228.0" width="1" height="1" fill="rgb(48,48,48)"/><rect x="79.2" y="224.3" width="1" height="1" fill="rgb(104,104,104)"/><rect x="84.2" y="222.3" width="1" height="1" fill="rgb(79,79,79)"/><rect x="87.9" y="224.2" width="1" height="1" fill="rgb(91,91,91)"/><rect x="82.9" y="226.9" width="1" height="1" fill="rgb(99,99,99)"/><rect x="85.8" y="218.2" width="1" height="1" fill="rgb(56,56,56)"/><rect x="87.2" y="222.6" width="1" height="1" fill="rgb(86,86,86)"/><rect x="80.5" y="221.4" width="1" height="1" fill="rgb(84,84,84)"/><rect x="85.0" y="223.4" width="1" height="1" fill="rgb(130,130,130)"/><rect x="82.7" y="222.5" width="1" height="1" fill="rgb(91,91,91)"/><rect x="79.4" y="228.1" width="1" height="1" fill="rgb(63,63,63)"/><rect x="82.9" y="226.3" width="1" height="1" fill="rgb(117,117,117)"/><rect x="83.1" y="220.1" width="1" height="1" fill="rgb(45,45,45)"/><rect x="77.8" y="227.6" width="1" height="1" fill="rgb(95,95,95)"/><rect x="85.5" y="225.7" width="1" height="1" fill="rgb(88,88,88)"/><rect x="83.5" y="220.8" width="1" height="1" fill="rgb(120,120,120)"/><rect x="81.8" y="223.3" width="1" height="1" fill="rgb(69,69,69)"/><rect x="76.1" y="224.2" width="1" height="1" fill="rgb(72,72,72)"/><rect x="91.3" y="220.4" width="1" height="1" fill="rgb(113,113,113)"/><rect x="83.9" y="224.1" width="1" height="1" fill="rgb(123,123,123)"/><rect x="83.6" y="224.8" width="1" height="1" fill="rgb(114,114,114)"/><rect x="82.7" y="223.8" width="1" height="1" fill="rgb(71,71,71)"/><rect x="83.4" y="223.5" width="1" height="1" fill="rgb(80,80,80)"/><rect x="87.0" y="228.8" width="1" height="1" fill="rgb(51,51,51)"/><rect x="76.1" y="228.1" width="1" height="1" fill="rgb(118,118,118)"/><rect x="86.1" y="221.6" width="1" height="1" fill="rgb(51,51,51)"/><rect x="76.2" y="231.1" width="1" height="1" fill="rgb(96,96,96)"/><rect x="91.6" y="220.4" width="1" height="1" fill="rgb(128,128,128)"/><rect x="87.7" y="219.9" width="1" height="1" fill="rgb(97,97,97)"/><rect x="75.7" y="225.9" width="1" height="1" fill="rgb(66,66,66)"/><rect x="78.1" y="226.8" width="1" height="1" fill="rgb(56,56,56)"/><rect x="80.4" y="225.0" width="1" height="1" fill="rgb(129,129,129)"/><rect x="87.2" y="220.2" width="1" height="1" fill="rgb(62,62,62)"/><rect x="70.1" y="225.5" width="1" height="1" fill="rgb(121,121,121)"/><rect x="84.4" y="225.9" width="1" height="1" fill="rgb(47,47,47)"/><rect x="86.5" y="225.5" width="1" height="1" fill="rgb(51,51,51)"/><rect x="85.4" y="225.8" width="1" height="1" fill="rgb(57,57,57)"/><rect x="81.5" y="221.9" width="1" height="1" fill="rgb(101,101,101)"/><rect x="84.3" y="225.9" width="1" height="1" fill="rgb(105,105,105)"/><rect x="82.9" y="223.0" width="1" height="1" fill="rgb(122,122,122)"/><rect x="81.2" y="226.5" width="1" height="1" fill="rgb(130,130,130)"/><rect x="88.4" y="225.5" width="1" height="1" fill="rgb(82,82,82)"/><rect x="82.1" y="223.5" width="1" height="1" fill="rgb(94,94,94)"/><rect x="84.2" y="222.4" width="1" height="1" fill="rgb(125,125,125)"/><rect x="92.6" y="227.8" width="1" height="1" fill="rgb(91,91,91)"/><rect x="85.3" y="222.6" width="1" height="1" fill="rgb(77,77,77)"/><rect x="90.3" y="222.7" width="1" height="1" fill="rgb(45,45,45)"/><rect x="88.1" y="223.7" width="1" height="1" fill="rgb(65,65,65)"/><rect x="87.6" y="224.5" width="1" height="1" fill="rgb(54,54,54)"/><rect x="87.2" y="225.6" width="1" height="1" fill="rgb(112,112,112)"/><rect x="81.8" y="225.7" width="1" height="1" fill="rgb(49,49,49)"/><rect x="89.9" y="223.3" width="1" height="1" fill="rgb(102,102,102)"/><rect x="91.6" y="224.2" width="1" height="1" fill="rgb(112,112,112)"/><rect x="83.3" y="227.9" width="1" height="1" fill="rgb(95,95,95)"/><rect x="74.4" y="226.7" width="1" height="1" fill="rgb(81,81,81)"/><rect x="96.3" y="221.2" width="1" height="1" fill="rgb(122,122,122)"/><rect x="82.3" y="227.9" width="1" height="1" fill="rgb(123,123,123)"/><rect x="81.5" y="221.0" width="1" height="1" fill="rgb(50,50,50)"/><rect x="84.8" y="224.3" width="1" height="1" fill="rgb(90,90,90)"/><rect x="86.5" y="221.5" width="1" height="1" fill="rgb(63,63,63)"/><rect x="90.5" y="221.6" width="1" height="1" fill="rgb(127,127,127)"/><rect x="88.7" y="226.8" width="1" height="1" fill="rgb(79,79,79)"/><rect x="83.8" y="221.7" width="1" height="1" fill="rgb(63,63,63)"/><rect x="80.9" y="222.8" width="1" height="1" fill="rgb(69,69,69)"/><rect x="79.3" y="227.6" width="1" height="1" fill="rgb(87,87,87)"/><rect x="86.2" y="221.8" width="1" height="1" fill="rgb(47,47,47)"/><rect x="90.9" y="223.1" width="1" height="1" fill="rgb(120,120,120)"/><rect x="104.6" y="213.6" width="1" height="1" fill="rgb(91,91,91)"/><rect x="95.0" y="217.7" width="1" height="1" fill="rgb(103,103,103)"/><rect x="76.1" y="227.9" width="1" height="1" fill="rgb(78,78,78)"/><rect x="77.8" y="223.3" width="1" height="1" fill="rgb(58,58,58)"/><rect x="82.8" y="222.9" width="1" height="1" fill="rgb(96,96,96)"/><rect x="80.4" y="222.9" width="1" height="1" fill="rgb(45,45,45)"/><rect x="87.7" y="220.7" width="1" height="1" fill="rgb(67,67,67)"/><rect x="83.9" y="223.8" width="1" height="1" fill="rgb(118,118,118)"/><rect x="89.9" y="218.9" width="1" height="1" fill="rgb(94,94,94)"/><rect x="85.3" y="224.5" width="1" height="1" fill="rgb(47,47,47)"/><rect x="78.3" y="225.2" width="1" height="1" fill="rgb(83,83,83)"/><rect x="84.7" y="224.0" width="1" height="1" fill="rgb(62,62,62)"/><rect x="86.7" y="222.4" width="1" height="1" fill="rgb(77,77,77)"/><rect x="93.9" y="221.6" width="1" height="1" fill="rgb(126,126,126)"/><rect x="81.9" y="225.9" width="1" height="1" fill="rgb(50,50,50)"/><rect x="77.6" y="224.8" width="1" height="1" fill="rgb(94,94,94)"/><rect x="95.8" y="220.0" width="1" height="1" fill="rgb(59,59,59)"/><rect x="97.9" y="219.5" width="1" height="1" fill="rgb(119,119,119)"/><rect x="92.7" y="224.1" width="1" height="1" fill="rgb(126,126,126)"/><rect x="80.0" y="228.3" width="1" height="1" fill="rgb(112,112,112)"/><rect x="43.5" y="225.2" width="1" height="1" fill="rgb(151,151,151)"/><rect x="64.7" y="224.8" width="1" height="1" fill="rgb(133,133,133)"/><rect x="52.7" y="226.9" width="1" height="1" fill="rgb(114,114,114)"/><rect x="71.1" y="231.3" width="1" height="1" fill="rgb(178,178,178)"/><rect x="81.9" y="227.0" width="1" height="1" fill="rgb(137,137,137)"/><rect x="43.2" y="226.1" width="1" height="1" fill="rgb(136,136,136)"/><rect x="54.1" y="226.8" width="1" height="1" fill="rgb(140,140,140)"/><rect x="67.5" y="228.6" width="1" height="1" fill="rgb(115,115,115)"/><rect x="62.9" y="226.1" width="1" height="1" fill="rgb(122,122,122)"/><rect x="63.8" y="224.7" width="1" height="1" fill="rgb(175,175,175)"/><rect x="67.9" y="230.1" width="1" height="1" fill="rgb(160,160,160)"/><rect x="54.7" y="228.7" width="1" height="1" fill="rgb(179,179,179)"/><rect x="78.0" y="227.5" width="1" height="1" fill="rgb(165,165,165)"/><rect x="48.4" y="225.6" width="1" height="1" fill="rgb(176,176,176)"/><rect x="78.6" y="226.4" width="1" height="1" fill="rgb(154,154,154)"/><rect x="51.5" y="226.3" width="1" height="1" fill="rgb(104,104,104)"/><rect x="48.4" y="222.0" width="1" height="1" fill="rgb(155,155,155)"/><rect x="84.6" y="228.0" width="1" height="1" fill="rgb(140,140,140)"/><rect x="40.3" y="226.8" width="1" height="1" fill="rgb(114,114,114)"/><rect x="50.5" y="225.8" width="1" height="1" fill="rgb(107,107,107)"/><rect x="57.3" y="230.8" width="1" height="1" fill="rgb(141,141,141)"/><rect x="68.9" y="229.3" width="1" height="1" fill="rgb(91,91,91)"/><rect x="59.8" y="218.6" width="1" height="1" fill="rgb(148,148,148)"/><rect x="62.7" y="231.9" width="1" height="1" fill="rgb(144,144,144)"/><rect x="72.0" y="224.7" width="1" height="1" fill="rgb(115,115,115)"/><rect x="45.3" y="225.7" width="1" height="1" fill="rgb(135,135,135)"/><rect x="77.0" y="230.0" width="1" height="1" fill="rgb(133,133,133)"/><rect x="74.0" y="219.9" width="1" height="1" fill="rgb(91,91,91)"/><rect x="70.6" y="224.1" width="1" height="1" fill="rgb(137,137,137)"/><rect x="54.6" y="227.3" width="1" height="1" fill="rgb(135,135,135)"/><rect x="67.4" y="225.0" width="1" height="1" fill="rgb(167,167,167)"/><rect x="61.8" y="229.4" width="1" height="1" fill="rgb(131,131,131)"/><rect x="69.8" y="224.2" width="1" height="1" fill="rgb(176,176,176)"/><rect x="68.5" y="229.2" width="1" height="1" fill="rgb(178,178,178)"/><rect x="48.2" y="230.6" width="1" height="1" fill="rgb(164,164,164)"/><rect x="49.9" y="230.5" width="1" height="1" fill="rgb(152,152,152)"/><rect x="83.2" y="228.2" width="1" height="1" fill="rgb(113,113,113)"/><rect x="82.9" y="230.8" width="1" height="1" fill="rgb(177,177,177)"/><rect x="57.9" y="221.4" width="1" height="1" fill="rgb(165,165,165)"/><rect x="77.7" y="221.8" width="1" height="1" fill="rgb(178,178,178)"/><rect x="68.6" y="223.2" width="1" height="1" fill="rgb(146,146,146)"/><rect x="78.0" y="225.1" width="1" height="1" fill="rgb(109,109,109)"/><rect x="55.4" y="227.8" width="1" height="1" fill="rgb(94,94,94)"/><rect x="68.9" y="225.0" width="1" height="1" fill="rgb(113,113,113)"/><rect x="56.5" y="223.9" width="1" height="1" fill="rgb(166,166,166)"/><rect x="58.2" y="229.7" width="1" height="1" fill="rgb(110,110,110)"/><rect x="63.8" y="222.9" width="1" height="1" fill="rgb(119,119,119)"/><rect x="78.6" y="221.3" width="1" height="1" fill="rgb(99,99,99)"/><rect x="59.3" y="230.3" width="1" height="1" fill="rgb(129,129,129)"/><rect x="79.5" y="221.7" width="1" height="1" fill="rgb(95,95,95)"/><rect x="72.9" y="231.7" width="1" height="1" fill="rgb(149,149,149)"/><rect x="61.9" y="230.2" width="1" height="1" fill="rgb(135,135,135)"/><rect x="64.1" y="229.4" width="1" height="1" fill="rgb(151,151,151)"/><rect x="66.9" y="226.8" width="1" height="1" fill="rgb(148,148,148)"/><rect x="78.7" y="221.3" width="1" height="1" fill="rgb(170,170,170)"/><rect x="78.0" y="228.9" width="1" height="1" fill="rgb(124,124,124)"/><rect x="65.0" y="227.2" width="1" height="1" fill="rgb(123,123,123)"/><rect x="59.1" y="230.6" width="1" height="1" fill="rgb(164,164,164)"/><rect x="101.0" y="219.1" width="1" height="1" fill="rgb(94,94,94)"/><rect x="88.4" y="219.7" width="1" height="1" fill="rgb(102,102,102)"/><rect x="81.2" y="220.1" width="1" height="1" fill="rgb(171,171,171)"/><rect x="63.5" y="225.8" width="1" height="1" fill="rgb(126,126,126)"/><rect x="70.2" y="223.3" width="1" height="1" fill="rgb(108,108,108)"/><rect x="64.1" y="223.8" width="1" height="1" fill="rgb(133,133,133)"/><rect x="67.1" y="221.9" width="1" height="1" fill="rgb(171,171,171)"/><rect x="68.7" y="233.0" width="1" height="1" fill="rgb(141,141,141)"/><rect x="59.3" y="231.8" width="1" height="1" fill="rgb(175,175,175)"/><rect x="53.4" y="237.1" width="1" height="1" fill="rgb(151,151,151)"/><rect x="44.7" y="228.6" width="1" height="1" fill="rgb(120,120,120)"/><rect x="74.3" y="225.2" width="1" height="1" fill="rgb(116,116,116)"/><rect x="90.2" y="223.7" width="1" height="1" fill="rgb(148,148,148)"/><rect x="58.9" y="229.1" width="1" height="1" fill="rgb(128,128,128)"/><rect x="81.2" y="222.4" width="1" height="1" fill="rgb(108,108,108)"/><rect x="65.0" y="229.2" width="1" height="1" fill="rgb(163,163,163)"/><rect x="43.4" y="226.3" width="1" height="1" fill="rgb(133,133,133)"/><rect x="74.4" y="226.2" width="1" height="1" fill="rgb(100,100,100)"/><rect x="59.9" y="225.5" width="1" height="1" fill="rgb(135,135,135)"/><rect x="78.3" y="224.5" width="1" height="1" fill="rgb(178,178,178)"/><rect x="48.1" y="231.5" width="1" height="1" fill="rgb(98,98,98)"/><rect x="73.1" y="222.8" width="1" height="1" fill="rgb(112,112,112)"/><rect x="66.6" y="228.8" width="1" height="1" fill="rgb(92,92,92)"/><rect x="68.8" y="221.0" width="1" height="1" fill="rgb(120,120,120)"/><rect x="65.8" y="223.9" width="1" height="1" fill="rgb(141,141,141)"/><rect x="46.0" y="231.0" width="1" height="1" fill="rgb(126,126,126)"/><rect x="78.4" y="220.9" width="1" height="1" fill="rgb(115,115,115)"/><rect x="68.2" y="227.2" width="1" height="1" fill="rgb(106,106,106)"/><rect x="64.4" y="225.6" width="1" height="1" fill="rgb(163,163,163)"/><rect x="64.8" y="228.0" width="1" height="1" fill="rgb(114,114,114)"/><rect x="66.0" y="231.2" width="1" height="1" fill="rgb(91,91,91)"/><rect x="52.1" y="221.8" width="1" height="1" fill="rgb(117,117,117)"/><rect x="58.4" y="233.5" width="1" height="1" fill="rgb(93,93,93)"/><rect x="61.3" y="223.9" width="1" height="1" fill="rgb(176,176,176)"/><rect x="70.1" y="223.7" width="1" height="1" fill="rgb(143,143,143)"/><rect x="69.3" y="224.4" width="1" height="1" fill="rgb(168,168,168)"/><rect x="61.5" y="230.3" width="1" height="1" fill="rgb(166,166,166)"/><rect x="46.9" y="233.4" width="1" height="1" fill="rgb(91,91,91)"/><rect x="77.5" y="225.4" width="1" height="1" fill="rgb(173,173,173)"/><rect x="71.7" y="225.5" width="1" height="1" fill="rgb(168,168,168)"/><rect x="62.8" y="220.2" width="1" height="1" fill="rgb(110,110,110)"/><rect x="73.3" y="226.5" width="1" height="1" fill="rgb(108,108,108)"/><rect x="47.3" y="227.3" width="1" height="1" fill="rgb(135,135,135)"/><rect x="72.5" y="222.1" width="1" height="1" fill="rgb(158,158,158)"/><rect x="58.6" y="220.8" width="1" height="1" fill="rgb(109,109,109)"/><rect x="59.8" y="223.0" width="1" height="1" fill="rgb(132,132,132)"/><rect x="69.9" y="230.6" width="1" height="1" fill="rgb(151,151,151)"/><rect x="69.6" y="219.8" width="1" height="1" fill="rgb(129,129,129)"/><rect x="60.0" y="223.4" width="1" height="1" fill="rgb(180,180,180)"/><rect x="59.5" y="227.8" width="1" height="1" fill="rgb(156,156,156)"/><rect x="59.4" y="226.5" width="1" height="1" fill="rgb(122,122,122)"/><rect x="80.5" y="224.7" width="1" height="1" fill="rgb(173,173,173)"/><rect x="79.0" y="215.7" width="1" height="1" fill="rgb(109,109,109)"/><rect x="75.9" y="224.9" width="1" height="1" fill="rgb(101,101,101)"/><rect x="82.2" y="222.4" width="1" height="1" fill="rgb(105,105,105)"/><rect x="80.1" y="226.1" width="1" height="1" fill="rgb(161,161,161)"/><rect x="69.5" y="223.2" width="1" height="1" fill="rgb(167,167,167)"/><rect x="63.8" y="228.0" width="1" height="1" fill="rgb(112,112,112)"/><rect x="82.9" y="219.2" width="1" height="1" fill="rgb(110,110,110)"/><rect x="57.9" y="226.6" width="1" height="1" fill="rgb(180,180,180)"/><rect x="69.5" y="235.8" width="1" height="1" fill="rgb(153,153,153)"/><rect x="73.6" y="232.8" width="1" height="1" fill="rgb(139,139,139)"/><rect x="58.6" y="227.9" width="1" height="1" fill="rgb(93,93,93)"/><rect x="81.9" y="227.9" width="1" height="1" fill="rgb(98,98,98)"/><rect x="76.5" y="217.7" width="1" height="1" fill="rgb(176,176,176)"/><rect x="70.5" y="224.8" width="1" height="1" fill="rgb(162,162,162)"/><rect x="50.9" y="233.4" width="1" height="1" fill="rgb(138,138,138)"/><rect x="82.5" y="222.6" width="1" height="1" fill="rgb(118,118,118)"/><rect x="70.2" y="225.9" width="1" height="1" fill="rgb(180,180,180)"/><rect x="60.7" y="227.9" width="1" height="1" fill="rgb(116,116,116)"/><rect x="62.7" y="229.9" width="1" height="1" fill="rgb(125,125,125)"/><rect x="57.4" y="238.0" width="1" height="1" fill="rgb(117,117,117)"/><rect x="87.3" y="223.0" width="1" height="1" fill="rgb(151,151,151)"/><rect x="82.5" y="218.9" width="1" height="1" fill="rgb(124,124,124)"/><rect x="73.7" y="224.8" width="1" height="1" fill="rgb(128,128,128)"/><rect x="66.0" y="229.3" width="1" height="1" fill="rgb(152,152,152)"/><rect x="73.8" y="223.4" width="1" height="1" fill="rgb(130,130,130)"/><rect x="61.9" y="222.4" width="1" height="1" fill="rgb(147,147,147)"/><rect x="68.8" y="227.0" width="1" height="1" fill="rgb(116,116,116)"/><rect x="78.7" y="220.1" width="1" height="1" fill="rgb(95,95,95)"/><rect x="72.1" y="218.6" width="1" height="1" fill="rgb(113,113,113)"/><rect x="62.5" y="227.4" width="1" height="1" fill="rgb(128,128,128)"/><rect x="60.1" y="221.1" width="1" height="1" fill="rgb(109,109,109)"/><rect x="69.5" y="225.7" width="1" height="1" fill="rgb(128,128,128)"/><rect x="78.5" y="229.4" width="1" height="1" fill="rgb(102,102,102)"/><rect x="68.1" y="222.1" width="1" height="1" fill="rgb(140,140,140)"/><rect x="76.5" y="226.7" width="1" height="1" fill="rgb(175,175,175)"/><rect x="63.2" y="219.5" width="1" height="1" fill="rgb(94,94,94)"/><rect x="61.7" y="225.6" width="1" height="1" fill="rgb(170,170,170)"/><rect x="66.9" y="225.2" width="1" height="1" fill="rgb(154,154,154)"/><rect x="56.1" y="224.8" width="1" height="1" fill="rgb(179,179,179)"/><rect x="69.7" y="226.2" width="1" height="1" fill="rgb(130,130,130)"/><rect x="61.6" y="226.2" width="1" height="1" fill="rgb(152,152,152)"/><rect x="67.6" y="224.4" width="1" height="1" fill="rgb(90,90,90)"/><rect x="63.3" y="229.6" width="1" height="1" fill="rgb(108,108,108)"/><rect x="51.3" y="223.9" width="1" height="1" fill="rgb(104,104,104)"/><rect x="43.0" y="226.4" width="1" height="1" fill="rgb(99,99,99)"/><rect x="54.7" y="228.0" width="1" height="1" fill="rgb(118,118,118)"/><rect x="57.3" y="223.7" width="1" height="1" fill="rgb(112,112,112)"/><rect x="64.3" y="225.6" width="1" height="1" fill="rgb(95,95,95)"/><rect x="58.8" y="226.8" width="1" height="1" fill="rgb(161,161,161)"/><rect x="64.0" y="224.7" width="1" height="1" fill="rgb(131,131,131)"/><rect x="53.6" y="222.4" width="1" height="1" fill="rgb(159,159,159)"/><rect x="56.6" y="228.8" width="1" height="1" fill="rgb(142,142,142)"/><rect x="74.2" y="223.7" width="1" height="1" fill="rgb(124,124,124)"/><rect x="52.4" y="228.1" width="1" height="1" fill="rgb(143,143,143)"/><rect x="54.6" y="227.5" width="1" height="1" fill="rgb(139,139,139)"/><rect x="68.6" y="221.3" width="1" height="1" fill="rgb(171,171,171)"/><rect x="68.9" y="225.0" width="1" height="1" fill="rgb(122,122,122)"/><rect x="53.5" y="221.9" width="1" height="1" fill="rgb(120,120,120)"/><rect x="63.4" y="221.5" width="1" height="1" fill="rgb(101,101,101)"/><rect x="65.7" y="220.8" width="1" height="1" fill="rgb(96,96,96)"/><rect x="49.5" y="229.0" width="1" height="1" fill="rgb(177,177,177)"/><rect x="51.9" y="223.6" width="1" height="1" fill="rgb(130,130,130)"/><rect x="47.9" y="228.1" width="1" height="1" fill="rgb(150,150,150)"/><rect x="57.6" y="220.2" width="1" height="1" fill="rgb(155,155,155)"/><rect x="52.5" y="229.7" width="1" height="1" fill="rgb(138,138,138)"/><rect x="59.1" y="230.1" width="1" height="1" fill="rgb(138,138,138)"/><rect x="56.2" y="227.0" width="1" height="1" fill="rgb(157,157,157)"/><rect x="56.8" y="230.5" width="1" height="1" fill="rgb(131,131,131)"/><rect x="70.9" y="227.1" width="1" height="1" fill="rgb(175,175,175)"/><rect x="59.8" y="229.9" width="1" height="1" fill="rgb(123,123,123)"/><rect x="56.8" y="231.9" width="1" height="1" fill="rgb(134,134,134)"/><rect x="49.0" y="226.4" width="1" height="1" fill="rgb(118,118,118)"/><rect x="61.0" y="225.7" width="1" height="1" fill="rgb(157,157,157)"/><rect x="54.4" y="227.9" width="1" height="1" fill="rgb(111,111,111)"/><rect x="60.3" y="223.7" width="1" height="1" fill="rgb(112,112,112)"/><rect x="64.8" y="228.9" width="1" height="1" fill="rgb(112,112,112)"/><rect x="48.5" y="222.6" width="1" height="1" fill="rgb(173,173,173)"/><rect x="59.6" y="225.2" width="1" height="1" fill="rgb(138,138,138)"/><rect x="47.7" y="231.6" width="1" height="1" fill="rgb(144,144,144)"/><rect x="61.3" y="226.9" width="1" height="1" fill="rgb(122,122,122)"/><rect x="52.6" y="228.6" width="1" height="1" fill="rgb(174,174,174)"/><rect x="61.2" y="222.2" width="1" height="1" fill="rgb(147,147,147)"/><rect x="54.6" y="224.3" width="1" height="1" fill="rgb(127,127,127)"/><rect x="70.3" y="224.7" width="1" height="1" fill="rgb(147,147,147)"/><rect x="49.4" y="223.2" width="1" height="1" fill="rgb(112,112,112)"/><rect x="58.3" y="224.3" width="1" height="1" fill="rgb(177,177,177)"/><rect x="64.3" y="227.9" width="1" height="1" fill="rgb(174,174,174)"/><rect x="58.6" y="228.8" width="1" height="1" fill="rgb(133,133,133)"/><rect x="59.9" y="223.6" width="1" height="1" fill="rgb(161,161,161)"/><rect x="61.2" y="229.4" width="1" height="1" fill="rgb(97,97,97)"/><rect x="52.2" y="225.2" width="1" height="1" fill="rgb(159,159,159)"/><rect x="56.9" y="228.7" width="1" height="1" fill="rgb(120,120,120)"/><rect x="57.2" y="229.3" width="1" height="1" fill="rgb(157,157,157)"/><rect x="47.6" y="222.6" width="1" height="1" fill="rgb(115,115,115)"/><rect x="72.0" y="230.1" width="1" height="1" fill="rgb(127,127,127)"/><rect x="52.3" y="224.6" width="1" height="1" fill="rgb(95,95,95)"/><rect x="56.4" y="223.3" width="1" height="1" fill="rgb(95,95,95)"/><rect x="56.4" y="223.7" width="1" height="1" fill="rgb(142,142,142)"/><rect x="48.1" y="228.7" width="1" height="1" fill="rgb(122,122,122)"/><rect x="53.3" y="228.8" width="1" height="1" fill="rgb(164,164,164)"/><rect x="65.6" y="228.3" width="1" height="1" fill="rgb(164,164,164)"/><rect x="49.8" y="230.0" width="1" height="1" fill="rgb(132,132,132)"/><rect x="60.1" y="224.8" width="1" height="1" fill="rgb(147,147,147)"/><rect x="50.9" y="229.2" width="1" height="1" fill="rgb(153,153,153)"/><rect x="68.6" y="223.3" width="1" height="1" fill="rgb(93,93,93)"/><rect x="66.0" y="227.6" width="1" height="1" fill="rgb(149,149,149)"/><rect x="55.4" y="223.2" width="1" height="1" fill="rgb(150,150,150)"/><rect x="59.3" y="226.9" width="1" height="1" fill="rgb(140,140,140)"/><rect x="48.4" y="227.2" width="1" height="1" fill="rgb(91,91,91)"/><rect x="51.7" y="222.3" width="1" height="1" fill="rgb(141,141,141)"/><rect x="40.4" y="226.0" width="1" height="1" fill="rgb(127,127,127)"/><rect x="45.1" y="225.6" width="1" height="1" fill="rgb(148,148,148)"/><rect x="62.2" y="227.0" width="1" height="1" fill="rgb(99,99,99)"/><rect x="56.7" y="225.9" width="1" height="1" fill="rgb(153,153,153)"/><rect x="69.4" y="227.5" width="1" height="1" fill="rgb(162,162,162)"/><rect x="43.7" y="229.0" width="1" height="1" fill="rgb(115,115,115)"/><rect x="55.8" y="222.9" width="1" height="1" fill="rgb(97,97,97)"/><rect x="45.4" y="225.7" width="1" height="1" fill="rgb(164,164,164)"/><rect x="63.2" y="227.8" width="1" height="1" fill="rgb(96,96,96)"/><rect x="61.1" y="224.5" width="1" height="1" fill="rgb(132,132,132)"/><rect x="66.3" y="233.1" width="1" height="1" fill="rgb(113,113,113)"/><rect x="64.4" y="225.2" width="1" height="1" fill="rgb(123,123,123)"/><rect x="64.7" y="226.9" width="1" height="1" fill="rgb(174,174,174)"/><rect x="64.4" y="222.4" width="1" height="1" fill="rgb(155,155,155)"/><rect x="67.1" y="222.1" width="1" height="1" fill="rgb(129,129,129)"/><rect x="52.6" y="232.2" width="1" height="1" fill="rgb(145,145,145)"/><rect x="61.8" y="223.8" width="1" height="1" fill="rgb(115,115,115)"/><rect x="61.7" y="227.1" width="1" height="1" fill="rgb(173,173,173)"/><rect x="51.7" y="229.0" width="1" height="1" fill="rgb(152,152,152)"/><rect x="56.9" y="224.5" width="1" height="1" fill="rgb(133,133,133)"/><rect x="56.4" y="268.2" width="1" height="1" fill="rgb(191,191,191)"/><rect x="48.8" y="249.1" width="1" height="1" fill="rgb(121,121,121)"/><rect x="48.0" y="257.1" width="1" height="1" fill="rgb(192,192,192)"/><rect x="53.6" y="254.1" width="1" height="1" fill="rgb(148,148,148)"/><rect x="54.2" y="250.2" width="1" height="1" fill="rgb(210,210,210)"/><rect x="56.4" y="271.2" width="1" height="1" fill="rgb(198,198,198)"/><rect x="41.8" y="265.9" width="1" height="1" fill="rgb(176,176,176)"/><rect x="54.0" y="259.7" width="1" height="1" fill="rgb(143,143,143)"/><rect x="46.5" y="263.0" width="1" height="1" fill="rgb(126,126,126)"/><rect x="59.7" y="262.8" width="1" height="1" fill="rgb(196,196,196)"/><rect x="52.2" y="256.4" width="1" height="1" fill="rgb(191,191,191)"/><rect x="52.8" y="252.2" width="1" height="1" fill="rgb(148,148,148)"/><rect x="49.5" y="249.1" width="1" height="1" fill="rgb(157,157,157)"/><rect x="55.0" y="247.4" width="1" height="1" fill="rgb(140,140,140)"/><rect x="59.8" y="264.1" width="1" height="1" fill="rgb(146,146,146)"/><rect x="47.4" y="258.0" width="1" height="1" fill="rgb(145,145,145)"/><rect x="55.6" y="239.1" width="1" height="1" fill="rgb(173,173,173)"/><rect x="54.6" y="267.4" width="1" height="1" fill="rgb(210,210,210)"/><rect x="59.3" y="247.3" width="1" height="1" fill="rgb(139,139,139)"/><rect x="60.7" y="241.3" width="1" height="1" fill="rgb(137,137,137)"/><rect x="62.2" y="254.6" width="1" height="1" fill="rgb(157,157,157)"/><rect x="53.5" y="242.5" width="1" height="1" fill="rgb(160,160,160)"/><rect x="50.9" y="247.1" width="1" height="1" fill="rgb(159,159,159)"/><rect x="56.8" y="251.1" width="1" height="1" fill="rgb(147,147,147)"/><rect x="58.2" y="262.9" width="1" height="1" fill="rgb(149,149,149)"/><rect x="52.0" y="257.6" width="1" height="1" fill="rgb(168,168,168)"/><rect x="55.3" y="259.3" width="1" height="1" fill="rgb(203,203,203)"/><rect x="50.9" y="256.2" width="1" height="1" fill="rgb(179,179,179)"/><rect x="54.9" y="258.4" width="1" height="1" fill="rgb(162,162,162)"/><rect x="51.9" y="253.6" width="1" height="1" fill="rgb(165,165,165)"/><rect x="61.2" y="262.1" width="1" height="1" fill="rgb(203,203,203)"/><rect x="58.7" y="250.2" width="1" height="1" fill="rgb(157,157,157)"/><rect x="52.1" y="256.6" width="1" height="1" fill="rgb(183,183,183)"/><rect x="61.5" y="242.6" width="1" height="1" fill="rgb(145,145,145)"/><rect x="43.1" y="262.2" width="1" height="1" fill="rgb(196,196,196)"/><rect x="45.7" y="254.1" width="1" height="1" fill="rgb(145,145,145)"/><rect x="55.5" y="258.7" width="1" height="1" fill="rgb(149,149,149)"/><rect x="49.3" y="255.3" width="1" height="1" fill="rgb(194,194,194)"/><rect x="42.4" y="251.4" width="1" height="1" fill="rgb(164,164,164)"/><rect x="54.0" y="259.0" width="1" height="1" fill="rgb(158,158,158)"/><rect x="57.3" y="255.7" width="1" height="1" fill="rgb(177,177,177)"/><rect x="48.6" y="258.9" width="1" height="1" fill="rgb(166,166,166)"/><rect x="56.8" y="264.4" width="1" height="1" fill="rgb(158,158,158)"/><rect x="55.9" y="244.8" width="1" height="1" fill="rgb(178,178,178)"/><rect x="58.2" y="258.0" width="1" height="1" fill="rgb(140,140,140)"/><rect x="48.4" y="254.2" width="1" height="1" fill="rgb(124,124,124)"/><rect x="59.4" y="254.9" width="1" height="1" fill="rgb(172,172,172)"/><rect x="51.4" y="254.0" width="1" height="1" fill="rgb(193,193,193)"/><rect x="54.0" y="253.3" width="1" height="1" fill="rgb(204,204,204)"/><rect x="52.5" y="250.1" width="1" height="1" fill="rgb(204,204,204)"/><rect x="57.2" y="251.8" width="1" height="1" fill="rgb(202,202,202)"/><rect x="57.0" y="248.7" width="1" height="1" fill="rgb(139,139,139)"/><rect x="52.8" y="259.2" width="1" height="1" fill="rgb(150,150,150)"/><rect x="57.3" y="258.9" width="1" height="1" fill="rgb(188,188,188)"/><rect x="48.7" y="256.7" width="1" height="1" fill="rgb(151,151,151)"/><rect x="56.2" y="261.3" width="1" height="1" fill="rgb(184,184,184)"/><rect x="52.5" y="272.1" width="1" height="1" fill="rgb(156,156,156)"/><rect x="50.2" y="259.9" width="1" height="1" fill="rgb(136,136,136)"/><rect x="59.8" y="246.9" width="1" height="1" fill="rgb(188,188,188)"/><rect x="42.5" y="261.1" width="1" height="1" fill="rgb(121,121,121)"/><rect x="78.9" y="247.0" width="1" height="1" fill="rgb(235,235,235)"/><rect x="54.3" y="238.5" width="1" height="1" fill="rgb(189,189,189)"/><rect x="82.9" y="248.2" width="1" height="1" fill="rgb(193,193,193)"/><rect x="90.8" y="244.9" width="1" height="1" fill="rgb(235,235,235)"/><rect x="62.6" y="244.1" width="1" height="1" fill="rgb(175,175,175)"/><rect x="92.0" y="251.6" width="1" height="1" fill="rgb(189,189,189)"/><rect x="76.0" y="262.3" width="1" height="1" fill="rgb(225,225,225)"/><rect x="73.7" y="241.5" width="1" height="1" fill="rgb(191,191,191)"/><rect x="87.2" y="249.0" width="1" height="1" fill="rgb(172,172,172)"/><rect x="95.1" y="248.6" width="1" height="1" fill="rgb(235,235,235)"/><rect x="80.8" y="252.6" width="1" height="1" fill="rgb(170,170,170)"/><rect x="81.2" y="234.7" width="1" height="1" fill="rgb(183,183,183)"/><rect x="110.5" y="246.6" width="1" height="1" fill="rgb(212,212,212)"/><rect x="75.9" y="242.5" width="1" height="1" fill="rgb(191,191,191)"/><rect x="85.7" y="254.6" width="1" height="1" fill="rgb(181,181,181)"/>
<rect x="26.50" y="205.50" width="90.00" height="74.00" stroke="#444" stroke-width="1" fill="none"/>
<path d="M26.40,279.20v2.2M26.40,279.20h-2.2M33.15,279.20v1.2M26.40,273.65h-1.2M37.10,279.20v1.2M26.40,270.40h-1.2M39.90,279.20v1.2M26.40,268.09h-1.2M42.07,279.20v1.2M26.40,266.30h-1.2M43.85,279.20v1.2M26.40,264.84h-1.2M45.35,279.20v1.2M26.40,263.61h-1.2M46.65,279.20v1.2M26.40,262.54h-1.2M47.80,279.20v1.2M26.40,261.59h-1.2M48.82,279.20v2.2M26.40,260.75h-2.2M55.58,279.20v1.2M26.40,255.20h-1.2M59.52,279.20v1.2M26.40,251.95h-1.2M62.33,279.20v1.2M26.40,249.64h-1.2M64.50,279.20v1.2M26.40,247.85h-1.2M66.28,279.20v1.2M26.40,246.39h-1.2M67.78,279.20v1.2M26.40,245.16h-1.2M69.08,279.20v1.2M26.40,244.09h-1.2M70.22,279.20v1.2M26.40,243.14h-1.2M71.25,279.20v2.2M26.40,242.30h-2.2M78.00,279.20v1.2M26.40,236.75h-1.2M81.95,279.20v1.2M26.40,233.50h-1.2M84.75,279.20v1.2M26.40,231.19h-1.2M86.92,279.20v1.2M26.40,229.40h-1.2M88.70,279.20v1.2M26.40,227.94h-1.2M90.20,279.20v1.2M26.40,226.71h-1.2M91.50,279.20v1.2M26.40,225.64h-1.2M92.65,279.20v1.2M26.40,224.69h-1.2M93.67,279.20v2.2M26.40,223.85h-2.2M100.43,279.20v1.2M26.40,218.30h-1.2M104.37,279.20v1.2M26.40,215.05h-1.2M107.18,279.20v1.2M26.40,212.74h-1.2M109.35,279.20v1.2M26.40,210.95h-1.2M111.13,279.20v1.2M26.40,209.49h-1.2M112.63,279.20v1.2M26.40,208.26h-1.2M113.93,279.20v1.2M26.40,207.19h-1.2M115.07,279.20v1.2M26.40,206.24h-1.2M116.10,279.20v2.2M26.40,205.40h-2.2" stroke="#444" stroke-width="0.8" fill="none"/>
<text x="23.40" y="287.70" font-size="5.2" fill="#444" textLength="5.5" lengthAdjust="spacingAndGlyphs">10</text><text x="29.10" y="284.70" font-size="4.2" fill="#444">0</text>
<g transform="translate(21.90 282.20) rotate(-90)"><text x="0" y="0" font-size="5.2" fill="#444" textLength="5.5" lengthAdjust="spacingAndGlyphs">10</text><text x="5.7" y="-3" font-size="4.2" fill="#444">0</text></g>
<text x="45.82" y="287.70" font-size="5.2" fill="#444" textLength="5.5" lengthAdjust="spacingAndGlyphs">10</text><text x="51.52" y="284.70" font-size="4.2" fill="#444">1</text>
<g transform="translate(21.90 263.75) rotate(-90)"><text x="0" y="0" font-size="5.2" fill="#444" textLength="5.5" lengthAdjust="spacingAndGlyphs">10</text><text x="5.7" y="-3" font-size="4.2" fill="#444">1</text></g>
<text x="68.25" y="287.70" font-size="5.2" fill="#444" textLength="5.5" lengthAdjust="spacingAndGlyphs">10</text><text x="73.95" y="284.70" font-size="4.2" fill="#444">2</text>
<g transform="translate(21.90 245.30) rotate(-90)"><text x="0" y="0" font-size="5.2" fill="#444" textLength="5.5" lengthAdjust="spacingAndGlyphs">10</text><text x="5.7" y="-3" font-size="4.2" fill="#444">2</text></g>
<text x="90.67" y="287.70" font-size="5.2" fill="#444" textLength="5.5" lengthAdjust="spacingAndGlyphs">10</text><text x="96.37" y="284.70" font-size="4.2" fill="#444">3</text>
<g transform="translate(21.90 226.85) rotate(-90)"><text x="0" y="0" font-size="5.2" fill="#444" textLength="5.5" lengthAdjust="spacingAndGlyphs">10</text><text x="5.7" y="-3" font-size="4.2" fill="#444">3</text></g>
<text x="113.10" y="287.70" font-size="5.2" fill="#444" textLength="5.5" lengthAdjust="spacingAndGlyphs">10</text><text x="118.80" y="284.70" font-size="4.2" fill="#444">4</text>
<g transform="translate(21.90 208.40) rotate(-90)"><text x="0" y="0" font-size="5.2" fill="#444" textLength="5.5" lengthAdjust="spacingAndGlyphs">10</text><text x="5.7" y="-3" font-size="4.2" fill="#444">4</text></g>
<line x1="70.50" y1="205.40" x2="70.50" y2="279.20" stroke="#444" stroke-width="1"/>
<line x1="26.40" y1="240.50" x2="116.10" y2="240.50" stroke="#444" stroke-width="1"/>
<text x="54.00" y="202.50" font-size="6" text-anchor="start" font-weight="normal" fill="#222" textLength="25" lengthAdjust="spacingAndGlyphs">FTOC A 001</text>
<text x="28.40" y="216.60" font-size="11" text-anchor="start" font-weight="normal" fill="#151515" stroke="#151515" stroke-width="0.3">24.7</text>
<text x="115.00" y="216.60" font-size="11" text-anchor="end" font-weight="normal" fill="#151515" stroke="#151515" stroke-width="0.3">57.7</text>
<text x="28.40" y="277.80" font-size="11" text-anchor="start" font-weight="normal" fill="#151515" stroke="#151515" stroke-width="0.3">15.7</text>
<text x="114.00" y="277.80" font-size="11" text-anchor="end" font-weight="normal" fill="#151515" stroke="#151515" stroke-width="0.3">1.9</text>
<text x="15.60" y="247.20" font-size="13" text-anchor="middle" font-weight="normal" fill="#151515" stroke="#151515" stroke-width="0.3" transform="rotate(-90 15.6 247.2)">CD4</text>
<text x="55.50" y="305.00" font-size="13" text-anchor="start" font-weight="normal" fill="#151515" stroke="#151515" stroke-width="0.3">CD8</text>
<rect x="225.4" y="266.4" width="1" height="1" fill="rgb(77,77,77)"/><rect x="226.1" y="273.0" width="1" height="1" fill="rgb(147,147,147)"/><rect x="215.2" y="282.8" width="1" height="1" fill="rgb(60,60,60)"/><rect x="224.1" y="258.2" width="1" height="1" fill="rgb(123,123,123)"/><rect x="217.6" y="268.2" width="1" height="1" fill="rgb(68,68,68)"/><rect x="222.6" y="257.8" width="1" height="1" fill="rgb(85,85,85)"/><rect x="223.7" y="262.9" width="1" height="1" fill="rgb(106,106,106)"/><rect x="223.1" y="262.4" width="1" height="1" fill="rgb(104,104,104)"/><rect x="213.9" y="267.4" width="1" height="1" fill="rgb(123,123,123)"/><rect x="218.3" y="261.1" width="1" height="1" fill="rgb(77,77,77)"/><rect x="222.0" y="273.1" width="1" height="1" fill="rgb(98,98,98)"/><rect x="230.0" y="254.3" width="1" height="1" fill="rgb(147,147,147)"/><rect x="217.5" y="266.1" width="1" height="1" fill="rgb(141,141,141)"/><rect x="224.9" y="253.2" width="1" height="1" fill="rgb(98,98,98)"/><rect x="222.4" y="258.4" width="1" height="1" fill="rgb(143,143,143)"/><rect x="225.1" y="262.1" width="1" height="1" fill="rgb(92,92,92)"/><rect x="222.5" y="255.3" width="1" height="1" fill="rgb(90,90,90)"/><rect x="224.5" y="268.7" width="1" height="1" fill="rgb(90,90,90)"/><rect x="227.7" y="256.3" width="1" height="1" fill="rgb(147,147,147)"/><rect x="223.9" y="262.9" width="1" height="1" fill="rgb(144,144,144)"/><rect x="224.6" y="254.7" width="1" height="1" fill="rgb(147,147,147)"/><rect x="223.3" y="259.9" width="1" height="1" fill="rgb(108,108,108)"/><rect x="220.5" y="267.7" width="1" height="1" fill="rgb(143,143,143)"/><rect x="217.9" y="260.9" width="1" height="1" fill="rgb(144,144,144)"/><rect x="213.8" y="266.6" width="1" height="1" fill="rgb(99,99,99)"/><rect x="228.9" y="260.1" width="1" height="1" fill="rgb(62,62,62)"/><rect x="233.3" y="253.3" width="1" height="1" fill="rgb(120,120,120)"/><rect x="216.0" y="273.6" width="1" height="1" fill="rgb(118,118,118)"/><rect x="226.7" y="266.6" width="1" height="1" fill="rgb(70,70,70)"/><rect x="216.1" y="277.8" width="1" height="1" fill="rgb(139,139,139)"/><rect x="227.4" y="262.0" width="1" height="1" fill="rgb(94,94,94)"/><rect x="226.9" y="271.1" width="1" height="1" fill="rgb(112,112,112)"/><rect x="217.2" y="261.5" width="1" height="1" fill="rgb(75,75,75)"/><rect x="224.1" y="270.6" width="1" height="1" fill="rgb(108,108,108)"/><rect x="224.1" y="260.9" width="1" height="1" fill="rgb(94,94,94)"/><rect x="220.9" y="268.7" width="1" height="1" fill="rgb(81,81,81)"/><rect x="224.4" y="273.9" width="1" height="1" fill="rgb(138,138,138)"/><rect x="232.8" y="248.2" width="1" height="1" fill="rgb(99,99,99)"/><rect x="208.8" y="276.0" width="1" height="1" fill="rgb(124,124,124)"/><rect x="224.4" y="256.9" width="1" height="1" fill="rgb(80,80,80)"/><rect x="221.9" y="265.9" width="1" height="1" fill="rgb(82,82,82)"/><rect x="225.8" y="264.7" width="1" height="1" fill="rgb(132,132,132)"/><rect x="224.0" y="260.2" width="1" height="1" fill="rgb(105,105,105)"/><rect x="215.4" y="257.8" width="1" height="1" fill="rgb(125,125,125)"/><rect x="221.0" y="263.9" width="1" height="1" fill="rgb(92,92,92)"/><rect x="221.4" y="264.2" width="1" height="1" fill="rgb(139,139,139)"/><rect x="220.4" y="270.1" width="1" height="1" fill="rgb(97,97,97)"/><rect x="217.3" y="274.8" width="1" height="1" fill="rgb(140,140,140)"/><rect x="217.5" y="258.2" width="1" height="1" fill="rgb(146,146,146)"/><rect x="230.0" y="261.7" width="1" height="1" fill="rgb(123,123,123)"/><rect x="232.3" y="260.5" width="1" height="1" fill="rgb(147,147,147)"/><rect x="226.4" y="265.2" width="1" height="1" fill="rgb(99,99,99)"/><rect x="222.6" y="254.4" width="1" height="1" fill="rgb(137,137,137)"/><rect x="222.5" y="263.7" width="1" height="1" fill="rgb(101,101,101)"/><rect x="221.8" y="265.6" width="1" height="1" fill="rgb(94,94,94)"/><rect x="227.0" y="266.6" width="1" height="1" fill="rgb(133,133,133)"/><rect x="203.3" y="279.4" width="1" height="1" fill="rgb(82,82,82)"/><rect x="222.4" y="257.9" width="1" height="1" fill="rgb(95,95,95)"/><rect x="219.6" y="264.6" width="1" height="1" fill="rgb(129,129,129)"/><rect x="229.3" y="260.5" width="1" height="1" fill="rgb(112,112,112)"/><rect x="216.6" y="262.5" width="1" height="1" fill="rgb(146,146,146)"/><rect x="218.4" y="263.8" width="1" height="1" fill="rgb(150,150,150)"/><rect x="214.9" y="279.4" width="1" height="1" fill="rgb(101,101,101)"/><rect x="226.3" y="267.5" width="1" height="1" fill="rgb(66,66,66)"/><rect x="223.9" y="259.5" width="1" height="1" fill="rgb(77,77,77)"/><rect x="225.5" y="271.2" width="1" height="1" fill="rgb(67,67,67)"/><rect x="227.2" y="268.2" width="1" height="1" fill="rgb(81,81,81)"/><rect x="217.5" y="259.1" width="1" height="1" fill="rgb(135,135,135)"/><rect x="220.9" y="271.0" width="1" height="1" fill="rgb(106,106,106)"/><rect x="225.9" y="261.5" width="1" height="1" fill="rgb(99,99,99)"/><rect x="227.3" y="257.5" width="1" height="1" fill="rgb(139,139,139)"/><rect x="220.0" y="271.9" width="1" height="1" fill="rgb(73,73,73)"/><rect x="220.3" y="262.4" width="1" height="1" fill="rgb(100,100,100)"/><rect x="211.8" y="282.0" width="1" height="1" fill="rgb(94,94,94)"/><rect x="232.0" y="264.8" width="1" height="1" fill="rgb(139,139,139)"/><rect x="212.5" y="275.9" width="1" height="1" fill="rgb(141,141,141)"/><rect x="228.7" y="268.9" width="1" height="1" fill="rgb(65,65,65)"/><rect x="227.8" y="267.6" width="1" height="1" fill="rgb(120,120,120)"/><rect x="216.9" y="261.3" width="1" height="1" fill="rgb(112,112,112)"/><rect x="222.6" y="260.9" width="1" height="1" fill="rgb(106,106,106)"/><rect x="221.4" y="261.0" width="1" height="1" fill="rgb(96,96,96)"/><rect x="224.2" y="261.6" width="1" height="1" fill="rgb(117,117,117)"/><rect x="222.7" y="263.4" width="1" height="1" fill="rgb(149,149,149)"/><rect x="217.8" y="266.9" width="1" height="1" fill="rgb(106,106,106)"/><rect x="222.1" y="269.0" width="1" height="1" fill="rgb(68,68,68)"/><rect x="224.3" y="262.0" width="1" height="1" fill="rgb(137,137,137)"/><rect x="220.0" y="262.3" width="1" height="1" fill="rgb(74,74,74)"/><rect x="225.5" y="261.3" width="1" height="1" fill="rgb(82,82,82)"/><rect x="230.1" y="257.4" width="1" height="1" fill="rgb(148,148,148)"/><rect x="226.6" y="265.1" width="1" height="1" fill="rgb(103,103,103)"/><rect x="217.3" y="272.6" width="1" height="1" fill="rgb(103,103,103)"/><rect x="220.4" y="269.3" width="1" height="1" fill="rgb(78,78,78)"/><rect x="216.0" y="269.0" width="1" height="1" fill="rgb(145,145,145)"/><rect x="226.6" y="259.9" width="1" height="1" fill="rgb(87,87,87)"/><rect x="221.4" y="267.4" width="1" height="1" fill="rgb(112,112,112)"/><rect x="222.9" y="264.8" width="1" height="1" fill="rgb(133,133,133)"/><rect x="218.9" y="262.1" width="1" height="1" fill="rgb(111,111,111)"/><rect x="224.5" y="271.3" width="1" height="1" fill="rgb(146,146,146)"/><rect x="225.0" y="253.7" width="1" height="1" fill="rgb(79,79,79)"/><rect x="224.4" y="273.1" width="1" height="1" fill="rgb(90,90,90)"/><rect x="210.7" y="274.4" width="1" height="1" fill="rgb(64,64,64)"/><rect x="222.1" y="256.1" width="1" height="1" fill="rgb(143,143,143)"/><rect x="219.2" y="270.5" width="1" height="1" fill="rgb(142,142,142)"/><rect x="220.1" y="259.5" width="1" height="1" fill="rgb(138,138,138)"/><rect x="229.4" y="254.7" width="1" height="1" fill="rgb(137,137,137)"/><rect x="217.3" y="265.5" width="1" height="1" fill="rgb(137,137,137)"/><rect x="223.4" y="267.7" width="1" height="1" fill="rgb(72,72,72)"/><rect x="218.0" y="273.6" width="1" height="1" fill="rgb(70,70,70)"/><rect x="217.1" y="275.3" width="1" height="1" fill="rgb(69,69,69)"/><rect x="232.3" y="265.7" width="1" height="1" fill="rgb(87,87,87)"/><rect x="230.2" y="259.0" width="1" height="1" fill="rgb(77,77,77)"/><rect x="216.4" y="271.9" width="1" height="1" fill="rgb(117,117,117)"/><rect x="216.3" y="266.4" width="1" height="1" fill="rgb(64,64,64)"/><rect x="232.5" y="259.3" width="1" height="1" fill="rgb(74,74,74)"/><rect x="217.9" y="269.1" width="1" height="1" fill="rgb(103,103,103)"/><rect x="229.1" y="258.4" width="1" height="1" fill="rgb(89,89,89)"/><rect x="224.5" y="272.1" width="1" height="1" fill="rgb(86,86,86)"/><rect x="219.6" y="280.6" width="1" height="1" fill="rgb(133,133,133)"/><rect x="221.2" y="265.8" width="1" height="1" fill="rgb(82,82,82)"/><rect x="228.9" y="260.9" width="1" height="1" fill="rgb(114,114,114)"/><rect x="212.9" y="281.5" width="1" height="1" fill="rgb(95,95,95)"/><rect x="221.3" y="259.4" width="1" height="1" fill="rgb(111,111,111)"/><rect x="211.9" y="281.3" width="1" height="1" fill="rgb(112,112,112)"/><rect x="224.1" y="273.6" width="1" height="1" fill="rgb(67,67,67)"/><rect x="227.2" y="249.2" width="1" height="1" fill="rgb(102,102,102)"/><rect x="220.2" y="263.6" width="1" height="1" fill="rgb(142,142,142)"/><rect x="219.6" y="267.7" width="1" height="1" fill="rgb(118,118,118)"/><rect x="233.6" y="254.1" width="1" height="1" fill="rgb(139,139,139)"/><rect x="217.7" y="270.1" width="1" height="1" fill="rgb(84,84,84)"/><rect x="225.0" y="264.9" width="1" height="1" fill="rgb(84,84,84)"/><rect x="232.9" y="261.6" width="1" height="1" fill="rgb(62,62,62)"/><rect x="219.1" y="269.0" width="1" height="1" fill="rgb(150,150,150)"/><rect x="222.1" y="256.7" width="1" height="1" fill="rgb(85,85,85)"/><rect x="214.6" y="268.5" width="1" height="1" fill="rgb(97,97,97)"/><rect x="222.3" y="253.0" width="1" height="1" fill="rgb(138,138,138)"/><rect x="222.1" y="263.5" width="1" height="1" fill="rgb(86,86,86)"/><rect x="213.4" y="277.0" width="1" height="1" fill="rgb(142,142,142)"/><rect x="221.1" y="259.1" width="1" height="1" fill="rgb(93,93,93)"/><rect x="215.3" y="268.3" width="1" height="1" fill="rgb(132,132,132)"/><rect x="211.1" y="262.8" width="1" height="1" fill="rgb(99,99,99)"/><rect x="229.6" y="264.3" width="1" height="1" fill="rgb(148,148,148)"/><rect x="215.3" y="279.2" width="1" height="1" fill="rgb(118,118,118)"/><rect x="223.2" y="259.9" width="1" height="1" fill="rgb(79,79,79)"/><rect x="215.0" y="278.8" width="1" height="1" fill="rgb(122,122,122)"/><rect x="234.6" y="254.7" width="1" height="1" fill="rgb(100,100,100)"/><rect x="212.4" y="274.5" width="1" height="1" fill="rgb(76,76,76)"/><rect x="226.5" y="256.9" width="1" height="1" fill="rgb(92,92,92)"/><rect x="218.7" y="267.8" width="1" height="1" fill="rgb(92,92,92)"/><rect x="215.3" y="261.0" width="1" height="1" fill="rgb(84,84,84)"/><rect x="219.2" y="255.9" width="1" height="1" fill="rgb(126,126,126)"/><rect x="214.3" y="274.7" width="1" height="1" fill="rgb(109,109,109)"/><rect x="228.7" y="269.1" width="1" height="1" fill="rgb(115,115,115)"/><rect x="223.1" y="265.1" width="1" height="1" fill="rgb(87,87,87)"/><rect x="221.6" y="259.7" width="1" height="1" fill="rgb(63,63,63)"/><rect x="232.8" y="257.3" width="1" height="1" fill="rgb(71,71,71)"/><rect x="220.9" y="266.6" width="1" height="1" fill="rgb(133,133,133)"/><rect x="220.4" y="266.2" width="1" height="1" fill="rgb(101,101,101)"/><rect x="218.8" y="273.4" width="1" height="1" fill="rgb(119,119,119)"/><rect x="214.7" y="271.9" width="1" height="1" fill="rgb(86,86,86)"/><rect x="226.2" y="262.2" width="1" height="1" fill="rgb(105,105,105)"/><rect x="220.6" y="268.1" width="1" height="1" fill="rgb(135,135,135)"/><rect x="232.0" y="249.0" width="1" height="1" fill="rgb(116,116,116)"/><rect x="215.5" y="272.4" width="1" height="1" fill="rgb(141,141,141)"/><rect x="217.7" y="258.7" width="1" height="1" fill="rgb(68,68,68)"/><rect x="214.6" y="267.9" width="1" height="1" fill="rgb(120,120,120)"/><rect x="226.4" y="268.2" width="1" height="1" fill="rgb(90,90,90)"/><rect x="221.2" y="260.5" width="1" height="1" fill="rgb(120,120,120)"/><rect x="220.3" y="265.2" width="1" height="1" fill="rgb(123,123,123)"/><rect x="220.9" y="265.2" width="1" height="1" fill="rgb(90,90,90)"/><rect x="234.5" y="228.0" width="1" height="1" fill="rgb(150,150,150)"/><rect x="214.3" y="259.0" width="1" height="1" fill="rgb(178,178,178)"/><rect x="217.0" y="235.7" width="1" height="1" fill="rgb(154,154,154)"/><rect x="229.0" y="269.8" width="1" height="1" fill="rgb(175,175,175)"/><rect x="228.9" y="245.4" width="1" height="1" fill="rgb(156,156,156)"/><rect x="208.6" y="261.8" width="1" height="1" fill="rgb(178,178,178)"/><rect x="228.5" y="245.0" width="1" height="1" fill="rgb(221,221,221)"/><rect x="213.6" y="230.8" width="1" height="1" fill="rgb(183,183,183)"/><rect x="238.9" y="250.9" width="1" height="1" fill="rgb(211,211,211)"/><rect x="228.2" y="243.3" width="1" height="1" fill="rgb(235,235,235)"/><rect x="232.6" y="251.2" width="1" height="1" fill="rgb(217,217,217)"/><rect x="234.2" y="258.2" width="1" height="1" fill="rgb(163,163,163)"/><rect x="203.0" y="246.5" width="1" height="1" fill="rgb(198,198,198)"/><rect x="228.6" y="247.7" width="1" height="1" fill="rgb(153,153,153)"/><rect x="210.6" y="241.6" width="1" height="1" fill="rgb(214,214,214)"/><rect x="215.2" y="242.8" width="1" height="1" fill="rgb(218,218,218)"/><rect x="231.0" y="249.6" width="1" height="1" fill="rgb(219,219,219)"/><rect x="219.7" y="240.7" width="1" height="1" fill="rgb(235,235,235)"/><rect x="244.5" y="248.8" width="1" height="1" fill="rgb(153,153,153)"/><rect x="232.6" y="259.0" width="1" height="1" fill="rgb(208,208,208)"/><rect x="232.0" y="263.2" width="1" height="1" fill="rgb(176,176,176)"/><rect x="214.5" y="222.8" width="1" height="1" fill="rgb(228,228,228)"/><rect x="240.4" y="246.1" width="1" height="1" fill="rgb(195,195,195)"/><rect x="226.1" y="244.1" width="1" height="1" fill="rgb(180,180,180)"/><rect x="239.4" y="232.3" width="1" height="1" fill="rgb(162,162,162)"/><rect x="234.8" y="252.3" width="1" height="1" fill="rgb(189,189,189)"/><rect x="228.4" y="242.4" width="1" height="1" fill="rgb(227,227,227)"/><rect x="220.0" y="243.8" width="1" height="1" fill="rgb(174,174,174)"/><rect x="231.9" y="248.2" width="1" height="1" fill="rgb(164,164,164)"/><rect x="221.0" y="232.4" width="1" height="1" fill="rgb(177,177,177)"/><rect x="217.1" y="246.6" width="1" height="1" fill="rgb(202,202,202)"/><rect x="239.6" y="242.0" width="1" height="1" fill="rgb(176,176,176)"/><rect x="242.1" y="239.9" width="1" height="1" fill="rgb(160,160,160)"/><rect x="244.3" y="238.1" width="1" height="1" fill="rgb(153,153,153)"/><rect x="225.4" y="243.3" width="1" height="1" fill="rgb(205,205,205)"/><rect x="229.1" y="244.8" width="1" height="1" fill="rgb(229,229,229)"/><rect x="238.1" y="244.2" width="1" height="1" fill="rgb(235,235,235)"/><rect x="239.7" y="261.1" width="1" height="1" fill="rgb(194,194,194)"/><rect x="237.7" y="249.7" width="1" height="1" fill="rgb(170,170,170)"/><rect x="201.7" y="257.9" width="1" height="1" fill="rgb(233,233,233)"/><rect x="249.5" y="225.9" width="1" height="1" fill="rgb(159,159,159)"/><rect x="262.2" y="217.9" width="1" height="1" fill="rgb(121,121,121)"/><rect x="252.4" y="230.4" width="1" height="1" fill="rgb(132,132,132)"/><rect x="248.1" y="228.3" width="1" height="1" fill="rgb(149,149,149)"/><rect x="262.4" y="221.7" width="1" height="1" fill="rgb(122,122,122)"/><rect x="262.4" y="226.2" width="1" height="1" fill="rgb(110,110,110)"/><rect x="260.5" y="223.1" width="1" height="1" fill="rgb(148,148,148)"/><rect x="253.8" y="228.5" width="1" height="1" fill="rgb(120,120,120)"/><rect x="248.6" y="230.1" width="1" height="1" fill="rgb(88,88,88)"/><rect x="239.1" y="229.0" width="1" height="1" fill="rgb(100,100,100)"/><rect x="253.4" y="228.9" width="1" height="1" fill="rgb(164,164,164)"/><rect x="240.4" y="228.8" width="1" height="1" fill="rgb(132,132,132)"/><rect x="259.0" y="225.3" width="1" height="1" fill="rgb(160,160,160)"/><rect x="256.2" y="228.5" width="1" height="1" fill="rgb(116,116,116)"/><rect x="253.4" y="221.7" width="1" height="1" fill="rgb(113,113,113)"/><rect x="250.5" y="229.1" width="1" height="1" fill="rgb(102,102,102)"/><rect x="247.2" y="226.5" width="1" height="1" fill="rgb(101,101,101)"/><rect x="249.7" y="224.0" width="1" height="1" fill="rgb(130,130,130)"/><rect x="253.0" y="230.3" width="1" height="1" fill="rgb(83,83,83)"/><rect x="262.2" y="229.4" width="1" height="1" fill="rgb(162,162,162)"/><rect x="252.2" y="235.9" width="1" height="1" fill="rgb(162,162,162)"/><rect x="252.8" y="226.4" width="1" height="1" fill="rgb(88,88,88)"/><rect x="246.1" y="226.7" width="1" height="1" fill="rgb(118,118,118)"/><rect x="260.8" y="228.7" width="1" height="1" fill="rgb(148,148,148)"/><rect x="258.2" y="227.2" width="1" height="1" fill="rgb(98,98,98)"/><rect x="244.8" y="228.0" width="1" height="1" fill="rgb(162,162,162)"/><rect x="261.2" y="225.5" width="1" height="1" fill="rgb(115,115,115)"/><rect x="258.3" y="225.4" width="1" height="1" fill="rgb(92,92,92)"/><rect x="252.8" y="231.0" width="1" height="1" fill="rgb(169,169,169)"/><rect x="250.8" y="225.4" width="1" height="1" fill="rgb(92,92,92)"/><rect x="256.9" y="224.7" width="1" height="1" fill="rgb(121,121,121)"/><rect x="253.7" y="227.2" width="1" height="1" fill="rgb(108,108,108)"/><rect x="256.0" y="228.7" width="1" height="1" fill="rgb(124,124,124)"/><rect x="250.9" y="226.3" width="1" height="1" fill="rgb(81,81,81)"/><rect x="254.2" y="226.8" width="1" height="1" fill="rgb(91,91,91)"/><rect x="257.4" y="230.8" width="1" height="1" fill="rgb(155,155,155)"/><rect x="251.4" y="230.5" width="1" height="1" fill="rgb(85,85,85)"/><rect x="254.5" y="228.8" width="1" height="1" fill="rgb(87,87,87)"/><rect x="247.1" y="232.1" width="1" height="1" fill="rgb(152,152,152)"/><rect x="251.3" y="227.8" width="1" height="1" fill="rgb(117,117,117)"/><rect x="263.7" y="226.4" width="1" height="1" fill="rgb(96,96,96)"/><rect x="257.7" y="226.0" width="1" height="1" fill="rgb(149,149,149)"/><rect x="252.5" y="226.5" width="1" height="1" fill="rgb(112,112,112)"/><rect x="250.7" y="229.8" width="1" height="1" fill="rgb(164,164,164)"/><rect x="256.2" y="228.8" width="1" height="1" fill="rgb(101,101,101)"/><rect x="251.8" y="231.1" width="1" height="1" fill="rgb(83,83,83)"/><rect x="253.6" y="229.8" width="1" height="1" fill="rgb(108,108,108)"/><rect x="253.9" y="222.0" width="1" height="1" fill="rgb(110,110,110)"/><rect x="249.1" y="226.2" width="1" height="1" fill="rgb(80,80,80)"/><rect x="260.7" y="227.8" width="1" height="1" fill="rgb(127,127,127)"/><rect x="253.1" y="228.7" width="1" height="1" fill="rgb(136,136,136)"/><rect x="250.4" y="228.6" width="1" height="1" fill="rgb(151,151,151)"/><rect x="252.4" y="226.8" width="1" height="1" fill="rgb(95,95,95)"/><rect x="240.6" y="231.1" width="1" height="1" fill="rgb(109,109,109)"/><rect x="251.3" y="228.8" width="1" height="1" fill="rgb(104,104,104)"/><rect x="257.7" y="228.2" width="1" height="1" fill="rgb(140,140,140)"/><rect x="253.3" y="230.7" width="1" height="1" fill="rgb(87,87,87)"/><rect x="256.5" y="228.2" width="1" height="1" fill="rgb(107,107,107)"/><rect x="242.7" y="227.7" width="1" height="1" fill="rgb(128,128,128)"/><rect x="263.2" y="230.6" width="1" height="1" fill="rgb(147,147,147)"/><rect x="259.3" y="228.0" width="1" height="1" fill="rgb(145,145,145)"/><rect x="255.5" y="225.9" width="1" height="1" fill="rgb(90,90,90)"/><rect x="246.9" y="229.7" width="1" height="1" fill="rgb(138,138,138)"/><rect x="253.6" y="226.3" width="1" height="1" fill="rgb(137,137,137)"/><rect x="251.3" y="227.3" width="1" height="1" fill="rgb(115,115,115)"/><rect x="250.3" y="226.1" width="1" height="1" fill="rgb(95,95,95)"/><rect x="251.2" y="225.1" width="1" height="1" fill="rgb(112,112,112)"/><rect x="253.3" y="228.3" width="1" height="1" fill="rgb(163,163,163)"/><rect x="257.5" y="221.1" width="1" height="1" fill="rgb(162,162,162)"/><rect x="244.1" y="230.7" width="1" height="1" fill="rgb(148,148,148)"/><rect x="247.4" y="225.0" width="1" height="1" fill="rgb(165,165,165)"/><rect x="246.7" y="226.6" width="1" height="1" fill="rgb(98,98,98)"/><rect x="244.3" y="233.8" width="1" height="1" fill="rgb(121,121,121)"/><rect x="252.3" y="222.2" width="1" height="1" fill="rgb(127,127,127)"/><rect x="248.6" y="225.3" width="1" height="1" fill="rgb(169,169,169)"/><rect x="229.4" y="237.7" width="1" height="1" fill="rgb(140,140,140)"/><rect x="215.0" y="234.0" width="1" height="1" fill="rgb(166,166,166)"/><rect x="224.4" y="232.0" width="1" height="1" fill="rgb(154,154,154)"/><rect x="226.0" y="235.1" width="1" height="1" fill="rgb(155,155,155)"/><rect x="234.6" y="229.1" width="1" height="1" fill="rgb(216,216,216)"/><rect x="231.4" y="235.1" width="1" height="1" fill="rgb(191,191,191)"/><rect x="228.8" y="236.7" width="1" height="1" fill="rgb(195,195,195)"/><rect x="235.0" y="224.4" width="1" height="1" fill="rgb(216,216,216)"/><rect x="237.7" y="230.6" width="1" height="1" fill="rgb(157,157,157)"/><rect x="230.8" y="236.3" width="1" height="1" fill="rgb(169,169,169)"/><rect x="235.7" y="231.0" width="1" height="1" fill="rgb(158,158,158)"/><rect x="239.6" y="229.7" width="1" height="1" fill="rgb(134,134,134)"/><rect x="222.6" y="233.5" width="1" height="1" fill="rgb(215,215,215)"/><rect x="225.7" y="224.7" width="1" height="1" fill="rgb(150,150,150)"/><rect x="229.0" y="240.5" width="1" height="1" fill="rgb(149,149,149)"/><rect x="223.8" y="228.6" width="1" height="1" fill="rgb(188,188,188)"/><rect x="219.3" y="232.0" width="1" height="1" fill="rgb(179,179,179)"/><rect x="231.4" y="233.8" width="1" height="1" fill="rgb(145,145,145)"/><rect x="226.9" y="236.1" width="1" height="1" fill="rgb(147,147,147)"/><rect x="231.8" y="231.0" width="1" height="1" fill="rgb(171,171,171)"/><rect x="229.8" y="229.9" width="1" height="1" fill="rgb(159,159,159)"/><rect x="225.5" y="232.0" width="1" height="1" fill="rgb(187,187,187)"/><rect x="229.3" y="227.3" width="1" height="1" fill="rgb(202,202,202)"/><rect x="220.7" y="222.6" width="1" height="1" fill="rgb(164,164,164)"/><rect x="238.8" y="229.4" width="1" height="1" fill="rgb(142,142,142)"/><rect x="242.7" y="234.5" width="1" height="1" fill="rgb(143,143,143)"/><rect x="242.8" y="228.8" width="1" height="1" fill="rgb(139,139,139)"/><rect x="223.6" y="243.7" width="1" height="1" fill="rgb(147,147,147)"/><rect x="220.5" y="234.0" width="1" height="1" fill="rgb(168,168,168)"/><rect x="231.6" y="224.2" width="1" height="1" fill="rgb(195,195,195)"/><rect x="221.4" y="228.3" width="1" height="1" fill="rgb(193,193,193)"/><rect x="222.9" y="225.4" width="1" height="1" fill="rgb(177,177,177)"/><rect x="242.4" y="223.4" width="1" height="1" fill="rgb(154,154,154)"/><rect x="219.4" y="233.6" width="1" height="1" fill="rgb(162,162,162)"/><rect x="224.0" y="229.6" width="1" height="1" fill="rgb(218,218,218)"/><rect x="237.7" y="229.1" width="1" height="1" fill="rgb(182,182,182)"/><rect x="222.3" y="235.5" width="1" height="1" fill="rgb(216,216,216)"/><rect x="232.8" y="224.0" width="1" height="1" fill="rgb(137,137,137)"/><rect x="222.4" y="227.0" width="1" height="1" fill="rgb(216,216,216)"/><rect x="220.6" y="240.9" width="1" height="1" fill="rgb(186,186,186)"/><rect x="217.6" y="232.2" width="1" height="1" fill="rgb(220,220,220)"/><rect x="242.1" y="228.1" width="1" height="1" fill="rgb(189,189,189)"/><rect x="239.9" y="228.7" width="1" height="1" fill="rgb(159,159,159)"/><rect x="231.0" y="230.7" width="1" height="1" fill="rgb(156,156,156)"/><rect x="221.2" y="229.7" width="1" height="1" fill="rgb(147,147,147)"/><rect x="232.1" y="228.9" width="1" height="1" fill="rgb(220,220,220)"/><rect x="221.4" y="236.7" width="1" height="1" fill="rgb(176,176,176)"/><rect x="231.5" y="233.5" width="1" height="1" fill="rgb(157,157,157)"/><rect x="230.5" y="229.3" width="1" height="1" fill="rgb(195,195,195)"/><rect x="232.7" y="234.8" width="1" height="1" fill="rgb(183,183,183)"/><rect x="248.6" y="248.5" width="1" height="1" fill="rgb(208,208,208)"/><rect x="258.1" y="250.7" width="1" height="1" fill="rgb(195,195,195)"/><rect x="247.3" y="260.0" width="1" height="1" fill="rgb(190,190,190)"/><rect x="254.6" y="258.1" width="1" height="1" fill="rgb(152,152,152)"/><rect x="248.1" y="245.2" width="1" height="1" fill="rgb(200,200,200)"/><rect x="243.2" y="262.4" width="1" height="1" fill="rgb(187,187,187)"/><rect x="255.7" y="246.8" width="1" height="1" fill="rgb(231,231,231)"/><rect x="252.1" y="259.7" width="1" height="1" fill="rgb(175,175,175)"/><rect x="245.4" y="260.1" width="1" height="1" fill="rgb(233,233,233)"/><rect x="251.7" y="262.3" width="1" height="1" fill="rgb(226,226,226)"/><rect x="244.9" y="255.1" width="1" height="1" fill="rgb(225,225,225)"/><rect x="262.2" y="256.0" width="1" height="1" fill="rgb(226,226,226)"/><rect x="244.2" y="251.3" width="1" height="1" fill="rgb(184,184,184)"/><rect x="260.8" y="254.6" width="1" height="1" fill="rgb(172,172,172)"/><rect x="255.2" y="254.9" width="1" height="1" fill="rgb(172,172,172)"/><rect x="252.5" y="256.9" width="1" height="1" fill="rgb(180,180,180)"/><rect x="254.4" y="253.3" width="1" height="1" fill="rgb(161,161,161)"/><rect x="254.8" y="252.5" width="1" height="1" fill="rgb(192,192,192)"/><rect x="256.1" y="255.1" width="1" height="1" fill="rgb(187,187,187)"/><rect x="247.0" y="255.8" width="1" height="1" fill="rgb(183,183,183)"/><rect x="246.3" y="262.9" width="1" height="1" fill="rgb(183,183,183)"/><rect x="253.1" y="254.9" width="1" height="1" fill="rgb(229,229,229)"/><rect x="264.8" y="257.4" width="1" height="1" fill="rgb(166,166,166)"/><rect x="254.1" y="245.2" width="1" height="1" fill="rgb(193,193,193)"/><rect x="249.2" y="253.0" width="1" height="1" fill="rgb(227,227,227)"/>
<rect x="198.50" y="209.50" width="90.00" height="74.00" stroke="#444" stroke-width="1" fill="none"/>
<path d="M198.10,283.80v2.2M198.10,283.80h-2.2M204.87,283.80v1.2M198.10,278.20h-1.2M208.82,283.80v1.2M198.10,274.93h-1.2M211.63,283.80v1.2M198.10,272.60h-1.2M213.81,283.80v1.2M198.10,270.80h-1.2M215.59,283.80v1.2M198.10,269.33h-1.2M217.09,283.80v1.2M198.10,268.08h-1.2M218.40,283.80v1.2M198.10,267.00h-1.2M219.55,283.80v1.2M198.10,266.05h-1.2M220.57,283.80v2.2M198.10,265.20h-2.2M227.34,283.80v1.2M198.10,259.60h-1.2M231.30,283.80v1.2M198.10,256.33h-1.2M234.11,283.80v1.2M198.10,254.00h-1.2M236.28,283.80v1.2M198.10,252.20h-1.2M238.06,283.80v1.2M198.10,250.73h-1.2M239.57,283.80v1.2M198.10,249.48h-1.2M240.87,283.80v1.2M198.10,248.40h-1.2M242.02,283.80v1.2M198.10,247.45h-1.2M243.05,283.80v2.2M198.10,246.60h-2.2M249.82,283.80v1.2M198.10,241.00h-1.2M253.77,283.80v1.2M198.10,237.73h-1.2M256.58,283.80v1.2M198.10,235.40h-1.2M258.76,283.80v1.2M198.10,233.60h-1.2M260.54,283.80v1.2M198.10,232.13h-1.2M262.04,283.80v1.2M198.10,230.88h-1.2M263.35,283.80v1.2M198.10,229.80h-1.2M264.50,283.80v1.2M198.10,228.85h-1.2M265.52,283.80v2.2M198.10,228.00h-2.2M272.29,283.80v1.2M198.10,222.40h-1.2M276.25,283.80v1.2M198.10,219.13h-1.2M279.06,283.80v1.2M198.10,216.80h-1.2M281.23,283.80v1.2M198.10,215.00h-1.2M283.01,283.80v1.2M198.10,213.53h-1.2M284.52,283.80v1.2M198.10,212.28h-1.2M285.82,283.80v1.2M198.10,211.20h-1.2M286.97,283.80v1.2M198.10,210.25h-1.2M288.00,283.80v2.2M198.10,209.40h-2.2" stroke="#444" stroke-width="0.8" fill="none"/>
<text x="195.10" y="292.30" font-size="5.2" fill="#444" textLength="5.5" lengthAdjust="spacingAndGlyphs">10</text><text x="200.80" y="289.30" font-size="4.2" fill="#444">0</text>
<g transform="translate(193.60 286.80) rotate(-90)"><text x="0" y="0" font-size="5.2" fill="#444" textLength="5.5" lengthAdjust="spacingAndGlyphs">10</text><text x="5.7" y="-3" font-size="4.2" fill="#444">0</text></g>
<text x="217.57" y="292.30" font-size="5.2" fill="#444" textLength="5.5" lengthAdjust="spacingAndGlyphs">10</text><text x="223.27" y="289.30" font-size="4.2" fill="#444">1</text>
<g transform="translate(193.60 268.20) rotate(-90)"><text x="0" y="0" font-size="5.2" fill="#444" textLength="5.5" lengthAdjust="spacingAndGlyphs">10</text><text x="5.7" y="-3" font-size="4.2" fill="#444">1</text></g>
<text x="240.05" y="292.30" font-size="5.2" fill="#444" textLength="5.5" lengthAdjust="spacingAndGlyphs">10</text><text x="245.75" y="289.30" font-size="4.2" fill="#444">2</text>
<g transform="translate(193.60 249.60) rotate(-90)"><text x="0" y="0" font-size="5.2" fill="#444" textLength="5.5" lengthAdjust="spacingAndGlyphs">10</text><text x="5.7" y="-3" font-size="4.2" fill="#444">2</text></g>
<text x="262.52" y="292.30" font-size="5.2" fill="#444" textLength="5.5" lengthAdjust="spacingAndGlyphs">10</text><text x="268.22" y="289.30" font-size="4.2" fill="#444">3</text>
<g transform="translate(193.60 231.00) rotate(-90)"><text x="0" y="0" font-size="5.2" fill="#444" textLength="5.5" lengthAdjust="spacingAndGlyphs">10</text><text x="5.7" y="-3" font-size="4.2" fill="#444">3</text></g>
<text x="285.00" y="292.30" font-size="5.2" fill="#444" textLength="5.5" lengthAdjust="spacingAndGlyphs">10</text><text x="290.70" y="289.30" font-size="4.2" fill="#444">4</text>
<g transform="translate(193.60 212.40) rotate(-90)"><text x="0" y="0" font-size="5.2" fill="#444" textLength="5.5" lengthAdjust="spacingAndGlyphs">10</text><text x="5.7" y="-3" font-size="4.2" fill="#444">4</text></g>
<line x1="242.50" y1="209.40" x2="242.50" y2="283.80" stroke="#444" stroke-width="1"/>
<line x1="198.10" y1="245.50" x2="288.00" y2="245.50" stroke="#444" stroke-width="1"/>
<text x="226.30" y="206.50" font-size="6" text-anchor="start" font-weight="normal" fill="#222" textLength="25" lengthAdjust="spacingAndGlyphs">FTOC A 003</text>
<text x="200.30" y="220.40" font-size="11" text-anchor="start" font-weight="normal" fill="#151515" stroke="#151515" stroke-width="0.3">13.5</text>
<text x="287.60" y="219.00" font-size="11" text-anchor="end" font-weight="normal" fill="#151515" stroke="#151515" stroke-width="0.3">33.8</text>
<text x="199.00" y="282.40" font-size="11" text-anchor="start" font-weight="normal" fill="#151515" stroke="#151515" stroke-width="0.3">48.1</text>
<text x="285.60" y="282.40" font-size="11" text-anchor="end" font-weight="normal" fill="#151515" stroke="#151515" stroke-width="0.3">4.5</text>
<text x="187.80" y="249.80" font-size="13" text-anchor="middle" font-weight="normal" fill="#151515" stroke="#151515" stroke-width="0.3" transform="rotate(-90 187.8 249.8)">CD4</text>
<text x="228.00" y="306.90" font-size="13" text-anchor="start" font-weight="normal" fill="#151515" stroke="#151515" stroke-width="0.3">CD8</text>
<rect x="399.4" y="259.8" width="1" height="1" fill="rgb(66,66,66)"/><rect x="393.1" y="257.4" width="1" height="1" fill="rgb(114,114,114)"/><rect x="386.4" y="276.8" width="1" height="1" fill="rgb(89,89,89)"/><rect x="392.2" y="269.4" width="1" height="1" fill="rgb(120,120,120)"/><rect x="399.1" y="266.5" width="1" height="1" fill="rgb(84,84,84)"/><rect x="394.6" y="260.6" width="1" height="1" fill="rgb(119,119,119)"/><rect x="394.0" y="262.8" width="1" height="1" fill="rgb(71,71,71)"/><rect x="395.8" y="260.0" width="1" height="1" fill="rgb(115,115,115)"/><rect x="395.3" y="267.9" width="1" height="1" fill="rgb(134,134,134)"/><rect x="395.2" y="274.8" width="1" height="1" fill="rgb(118,118,118)"/><rect x="393.2" y="270.7" width="1" height="1" fill="rgb(114,114,114)"/><rect x="388.1" y="269.8" width="1" height="1" fill="rgb(67,67,67)"/><rect x="401.7" y="262.5" width="1" height="1" fill="rgb(88,88,88)"/><rect x="389.2" y="269.4" width="1" height="1" fill="rgb(148,148,148)"/><rect x="389.6" y="270.3" width="1" height="1" fill="rgb(83,83,83)"/><rect x="394.3" y="270.2" width="1" height="1" fill="rgb(144,144,144)"/><rect x="395.3" y="263.8" width="1" height="1" fill="rgb(67,67,67)"/><rect x="394.4" y="274.5" width="1" height="1" fill="rgb(150,150,150)"/><rect x="390.1" y="256.7" width="1" height="1" fill="rgb(99,99,99)"/><rect x="387.7" y="274.4" width="1" height="1" fill="rgb(99,99,99)"/><rect x="400.1" y="264.4" width="1" height="1" fill="rgb(71,71,71)"/><rect x="391.7" y="272.2" width="1" height="1" fill="rgb(90,90,90)"/><rect x="400.4" y="271.2" width="1" height="1" fill="rgb(91,91,91)"/><rect x="389.5" y="270.3" width="1" height="1" fill="rgb(75,75,75)"/><rect x="394.9" y="257.9" width="1" height="1" fill="rgb(106,106,106)"/><rect x="390.5" y="263.5" width="1" height="1" fill="rgb(99,99,99)"/><rect x="393.4" y="264.4" width="1" height="1" fill="rgb(68,68,68)"/><rect x="388.8" y="266.2" width="1" height="1" fill="rgb(68,68,68)"/><rect x="392.9" y="274.5" width="1" height="1" fill="rgb(88,88,88)"/><rect x="382.8" y="277.2" width="1" height="1" fill="rgb(113,113,113)"/><rect x="393.7" y="261.7" width="1" height="1" fill="rgb(117,117,117)"/><rect x="394.6" y="258.0" width="1" height="1" fill="rgb(100,100,100)"/><rect x="391.1" y="266.7" width="1" height="1" fill="rgb(118,118,118)"/><rect x="403.6" y="265.5" width="1" height="1" fill="rgb(77,77,77)"/><rect x="408.1" y="259.7" width="1" height="1" fill="rgb(131,131,131)"/><rect x="397.2" y="268.1" width="1" height="1" fill="rgb(139,139,139)"/><rect x="400.9" y="263.1" width="1" height="1" fill="rgb(144,144,144)"/><rect x="393.8" y="261.1" width="1" height="1" fill="rgb(70,70,70)"/><rect x="398.2" y="269.5" width="1" height="1" fill="rgb(66,66,66)"/><rect x="404.8" y="260.9" width="1" height="1" fill="rgb(145,145,145)"/><rect x="394.7" y="267.6" width="1" height="1" fill="rgb(69,69,69)"/><rect x="388.9" y="278.3" width="1" height="1" fill="rgb(137,137,137)"/><rect x="394.7" y="263.2" width="1" height="1" fill="rgb(82,82,82)"/><rect x="385.4" y="278.2" width="1" height="1" fill="rgb(150,150,150)"/><rect x="391.5" y="270.2" width="1" height="1" fill="rgb(91,91,91)"/><rect x="386.3" y="273.4" width="1" height="1" fill="rgb(71,71,71)"/><rect x="392.5" y="275.6" width="1" height="1" fill="rgb(109,109,109)"/><rect x="379.4" y="278.6" width="1" height="1" fill="rgb(137,137,137)"/><rect x="396.5" y="256.8" width="1" height="1" fill="rgb(110,110,110)"/><rect x="391.1" y="260.4" width="1" height="1" fill="rgb(76,76,76)"/><rect x="392.9" y="255.9" width="1" height="1" fill="rgb(122,122,122)"/><rect x="400.9" y="267.2" width="1" height="1" fill="rgb(103,103,103)"/><rect x="393.4" y="265.6" width="1" height="1" fill="rgb(125,125,125)"/><rect x="376.5" y="281.5" width="1" height="1" fill="rgb(79,79,79)"/><rect x="400.5" y="260.7" width="1" height="1" fill="rgb(100,100,100)"/><rect x="397.2" y="271.3" width="1" height="1" fill="rgb(103,103,103)"/><rect x="389.7" y="262.6" width="1" height="1" fill="rgb(67,67,67)"/><rect x="397.8" y="254.7" width="1" height="1" fill="rgb(133,133,133)"/><rect x="387.6" y="278.1" width="1" height="1" fill="rgb(92,92,92)"/><rect x="383.8" y="266.8" width="1" height="1" fill="rgb(101,101,101)"/><rect x="393.7" y="270.9" width="1" height="1" fill="rgb(94,94,94)"/><rect x="397.4" y="262.6" width="1" height="1" fill="rgb(139,139,139)"/><rect x="389.8" y="273.2" width="1" height="1" fill="rgb(74,74,74)"/><rect x="393.8" y="266.1" width="1" height="1" fill="rgb(146,146,146)"/><rect x="386.4" y="275.4" width="1" height="1" fill="rgb(132,132,132)"/><rect x="393.1" y="263.2" width="1" height="1" fill="rgb(142,142,142)"/><rect x="398.6" y="248.7" width="1" height="1" fill="rgb(81,81,81)"/><rect x="393.3" y="257.6" width="1" height="1" fill="rgb(92,92,92)"/><rect x="388.1" y="270.3" width="1" height="1" fill="rgb(115,115,115)"/><rect x="394.6" y="263.6" width="1" height="1" fill="rgb(129,129,129)"/><rect x="391.1" y="261.1" width="1" height="1" fill="rgb(67,67,67)"/><rect x="387.0" y="279.1" width="1" height="1" fill="rgb(100,100,100)"/><rect x="395.2" y="263.6" width="1" height="1" fill="rgb(146,146,146)"/><rect x="381.3" y="272.3" width="1" height="1" fill="rgb(130,130,130)"/><rect x="406.2" y="256.2" width="1" height="1" fill="rgb(120,120,120)"/><rect x="395.0" y="257.1" width="1" height="1" fill="rgb(87,87,87)"/><rect x="392.3" y="262.8" width="1" height="1" fill="rgb(68,68,68)"/><rect x="397.0" y="266.9" width="1" height="1" fill="rgb(63,63,63)"/><rect x="394.0" y="265.6" width="1" height="1" fill="rgb(107,107,107)"/><rect x="394.9" y="266.5" width="1" height="1" fill="rgb(66,66,66)"/><rect x="394.9" y="270.9" width="1" height="1" fill="rgb(111,111,111)"/><rect x="390.7" y="273.9" width="1" height="1" fill="rgb(108,108,108)"/><rect x="390.1" y="275.6" width="1" height="1" fill="rgb(133,133,133)"/><rect x="381.4" y="277.1" width="1" height="1" fill="rgb(99,99,99)"/><rect x="392.6" y="262.6" width="1" height="1" fill="rgb(73,73,73)"/><rect x="377.4" y="267.6" width="1" height="1" fill="rgb(126,126,126)"/><rect x="398.4" y="265.5" width="1" height="1" fill="rgb(61,61,61)"/><rect x="399.0" y="257.8" width="1" height="1" fill="rgb(86,86,86)"/><rect x="394.8" y="271.8" width="1" height="1" fill="rgb(144,144,144)"/><rect x="392.1" y="265.2" width="1" height="1" fill="rgb(132,132,132)"/><rect x="400.2" y="263.4" width="1" height="1" fill="rgb(115,115,115)"/><rect x="395.9" y="265.4" width="1" height="1" fill="rgb(71,71,71)"/><rect x="394.8" y="269.5" width="1" height="1" fill="rgb(125,125,125)"/><rect x="394.2" y="261.6" width="1" height="1" fill="rgb(88,88,88)"/><rect x="395.0" y="259.0" width="1" height="1" fill="rgb(67,67,67)"/><rect x="395.2" y="275.6" width="1" height="1" fill="rgb(115,115,115)"/><rect x="397.3" y="270.0" width="1" height="1" fill="rgb(69,69,69)"/><rect x="396.3" y="263.2" width="1" height="1" fill="rgb(98,98,98)"/><rect x="399.6" y="262.1" width="1" height="1" fill="rgb(83,83,83)"/><rect x="383.8" y="273.9" width="1" height="1" fill="rgb(61,61,61)"/><rect x="391.5" y="265.6" width="1" height="1" fill="rgb(108,108,108)"/><rect x="400.1" y="262.1" width="1" height="1" fill="rgb(81,81,81)"/><rect x="397.9" y="273.6" width="1" height="1" fill="rgb(130,130,130)"/><rect x="394.9" y="263.9" width="1" height="1" fill="rgb(132,132,132)"/><rect x="384.9" y="281.3" width="1" height="1" fill="rgb(86,86,86)"/><rect x="381.2" y="275.0" width="1" height="1" fill="rgb(87,87,87)"/><rect x="380.3" y="275.1" width="1" height="1" fill="rgb(131,131,131)"/><rect x="393.7" y="269.3" width="1" height="1" fill="rgb(116,116,116)"/><rect x="394.9" y="260.7" width="1" height="1" fill="rgb(137,137,137)"/><rect x="390.1" y="262.7" width="1" height="1" fill="rgb(89,89,89)"/><rect x="387.2" y="273.9" width="1" height="1" fill="rgb(119,119,119)"/><rect x="401.9" y="263.6" width="1" height="1" fill="rgb(103,103,103)"/><rect x="395.7" y="263.4" width="1" height="1" fill="rgb(90,90,90)"/><rect x="389.1" y="268.8" width="1" height="1" fill="rgb(82,82,82)"/><rect x="393.4" y="269.8" width="1" height="1" fill="rgb(85,85,85)"/><rect x="401.7" y="259.7" width="1" height="1" fill="rgb(74,74,74)"/><rect x="393.0" y="259.1" width="1" height="1" fill="rgb(150,150,150)"/><rect x="395.2" y="274.7" width="1" height="1" fill="rgb(114,114,114)"/><rect x="394.6" y="265.1" width="1" height="1" fill="rgb(60,60,60)"/><rect x="390.8" y="269.3" width="1" height="1" fill="rgb(68,68,68)"/><rect x="398.6" y="259.2" width="1" height="1" fill="rgb(113,113,113)"/><rect x="396.8" y="268.6" width="1" height="1" fill="rgb(141,141,141)"/><rect x="394.4" y="272.1" width="1" height="1" fill="rgb(112,112,112)"/><rect x="393.4" y="263.0" width="1" height="1" fill="rgb(85,85,85)"/><rect x="394.6" y="275.9" width="1" height="1" fill="rgb(105,105,105)"/><rect x="389.6" y="266.5" width="1" height="1" fill="rgb(80,80,80)"/><rect x="389.0" y="265.7" width="1" height="1" fill="rgb(78,78,78)"/><rect x="394.7" y="269.9" width="1" height="1" fill="rgb(124,124,124)"/><rect x="391.4" y="273.1" width="1" height="1" fill="rgb(116,116,116)"/><rect x="393.9" y="259.7" width="1" height="1" fill="rgb(120,120,120)"/><rect x="398.8" y="261.0" width="1" height="1" fill="rgb(85,85,85)"/><rect x="386.5" y="272.6" width="1" height="1" fill="rgb(124,124,124)"/><rect x="394.0" y="268.0" width="1" height="1" fill="rgb(149,149,149)"/><rect x="391.4" y="269.4" width="1" height="1" fill="rgb(72,72,72)"/><rect x="389.5" y="273.6" width="1" height="1" fill="rgb(105,105,105)"/><rect x="390.1" y="259.9" width="1" height="1" fill="rgb(142,142,142)"/><rect x="399.3" y="270.7" width="1" height="1" fill="rgb(133,133,133)"/><rect x="391.5" y="267.6" width="1" height="1" fill="rgb(121,121,121)"/><rect x="388.3" y="275.9" width="1" height="1" fill="rgb(146,146,146)"/><rect x="388.2" y="273.4" width="1" height="1" fill="rgb(98,98,98)"/><rect x="397.4" y="269.9" width="1" height="1" fill="rgb(60,60,60)"/><rect x="395.9" y="264.1" width="1" height="1" fill="rgb(106,106,106)"/><rect x="390.6" y="264.2" width="1" height="1" fill="rgb(101,101,101)"/><rect x="386.0" y="267.9" width="1" height="1" fill="rgb(103,103,103)"/><rect x="394.0" y="263.5" width="1" height="1" fill="rgb(130,130,130)"/><rect x="390.1" y="270.8" width="1" height="1" fill="rgb(74,74,74)"/><rect x="400.8" y="269.7" width="1" height="1" fill="rgb(63,63,63)"/><rect x="385.6" y="266.1" width="1" height="1" fill="rgb(116,116,116)"/><rect x="387.8" y="270.8" width="1" height="1" fill="rgb(62,62,62)"/><rect x="389.0" y="274.8" width="1" height="1" fill="rgb(101,101,101)"/><rect x="389.0" y="265.4" width="1" height="1" fill="rgb(102,102,102)"/><rect x="392.8" y="274.0" width="1" height="1" fill="rgb(132,132,132)"/><rect x="394.0" y="262.5" width="1" height="1" fill="rgb(107,107,107)"/><rect x="393.6" y="264.8" width="1" height="1" fill="rgb(140,140,140)"/><rect x="388.7" y="269.0" width="1" height="1" fill="rgb(102,102,102)"/><rect x="391.5" y="273.7" width="1" height="1" fill="rgb(148,148,148)"/><rect x="391.4" y="269.5" width="1" height="1" fill="rgb(86,86,86)"/><rect x="402.3" y="263.8" width="1" height="1" fill="rgb(78,78,78)"/><rect x="391.6" y="271.3" width="1" height="1" fill="rgb(115,115,115)"/><rect x="392.2" y="275.6" width="1" height="1" fill="rgb(73,73,73)"/><rect x="410.0" y="245.9" width="1" height="1" fill="rgb(161,161,161)"/><rect x="398.8" y="244.4" width="1" height="1" fill="rgb(174,174,174)"/><rect x="409.4" y="252.9" width="1" height="1" fill="rgb(199,199,199)"/><rect x="385.6" y="256.6" width="1" height="1" fill="rgb(235,235,235)"/><rect x="398.3" y="236.5" width="1" height="1" fill="rgb(188,188,188)"/><rect x="401.3" y="250.8" width="1" height="1" fill="rgb(165,165,165)"/><rect x="406.6" y="252.2" width="1" height="1" fill="rgb(235,235,235)"/><rect x="394.7" y="246.4" width="1" height="1" fill="rgb(170,170,170)"/><rect x="403.2" y="254.1" width="1" height="1" fill="rgb(195,195,195)"/><rect x="385.6" y="226.6" width="1" height="1" fill="rgb(196,196,196)"/><rect x="412.3" y="263.6" width="1" height="1" fill="rgb(191,191,191)"/><rect x="392.1" y="254.8" width="1" height="1" fill="rgb(179,179,179)"/><rect x="395.8" y="250.2" width="1" height="1" fill="rgb(235,235,235)"/><rect x="396.3" y="244.0" width="1" height="1" fill="rgb(173,173,173)"/><rect x="411.9" y="238.9" width="1" height="1" fill="rgb(230,230,230)"/><rect x="397.7" y="246.5" width="1" height="1" fill="rgb(217,217,217)"/><rect x="382.4" y="234.9" width="1" height="1" fill="rgb(206,206,206)"/><rect x="378.1" y="243.9" width="1" height="1" fill="rgb(151,151,151)"/><rect x="378.3" y="256.2" width="1" height="1" fill="rgb(226,226,226)"/><rect x="388.2" y="239.1" width="1" height="1" fill="rgb(215,215,215)"/><rect x="416.6" y="243.1" width="1" height="1" fill="rgb(221,221,221)"/><rect x="386.3" y="248.8" width="1" height="1" fill="rgb(235,235,235)"/><rect x="386.6" y="260.3" width="1" height="1" fill="rgb(150,150,150)"/><rect x="375.4" y="250.0" width="1" height="1" fill="rgb(235,235,235)"/><rect x="396.9" y="249.9" width="1" height="1" fill="rgb(196,196,196)"/><rect x="385.2" y="257.6" width="1" height="1" fill="rgb(222,222,222)"/><rect x="387.2" y="260.1" width="1" height="1" fill="rgb(192,192,192)"/><rect x="422.2" y="243.8" width="1" height="1" fill="rgb(228,228,228)"/><rect x="409.2" y="268.0" width="1" height="1" fill="rgb(174,174,174)"/><rect x="395.4" y="271.5" width="1" height="1" fill="rgb(235,235,235)"/><rect x="402.4" y="232.0" width="1" height="1" fill="rgb(224,224,224)"/><rect x="394.7" y="241.9" width="1" height="1" fill="rgb(221,221,221)"/><rect x="396.9" y="263.7" width="1" height="1" fill="rgb(170,170,170)"/><rect x="386.8" y="244.4" width="1" height="1" fill="rgb(185,185,185)"/><rect x="416.9" y="226.7" width="1" height="1" fill="rgb(212,212,212)"/><rect x="413.2" y="242.9" width="1" height="1" fill="rgb(169,169,169)"/><rect x="394.3" y="251.8" width="1" height="1" fill="rgb(203,203,203)"/><rect x="409.1" y="242.7" width="1" height="1" fill="rgb(204,204,204)"/><rect x="397.7" y="249.1" width="1" height="1" fill="rgb(225,225,225)"/><rect x="398.8" y="245.4" width="1" height="1" fill="rgb(185,185,185)"/><rect x="432.8" y="224.2" width="1" height="1" fill="rgb(135,135,135)"/><rect x="418.0" y="233.3" width="1" height="1" fill="rgb(112,112,112)"/><rect x="432.7" y="229.4" width="1" height="1" fill="rgb(127,127,127)"/><rect x="432.7" y="229.9" width="1" height="1" fill="rgb(118,118,118)"/><rect x="428.9" y="233.5" width="1" height="1" fill="rgb(115,115,115)"/><rect x="427.8" y="226.5" width="1" height="1" fill="rgb(145,145,145)"/><rect x="446.7" y="219.8" width="1" height="1" fill="rgb(134,134,134)"/><rect x="428.1" y="223.4" width="1" height="1" fill="rgb(162,162,162)"/><rect x="427.4" y="225.1" width="1" height="1" fill="rgb(120,120,120)"/><rect x="415.1" y="237.0" width="1" height="1" fill="rgb(140,140,140)"/><rect x="428.8" y="228.3" width="1" height="1" fill="rgb(98,98,98)"/><rect x="428.9" y="225.8" width="1" height="1" fill="rgb(157,157,157)"/><rect x="434.5" y="226.8" width="1" height="1" fill="rgb(96,96,96)"/><rect x="420.0" y="236.2" width="1" height="1" fill="rgb(111,111,111)"/><rect x="426.6" y="233.3" width="1" height="1" fill="rgb(136,136,136)"/><rect x="424.5" y="229.8" width="1" height="1" fill="rgb(84,84,84)"/><rect x="428.8" y="233.2" width="1" height="1" fill="rgb(90,90,90)"/><rect x="426.3" y="226.0" width="1" height="1" fill="rgb(157,157,157)"/><rect x="428.3" y="230.4" width="1" height="1" fill="rgb(95,95,95)"/><rect x="420.0" y="225.5" width="1" height="1" fill="rgb(113,113,113)"/><rect x="425.1" y="231.3" width="1" height="1" fill="rgb(108,108,108)"/><rect x="416.6" y="232.6" width="1" height="1" fill="rgb(112,112,112)"/><rect x="426.9" y="230.3" width="1" height="1" fill="rgb(100,100,100)"/><rect x="433.9" y="224.6" width="1" height="1" fill="rgb(88,88,88)"/><rect x="422.0" y="227.1" width="1" height="1" fill="rgb(136,136,136)"/><rect x="428.5" y="232.2" width="1" height="1" fill="rgb(140,140,140)"/><rect x="430.1" y="223.2" width="1" height="1" fill="rgb(129,129,129)"/><rect x="427.8" y="232.7" width="1" height="1" fill="rgb(147,147,147)"/><rect x="440.2" y="223.8" width="1" height="1" fill="rgb(100,100,100)"/><rect x="424.0" y="229.5" width="1" height="1" fill="rgb(120,120,120)"/><rect x="424.0" y="230.9" width="1" height="1" fill="rgb(97,97,97)"/><rect x="432.4" y="225.3" width="1" height="1" fill="rgb(114,114,114)"/><rect x="424.5" y="229.0" width="1" height="1" fill="rgb(143,143,143)"/><rect x="427.6" y="224.2" width="1" height="1" fill="rgb(100,100,100)"/><rect x="425.5" y="230.7" width="1" height="1" fill="rgb(128,128,128)"/><rect x="443.4" y="222.4" width="1" height="1" fill="rgb(97,97,97)"/><rect x="422.1" y="230.2" width="1" height="1" fill="rgb(122,122,122)"/><rect x="421.3" y="233.3" width="1" height="1" fill="rgb(120,120,120)"/><rect x="427.7" y="225.8" width="1" height="1" fill="rgb(138,138,138)"/><rect x="430.5" y="230.1" width="1" height="1" fill="rgb(160,160,160)"/><rect x="419.9" y="235.2" width="1" height="1" fill="rgb(167,167,167)"/><rect x="424.7" y="225.8" width="1" height="1" fill="rgb(161,161,161)"/><rect x="431.9" y="236.1" width="1" height="1" fill="rgb(165,165,165)"/><rect x="424.3" y="226.8" width="1" height="1" fill="rgb(157,157,157)"/><rect x="428.8" y="231.3" width="1" height="1" fill="rgb(170,170,170)"/><rect x="427.6" y="238.2" width="1" height="1" fill="rgb(88,88,88)"/><rect x="423.4" y="231.1" width="1" height="1" fill="rgb(89,89,89)"/><rect x="429.0" y="232.5" width="1" height="1" fill="rgb(95,95,95)"/><rect x="427.1" y="226.4" width="1" height="1" fill="rgb(94,94,94)"/><rect x="421.5" y="223.0" width="1" height="1" fill="rgb(104,104,104)"/><rect x="422.9" y="225.1" width="1" height="1" fill="rgb(80,80,80)"/><rect x="425.3" y="238.9" width="1" height="1" fill="rgb(91,91,91)"/><rect x="432.1" y="227.1" width="1" height="1" fill="rgb(152,152,152)"/><rect x="424.5" y="225.7" width="1" height="1" fill="rgb(124,124,124)"/><rect x="433.6" y="224.7" width="1" height="1" fill="rgb(103,103,103)"/><rect x="431.0" y="228.2" width="1" height="1" fill="rgb(102,102,102)"/><rect x="430.6" y="226.7" width="1" height="1" fill="rgb(106,106,106)"/><rect x="431.3" y="226.8" width="1" height="1" fill="rgb(145,145,145)"/><rect x="435.7" y="225.4" width="1" height="1" fill="rgb(129,129,129)"/><rect x="419.3" y="234.0" width="1" height="1" fill="rgb(88,88,88)"/><rect x="419.4" y="227.8" width="1" height="1" fill="rgb(134,134,134)"/><rect x="434.6" y="230.8" width="1" height="1" fill="rgb(114,114,114)"/><rect x="420.7" y="230.2" width="1" height="1" fill="rgb(164,164,164)"/><rect x="428.4" y="228.8" width="1" height="1" fill="rgb(86,86,86)"/><rect x="435.4" y="226.7" width="1" height="1" fill="rgb(163,163,163)"/><rect x="422.7" y="232.3" width="1" height="1" fill="rgb(126,126,126)"/><rect x="421.6" y="229.3" width="1" height="1" fill="rgb(127,127,127)"/><rect x="426.9" y="231.0" width="1" height="1" fill="rgb(100,100,100)"/><rect x="428.7" y="230.0" width="1" height="1" fill="rgb(95,95,95)"/><rect x="430.8" y="231.5" width="1" height="1" fill="rgb(153,153,153)"/><rect x="432.8" y="229.9" width="1" height="1" fill="rgb(139,139,139)"/><rect x="426.0" y="229.1" width="1" height="1" fill="rgb(87,87,87)"/><rect x="427.3" y="230.8" width="1" height="1" fill="rgb(80,80,80)"/><rect x="427.6" y="235.4" width="1" height="1" fill="rgb(110,110,110)"/><rect x="428.7" y="222.0" width="1" height="1" fill="rgb(155,155,155)"/><rect x="422.9" y="232.1" width="1" height="1" fill="rgb(85,85,85)"/><rect x="428.5" y="233.7" width="1" height="1" fill="rgb(86,86,86)"/><rect x="420.2" y="231.9" width="1" height="1" fill="rgb(84,84,84)"/><rect x="424.0" y="228.4" width="1" height="1" fill="rgb(88,88,88)"/><rect x="426.4" y="235.2" width="1" height="1" fill="rgb(91,91,91)"/><rect x="425.7" y="230.5" width="1" height="1" fill="rgb(119,119,119)"/><rect x="436.3" y="229.4" width="1" height="1" fill="rgb(137,137,137)"/><rect x="427.1" y="231.0" width="1" height="1" fill="rgb(119,119,119)"/><rect x="414.4" y="235.5" width="1" height="1" fill="rgb(93,93,93)"/><rect x="425.3" y="225.9" width="1" height="1" fill="rgb(101,101,101)"/><rect x="421.0" y="228.4" width="1" height="1" fill="rgb(162,162,162)"/><rect x="426.5" y="222.7" width="1" height="1" fill="rgb(87,87,87)"/><rect x="426.6" y="230.1" width="1" height="1" fill="rgb(86,86,86)"/><rect x="434.9" y="230.5" width="1" height="1" fill="rgb(104,104,104)"/><rect x="423.4" y="229.8" width="1" height="1" fill="rgb(165,165,165)"/><rect x="400.4" y="236.7" width="1" height="1" fill="rgb(188,188,188)"/><rect x="411.7" y="238.9" width="1" height="1" fill="rgb(130,130,130)"/><rect x="395.9" y="226.0" width="1" height="1" fill="rgb(142,142,142)"/><rect x="400.0" y="235.0" width="1" height="1" fill="rgb(217,217,217)"/><rect x="397.4" y="237.6" width="1" height="1" fill="rgb(161,161,161)"/><rect x="397.9" y="240.4" width="1" height="1" fill="rgb(158,158,158)"/><rect x="406.1" y="234.2" width="1" height="1" fill="rgb(185,185,185)"/><rect x="401.7" y="233.9" width="1" height="1" fill="rgb(137,137,137)"/><rect x="378.4" y="228.9" width="1" height="1" fill="rgb(210,210,210)"/><rect x="405.7" y="236.5" width="1" height="1" fill="rgb(192,192,192)"/><rect x="398.9" y="235.3" width="1" height="1" fill="rgb(193,193,193)"/><rect x="392.0" y="230.9" width="1" height="1" fill="rgb(138,138,138)"/><rect x="410.8" y="229.3" width="1" height="1" fill="rgb(190,190,190)"/><rect x="400.8" y="234.3" width="1" height="1" fill="rgb(185,185,185)"/><rect x="406.4" y="238.4" width="1" height="1" fill="rgb(219,219,219)"/><rect x="407.1" y="246.3" width="1" height="1" fill="rgb(135,135,135)"/><rect x="402.0" y="224.4" width="1" height="1" fill="rgb(139,139,139)"/><rect x="403.7" y="235.9" width="1" height="1" fill="rgb(136,136,136)"/><rect x="402.1" y="245.0" width="1" height="1" fill="rgb(164,164,164)"/><rect x="392.8" y="239.3" width="1" height="1" fill="rgb(176,176,176)"/><rect x="388.1" y="238.2" width="1" height="1" fill="rgb(150,150,150)"/><rect x="406.4" y="232.3" width="1" height="1" fill="rgb(130,130,130)"/><rect x="404.9" y="237.6" width="1" height="1" fill="rgb(185,185,185)"/><rect x="405.6" y="227.7" width="1" height="1" fill="rgb(149,149,149)"/><rect x="396.1" y="229.7" width="1" height="1" fill="rgb(144,144,144)"/><rect x="404.1" y="236.2" width="1" height="1" fill="rgb(215,215,215)"/><rect x="399.7" y="235.8" width="1" height="1" fill="rgb(175,175,175)"/><rect x="404.2" y="235.2" width="1" height="1" fill="rgb(205,205,205)"/><rect x="392.6" y="243.0" width="1" height="1" fill="rgb(201,201,201)"/><rect x="405.2" y="228.0" width="1" height="1" fill="rgb(212,212,212)"/><rect x="401.9" y="223.7" width="1" height="1" fill="rgb(198,198,198)"/><rect x="401.8" y="238.7" width="1" height="1" fill="rgb(191,191,191)"/><rect x="398.5" y="230.4" width="1" height="1" fill="rgb(175,175,175)"/><rect x="389.7" y="232.6" width="1" height="1" fill="rgb(158,158,158)"/><rect x="391.5" y="228.0" width="1" height="1" fill="rgb(146,146,146)"/><rect x="391.7" y="232.9" width="1" height="1" fill="rgb(215,215,215)"/><rect x="397.3" y="232.1" width="1" height="1" fill="rgb(167,167,167)"/><rect x="397.1" y="241.5" width="1" height="1" fill="rgb(220,220,220)"/><rect x="392.6" y="234.6" width="1" height="1" fill="rgb(190,190,190)"/><rect x="399.1" y="244.4" width="1" height="1" fill="rgb(195,195,195)"/><rect x="390.5" y="231.3" width="1" height="1" fill="rgb(167,167,167)"/><rect x="390.0" y="237.5" width="1" height="1" fill="rgb(162,162,162)"/><rect x="387.7" y="233.9" width="1" height="1" fill="rgb(157,157,157)"/><rect x="397.2" y="223.1" width="1" height="1" fill="rgb(220,220,220)"/><rect x="396.7" y="237.4" width="1" height="1" fill="rgb(176,176,176)"/><rect x="398.5" y="229.6" width="1" height="1" fill="rgb(159,159,159)"/><rect x="406.4" y="232.4" width="1" height="1" fill="rgb(216,216,216)"/><rect x="398.8" y="237.8" width="1" height="1" fill="rgb(132,132,132)"/><rect x="398.6" y="234.8" width="1" height="1" fill="rgb(176,176,176)"/><rect x="392.7" y="235.9" width="1" height="1" fill="rgb(207,207,207)"/><rect x="388.7" y="231.8" width="1" height="1" fill="rgb(169,169,169)"/><rect x="400.7" y="229.6" width="1" height="1" fill="rgb(173,173,173)"/><rect x="388.0" y="234.4" width="1" height="1" fill="rgb(153,153,153)"/><rect x="392.3" y="233.4" width="1" height="1" fill="rgb(164,164,164)"/><rect x="400.7" y="232.1" width="1" height="1" fill="rgb(146,146,146)"/><rect x="409.8" y="227.1" width="1" height="1" fill="rgb(186,186,186)"/><rect x="398.0" y="235.8" width="1" height="1" fill="rgb(149,149,149)"/><rect x="403.4" y="232.5" width="1" height="1" fill="rgb(150,150,150)"/><rect x="397.5" y="234.4" width="1" height="1" fill="rgb(216,216,216)"/><rect x="402.8" y="229.4" width="1" height="1" fill="rgb(152,152,152)"/><rect x="425.3" y="252.7" width="1" height="1" fill="rgb(174,174,174)"/><rect x="426.0" y="263.2" width="1" height="1" fill="rgb(215,215,215)"/><rect x="428.3" y="263.4" width="1" height="1" fill="rgb(206,206,206)"/><rect x="409.0" y="254.9" width="1" height="1" fill="rgb(182,182,182)"/><rect x="426.0" y="255.6" width="1" height="1" fill="rgb(173,173,173)"/><rect x="421.6" y="256.5" width="1" height="1" fill="rgb(197,197,197)"/><rect x="424.7" y="258.9" width="1" height="1" fill="rgb(166,166,166)"/><rect x="419.6" y="249.7" width="1" height="1" fill="rgb(174,174,174)"/><rect x="423.4" y="262.3" width="1" height="1" fill="rgb(223,223,223)"/><rect x="419.4" y="253.3" width="1" height="1" fill="rgb(175,175,175)"/><rect x="420.0" y="246.6" width="1" height="1" fill="rgb(180,180,180)"/><rect x="422.6" y="262.6" width="1" height="1" fill="rgb(223,223,223)"/><rect x="423.5" y="254.3" width="1" height="1" fill="rgb(223,223,223)"/><rect x="419.4" y="262.4" width="1" height="1" fill="rgb(227,227,227)"/><rect x="425.8" y="259.0" width="1" height="1" fill="rgb(180,180,180)"/><rect x="422.8" y="260.2" width="1" height="1" fill="rgb(203,203,203)"/><rect x="422.6" y="255.6" width="1" height="1" fill="rgb(179,179,179)"/><rect x="430.7" y="265.8" width="1" height="1" fill="rgb(180,180,180)"/><rect x="419.6" y="251.7" width="1" height="1" fill="rgb(192,192,192)"/><rect x="418.7" y="253.5" width="1" height="1" fill="rgb(154,154,154)"/>
<rect x="368.50" y="210.50" width="91.00" height="75.00" stroke="#444" stroke-width="1" fill="none"/>
<path d="M368.80,285.50v2.2M368.80,285.50h-2.2M375.60,285.50v1.2M368.80,279.83h-1.2M379.57,285.50v1.2M368.80,276.52h-1.2M382.39,285.50v1.2M368.80,274.17h-1.2M384.58,285.50v1.2M368.80,272.34h-1.2M386.37,285.50v1.2M368.80,270.85h-1.2M387.88,285.50v1.2M368.80,269.59h-1.2M389.19,285.50v1.2M368.80,268.50h-1.2M390.34,285.50v1.2M368.80,267.54h-1.2M391.38,285.50v2.2M368.80,266.68h-2.2M398.17,285.50v1.2M368.80,261.01h-1.2M402.15,285.50v1.2M368.80,257.69h-1.2M404.97,285.50v1.2M368.80,255.34h-1.2M407.15,285.50v1.2M368.80,253.52h-1.2M408.94,285.50v1.2M368.80,252.03h-1.2M410.45,285.50v1.2M368.80,250.77h-1.2M411.76,285.50v1.2M368.80,249.67h-1.2M412.92,285.50v1.2M368.80,248.71h-1.2M413.95,285.50v2.2M368.80,247.85h-2.2M420.75,285.50v1.2M368.80,242.18h-1.2M424.72,285.50v1.2M368.80,238.87h-1.2M427.54,285.50v1.2M368.80,236.52h-1.2M429.73,285.50v1.2M368.80,234.69h-1.2M431.52,285.50v1.2M368.80,233.20h-1.2M433.03,285.50v1.2M368.80,231.94h-1.2M434.34,285.50v1.2M368.80,230.85h-1.2M435.49,285.50v1.2M368.80,229.89h-1.2M436.53,285.50v2.2M368.80,229.02h-2.2M443.32,285.50v1.2M368.80,223.36h-1.2M447.30,285.50v1.2M368.80,220.04h-1.2M450.12,285.50v1.2M368.80,217.69h-1.2M452.30,285.50v1.2M368.80,215.87h-1.2M454.09,285.50v1.2M368.80,214.38h-1.2M455.60,285.50v1.2M368.80,213.12h-1.2M456.91,285.50v1.2M368.80,212.02h-1.2M458.07,285.50v1.2M368.80,211.06h-1.2M459.10,285.50v2.2M368.80,210.20h-2.2" stroke="#444" stroke-width="0.8" fill="none"/>
<text x="365.80" y="294.00" font-size="5.2" fill="#444" textLength="5.5" lengthAdjust="spacingAndGlyphs">10</text><text x="371.50" y="291.00" font-size="4.2" fill="#444">0</text>
<g transform="translate(364.30 288.50) rotate(-90)"><text x="0" y="0" font-size="5.2" fill="#444" textLength="5.5" lengthAdjust="spacingAndGlyphs">10</text><text x="5.7" y="-3" font-size="4.2" fill="#444">0</text></g>
<text x="388.38" y="294.00" font-size="5.2" fill="#444" textLength="5.5" lengthAdjust="spacingAndGlyphs">10</text><text x="394.07" y="291.00" font-size="4.2" fill="#444">1</text>
<g transform="translate(364.30 269.68) rotate(-90)"><text x="0" y="0" font-size="5.2" fill="#444" textLength="5.5" lengthAdjust="spacingAndGlyphs">10</text><text x="5.7" y="-3" font-size="4.2" fill="#444">1</text></g>
<text x="410.95" y="294.00" font-size="5.2" fill="#444" textLength="5.5" lengthAdjust="spacingAndGlyphs">10</text><text x="416.65" y="291.00" font-size="4.2" fill="#444">2</text>
<g transform="translate(364.30 250.85) rotate(-90)"><text x="0" y="0" font-size="5.2" fill="#444" textLength="5.5" lengthAdjust="spacingAndGlyphs">10</text><text x="5.7" y="-3" font-size="4.2" fill="#444">2</text></g>
<text x="433.53" y="294.00" font-size="5.2" fill="#444" textLength="5.5" lengthAdjust="spacingAndGlyphs">10</text><text x="439.23" y="291.00" font-size="4.2" fill="#444">3</text>
<g transform="translate(364.30 232.02) rotate(-90)"><text x="0" y="0" font-size="5.2" fill="#444" textLength="5.5" lengthAdjust="spacingAndGlyphs">10</text><text x="5.7" y="-3" font-size="4.2" fill="#444">3</text></g>
<text x="456.10" y="294.00" font-size="5.2" fill="#444" textLength="5.5" lengthAdjust="spacingAndGlyphs">10</text><text x="461.80" y="291.00" font-size="4.2" fill="#444">4</text>
<g transform="translate(364.30 213.20) rotate(-90)"><text x="0" y="0" font-size="5.2" fill="#444" textLength="5.5" lengthAdjust="spacingAndGlyphs">10</text><text x="5.7" y="-3" font-size="4.2" fill="#444">4</text></g>
<line x1="413.50" y1="210.20" x2="413.50" y2="285.50" stroke="#444" stroke-width="1"/>
<line x1="368.80" y1="246.50" x2="459.10" y2="246.50" stroke="#444" stroke-width="1"/>
<text x="397.30" y="207.60" font-size="6" text-anchor="start" font-weight="normal" fill="#222" textLength="25" lengthAdjust="spacingAndGlyphs">FTOC A 007</text>
<text x="371.00" y="221.00" font-size="11" text-anchor="start" font-weight="normal" fill="#151515" stroke="#151515" stroke-width="0.3">14.1</text>
<text x="458.70" y="221.00" font-size="11" text-anchor="end" font-weight="normal" fill="#151515" stroke="#151515" stroke-width="0.3">30.6</text>
<text x="371.40" y="283.60" font-size="11" text-anchor="start" font-weight="normal" fill="#151515" stroke="#151515" stroke-width="0.3">50.7</text>
<text x="457.60" y="283.60" font-size="11" text-anchor="end" font-weight="normal" fill="#151515" stroke="#151515" stroke-width="0.3">4.5</text>
<text x="358.00" y="250.90" font-size="13" text-anchor="middle" font-weight="normal" fill="#151515" stroke="#151515" stroke-width="0.3" transform="rotate(-90 358 250.9)">CD4</text>
<text x="399.00" y="307.90" font-size="13" text-anchor="start" font-weight="normal" fill="#151515" stroke="#151515" stroke-width="0.3">CD8</text>
<text x="9.60" y="355.80" font-size="25" text-anchor="start" font-weight="bold" fill="#000" textLength="17.4" lengthAdjust="spacingAndGlyphs">B</text>
<text x="14.20" y="474.90" font-size="13" text-anchor="middle" font-weight="normal" fill="#151515" stroke="#151515" stroke-width="0.3" transform="rotate(-90 14.2 474.9)">Fold Change: Treated/Untreated</text>
<text x="76.50" y="398.00" font-size="13.2" text-anchor="start" font-weight="normal" fill="#151515" stroke="#151515" stroke-width="0.3">%DN</text>
<text x="153.70" y="398.50" font-size="12.8" text-anchor="start" font-weight="normal" fill="#151515" stroke="#151515" stroke-width="0.3">%DN1</text>
<text x="228.00" y="398.50" font-size="12.8" text-anchor="start" font-weight="normal" fill="#151515" stroke="#151515" stroke-width="0.3">%DN3</text>
<line x1="45.50" y1="414.60" x2="45.50" y2="524.80" stroke="#777" stroke-width="1.2"/>
<line x1="42.00" y1="524.50" x2="45.00" y2="524.50" stroke="#777" stroke-width="1.2"/>
<text x="36.00" y="529.10" font-size="12.5" text-anchor="end" font-weight="normal" fill="#151515" stroke="#151515" stroke-width="0.3">0</text>
<line x1="42.00" y1="497.50" x2="45.00" y2="497.50" stroke="#777" stroke-width="1.2"/>
<text x="36.00" y="501.65" font-size="12.5" text-anchor="end" font-weight="normal" fill="#151515" stroke="#151515" stroke-width="0.3">1</text>
<line x1="42.00" y1="469.50" x2="45.00" y2="469.50" stroke="#777" stroke-width="1.2"/>
<text x="36.00" y="474.20" font-size="12.5" text-anchor="end" font-weight="normal" fill="#151515" stroke="#151515" stroke-width="0.3">2</text>
<line x1="42.00" y1="442.50" x2="45.00" y2="442.50" stroke="#777" stroke-width="1.2"/>
<text x="36.00" y="446.75" font-size="12.5" text-anchor="end" font-weight="normal" fill="#151515" stroke="#151515" stroke-width="0.3">3</text>
<line x1="42.00" y1="414.50" x2="45.00" y2="414.50" stroke="#777" stroke-width="1.2"/>
<text x="36.00" y="419.30" font-size="12.5" text-anchor="end" font-weight="normal" fill="#151515" stroke="#151515" stroke-width="0.3">4</text>
<line x1="45.00" y1="524.50" x2="283.00" y2="524.50" stroke="#666" stroke-width="1.2"/>
<rect x="59.50" y="497.50" width="20.00" height="27.00" fill="#fff" stroke="#333" stroke-width="1"/>
<rect x="79.50" y="460.50" width="21.00" height="64.00" fill="url(#grain)" stroke="#333" stroke-width="1"/>
<rect x="100.50" y="460.50" width="20.00" height="64.00" fill="url(#stripes)" stroke="#333" stroke-width="1"/>
<rect x="140.50" y="497.50" width="20.00" height="27.00" fill="#fff" stroke="#333" stroke-width="1"/>
<rect x="160.50" y="477.50" width="20.00" height="47.00" fill="url(#grain)" stroke="#333" stroke-width="1"/>
<rect x="180.50" y="478.50" width="21.00" height="46.00" fill="url(#stripes)" stroke="#333" stroke-width="1"/>
<rect x="221.50" y="497.50" width="20.00" height="27.00" fill="#fff" stroke="#333" stroke-width="1"/>
<rect x="241.50" y="512.50" width="20.00" height="12.00" fill="url(#grain)" stroke="#333" stroke-width="1"/>
<rect x="261.50" y="511.50" width="21.00" height="13.00" fill="url(#stripes)" stroke="#333" stroke-width="1"/>
<line x1="90.50" y1="444.50" x2="90.50" y2="476.00" stroke="#222" stroke-width="1"/>
<line x1="89.00" y1="444.50" x2="91.00" y2="444.50" stroke="#333" stroke-width="0.9"/>
<line x1="89.00" y1="476.50" x2="91.00" y2="476.50" stroke="#333" stroke-width="0.9"/>
<line x1="110.50" y1="445.00" x2="110.50" y2="475.00" stroke="#222" stroke-width="1"/>
<line x1="109.50" y1="445.50" x2="111.50" y2="445.50" stroke="#333" stroke-width="0.9"/>
<line x1="109.50" y1="475.50" x2="111.50" y2="475.50" stroke="#333" stroke-width="0.9"/>
<line x1="170.50" y1="472.30" x2="170.50" y2="481.50" stroke="#222" stroke-width="1"/>
<line x1="169.60" y1="472.50" x2="171.60" y2="472.50" stroke="#333" stroke-width="0.9"/>
<line x1="169.60" y1="481.50" x2="171.60" y2="481.50" stroke="#333" stroke-width="0.9"/>
<line x1="191.50" y1="473.00" x2="191.50" y2="484.60" stroke="#222" stroke-width="1"/>
<line x1="190.50" y1="473.50" x2="192.50" y2="473.50" stroke="#333" stroke-width="0.9"/>
<line x1="190.50" y1="484.50" x2="192.50" y2="484.50" stroke="#333" stroke-width="0.9"/>
<line x1="252.50" y1="507.70" x2="252.50" y2="516.90" stroke="#222" stroke-width="1"/>
<line x1="251.20" y1="507.50" x2="253.20" y2="507.50" stroke="#333" stroke-width="0.9"/>
<line x1="251.20" y1="516.50" x2="253.20" y2="516.50" stroke="#333" stroke-width="0.9"/>
<line x1="272.50" y1="506.20" x2="272.50" y2="516.90" stroke="#222" stroke-width="1"/>
<line x1="271.20" y1="506.50" x2="273.20" y2="506.50" stroke="#333" stroke-width="0.9"/>
<line x1="271.20" y1="516.50" x2="273.20" y2="516.50" stroke="#333" stroke-width="0.9"/>
<text x="68.80" y="544.60" font-size="12" text-anchor="middle" font-weight="normal" fill="#151515" stroke="#151515" stroke-width="0.3">1</text>
<text x="89.20" y="544.60" font-size="12" text-anchor="middle" font-weight="normal" fill="#151515" stroke="#151515" stroke-width="0.3">2</text>
<text x="112.00" y="544.60" font-size="12" text-anchor="middle" font-weight="normal" fill="#151515" stroke="#151515" stroke-width="0.3">3</text>
<text x="152.10" y="545.90" font-size="12" text-anchor="middle" font-weight="normal" fill="#151515" stroke="#151515" stroke-width="0.3">1</text>
<text x="172.40" y="545.90" font-size="12" text-anchor="middle" font-weight="normal" fill="#151515" stroke="#151515" stroke-width="0.3">2</text>
<text x="192.80" y="545.90" font-size="12" text-anchor="middle" font-weight="normal" fill="#151515" stroke="#151515" stroke-width="0.3">3</text>
<text x="231.70" y="547.30" font-size="12" text-anchor="middle" font-weight="normal" fill="#151515" stroke="#151515" stroke-width="0.3">1</text>
<text x="253.10" y="547.30" font-size="12" text-anchor="middle" font-weight="normal" fill="#151515" stroke="#151515" stroke-width="0.3">2</text>
<text x="275.00" y="547.30" font-size="12" text-anchor="middle" font-weight="normal" fill="#151515" stroke="#151515" stroke-width="0.3">3</text>
<text x="53.00" y="581.70" font-size="13.1" text-anchor="start" font-weight="normal" fill="#151515" stroke="#151515" stroke-width="0.3">1: Control</text>
<text x="53.00" y="596.20" font-size="13.1" text-anchor="start" font-weight="normal" fill="#151515" stroke="#151515" stroke-width="0.3">2: FGF</text>
<text x="53.00" y="610.60" font-size="13.1" text-anchor="start" font-weight="normal" fill="#151515" stroke="#151515" stroke-width="0.3">3: FGF/BMP4 inhibitor</text>
<text x="292.30" y="356.20" font-size="25" text-anchor="start" font-weight="bold" fill="#000">C</text>
<text x="393.00" y="403.30" font-size="15.4" text-anchor="start" font-weight="normal" fill="#151515" stroke="#151515" stroke-width="0.3">Cell No./lobe</text>
<text x="359.20" y="472.50" font-size="13" text-anchor="middle" font-weight="normal" fill="#151515" stroke="#151515" stroke-width="0.3" transform="rotate(-90 359.2 472.5)">Fold Change: Treated/Untreated</text>
<line x1="393.50" y1="424.10" x2="393.50" y2="517.30" stroke="#777" stroke-width="1.2"/>
<line x1="390.00" y1="517.50" x2="393.00" y2="517.50" stroke="#777" stroke-width="1.2"/>
<text x="382.80" y="520.50" font-size="13" text-anchor="end" font-weight="normal" fill="#151515" stroke="#151515" stroke-width="0.3">0</text>
<line x1="390.00" y1="486.50" x2="393.00" y2="486.50" stroke="#777" stroke-width="1.2"/>
<text x="388.60" y="489.43" font-size="13" text-anchor="end" font-weight="normal" fill="#151515" stroke="#151515" stroke-width="0.3">0.5</text>
<line x1="390.00" y1="455.50" x2="393.00" y2="455.50" stroke="#777" stroke-width="1.2"/>
<text x="382.80" y="458.36" font-size="13" text-anchor="end" font-weight="normal" fill="#151515" stroke="#151515" stroke-width="0.3">1</text>
<line x1="390.00" y1="424.50" x2="393.00" y2="424.50" stroke="#777" stroke-width="1.2"/>
<text x="388.60" y="427.29" font-size="13" text-anchor="end" font-weight="normal" fill="#151515" stroke="#151515" stroke-width="0.3">1.5</text>
<line x1="393.00" y1="517.50" x2="496.00" y2="517.50" stroke="#666" stroke-width="1.2"/>
<rect x="418.50" y="455.50" width="24.00" height="62.00" fill="#fff" stroke="#333" stroke-width="1"/>
<rect x="442.50" y="499.50" width="24.00" height="18.00" fill="url(#grain)" stroke="#333" stroke-width="1"/>
<rect x="466.50" y="502.50" width="24.00" height="15.00" fill="url(#stripes)" stroke="#333" stroke-width="1"/>
<line x1="454.50" y1="493.30" x2="454.50" y2="505.40" stroke="#222" stroke-width="1"/>
<line x1="453.20" y1="493.50" x2="455.20" y2="493.50" stroke="#333" stroke-width="0.9"/>
<line x1="453.20" y1="505.50" x2="455.20" y2="505.50" stroke="#333" stroke-width="0.9"/>
<line x1="478.50" y1="497.40" x2="478.50" y2="507.30" stroke="#222" stroke-width="1"/>
<line x1="477.50" y1="497.50" x2="479.50" y2="497.50" stroke="#333" stroke-width="0.9"/>
<line x1="477.50" y1="507.50" x2="479.50" y2="507.50" stroke="#333" stroke-width="0.9"/>
<text x="433.20" y="543.10" font-size="12" text-anchor="middle" font-weight="normal" fill="#151515" stroke="#151515" stroke-width="0.3">1</text>
<text x="456.90" y="543.10" font-size="12" text-anchor="middle" font-weight="normal" fill="#151515" stroke="#151515" stroke-width="0.3">2</text>
<text x="479.80" y="543.10" font-size="12" text-anchor="middle" font-weight="normal" fill="#151515" stroke="#151515" stroke-width="0.3">3</text>
<text x="389.90" y="582.60" font-size="13" text-anchor="start" font-weight="normal" fill="#151515" stroke="#151515" stroke-width="0.3">1: Control</text>
<text x="389.90" y="597.80" font-size="13" text-anchor="start" font-weight="normal" fill="#151515" stroke="#151515" stroke-width="0.3">2: FGF</text>
<text x="389.90" y="613.30" font-size="12.9" text-anchor="start" font-weight="normal" fill="#151515" stroke="#151515" stroke-width="0.3">3: FGF/BMP4 inhibitor</text></svg></body></html>
